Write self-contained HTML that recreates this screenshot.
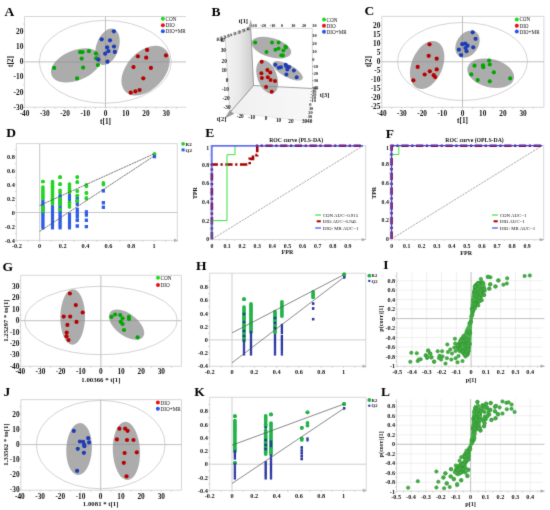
<!DOCTYPE html><html><head><meta charset="utf-8"><style>html,body{margin:0;padding:0;background:#fff;overflow:hidden}svg{display:block}</style></head><body>
<svg width="550" height="510" viewBox="0 0 550 510" shape-rendering="geometricPrecision">
<defs><filter id="soft" filterUnits="userSpaceOnUse" x="0" y="0" width="550" height="510" color-interpolation-filters="sRGB"><feConvolveMatrix order="3" kernelMatrix="0.0183 0.1353 0.0183 0.1353 1 0.1353 0.0183 0.1353 0.0183" divisor="1.6146" edgeMode="duplicate" preserveAlpha="true"/></filter></defs>
<g filter="url(#soft)">
<rect width="550" height="510" fill="#fff"/>
<text x="4.5" y="16.2" font-size="13.5" text-anchor="start" font-weight="bold" font-family="'Liberation Serif', serif" fill="#000" >A</text>
<line x1="24.5" y1="16.5" x2="186" y2="16.5" stroke="#d2d2d2" stroke-width="0.9" />
<line x1="24.5" y1="16.5" x2="24.5" y2="107.2" stroke="#d2d2d2" stroke-width="0.9" />
<line x1="24.5" y1="107.2" x2="186" y2="107.2" stroke="#d2d2d2" stroke-width="0.9" />
<line x1="24.5" y1="107.2" x2="24.5" y2="108.8" stroke="#bdbdbd" stroke-width="0.6" />
<line x1="34.62" y1="107.2" x2="34.62" y2="108.8" stroke="#bdbdbd" stroke-width="0.6" />
<line x1="44.75" y1="107.2" x2="44.75" y2="108.8" stroke="#bdbdbd" stroke-width="0.6" />
<line x1="54.88" y1="107.2" x2="54.88" y2="108.8" stroke="#bdbdbd" stroke-width="0.6" />
<line x1="65" y1="107.2" x2="65" y2="108.8" stroke="#bdbdbd" stroke-width="0.6" />
<line x1="75.12" y1="107.2" x2="75.12" y2="108.8" stroke="#bdbdbd" stroke-width="0.6" />
<line x1="85.25" y1="107.2" x2="85.25" y2="108.8" stroke="#bdbdbd" stroke-width="0.6" />
<line x1="95.38" y1="107.2" x2="95.38" y2="108.8" stroke="#bdbdbd" stroke-width="0.6" />
<line x1="105.5" y1="107.2" x2="105.5" y2="108.8" stroke="#bdbdbd" stroke-width="0.6" />
<line x1="115.62" y1="107.2" x2="115.62" y2="108.8" stroke="#bdbdbd" stroke-width="0.6" />
<line x1="125.75" y1="107.2" x2="125.75" y2="108.8" stroke="#bdbdbd" stroke-width="0.6" />
<line x1="135.88" y1="107.2" x2="135.88" y2="108.8" stroke="#bdbdbd" stroke-width="0.6" />
<line x1="146" y1="107.2" x2="146" y2="108.8" stroke="#bdbdbd" stroke-width="0.6" />
<line x1="156.12" y1="107.2" x2="156.12" y2="108.8" stroke="#bdbdbd" stroke-width="0.6" />
<line x1="166.25" y1="107.2" x2="166.25" y2="108.8" stroke="#bdbdbd" stroke-width="0.6" />
<line x1="176.38" y1="107.2" x2="176.38" y2="108.8" stroke="#bdbdbd" stroke-width="0.6" />
<line x1="22.9" y1="107.35" x2="24.5" y2="107.35" stroke="#bdbdbd" stroke-width="0.6" />
<line x1="22.9" y1="99.78" x2="24.5" y2="99.78" stroke="#bdbdbd" stroke-width="0.6" />
<line x1="22.9" y1="92.2" x2="24.5" y2="92.2" stroke="#bdbdbd" stroke-width="0.6" />
<line x1="22.9" y1="84.62" x2="24.5" y2="84.62" stroke="#bdbdbd" stroke-width="0.6" />
<line x1="22.9" y1="77.05" x2="24.5" y2="77.05" stroke="#bdbdbd" stroke-width="0.6" />
<line x1="22.9" y1="69.47" x2="24.5" y2="69.47" stroke="#bdbdbd" stroke-width="0.6" />
<line x1="22.9" y1="61.9" x2="24.5" y2="61.9" stroke="#bdbdbd" stroke-width="0.6" />
<line x1="22.9" y1="54.33" x2="24.5" y2="54.33" stroke="#bdbdbd" stroke-width="0.6" />
<line x1="22.9" y1="46.75" x2="24.5" y2="46.75" stroke="#bdbdbd" stroke-width="0.6" />
<line x1="22.9" y1="39.17" x2="24.5" y2="39.17" stroke="#bdbdbd" stroke-width="0.6" />
<line x1="22.9" y1="31.6" x2="24.5" y2="31.6" stroke="#bdbdbd" stroke-width="0.6" />
<line x1="22.9" y1="24.02" x2="24.5" y2="24.02" stroke="#bdbdbd" stroke-width="0.6" />
<ellipse cx="105.3" cy="61.8" rx="66" ry="41.4" transform="rotate(0 105.3 61.8)" fill="none" stroke="#c8c8c8" stroke-width="0.8" />
<line x1="24.5" y1="61.9" x2="186" y2="61.9" stroke="#bababa" stroke-width="0.9" />
<line x1="105.5" y1="16.5" x2="105.5" y2="107.2" stroke="#bababa" stroke-width="0.9" />
<ellipse cx="75.95" cy="65.4" rx="26.34" ry="15.04" transform="rotate(-22.09 75.95 65.4)" fill="#8c8c8c" stroke="none" stroke-width="0" fill-opacity="0.72" />
<ellipse cx="107.5" cy="46.8" rx="18.84" ry="11.18" transform="rotate(-71.22 107.5 46.8)" fill="#8c8c8c" stroke="none" stroke-width="0" fill-opacity="0.72" />
<ellipse cx="145.6" cy="70.65" rx="29.14" ry="18.82" transform="rotate(-46.85 145.6 70.65)" fill="#8c8c8c" stroke="none" stroke-width="0" fill-opacity="0.72" />
<circle cx="54.1" cy="67.9" r="2.1" fill="#00a800"/>
<circle cx="77.1" cy="78.4" r="2.1" fill="#00a800"/>
<circle cx="83.1" cy="67.6" r="2.1" fill="#00a800"/>
<circle cx="81.7" cy="58.6" r="2.1" fill="#00a800"/>
<circle cx="80" cy="52.1" r="2.1" fill="#00a800"/>
<circle cx="82.5" cy="52.1" r="2.1" fill="#00a800"/>
<circle cx="88.9" cy="51.2" r="2.1" fill="#00a800"/>
<circle cx="95.9" cy="53.5" r="2.1" fill="#00a800"/>
<circle cx="96.1" cy="58.3" r="2.1" fill="#00a800"/>
<circle cx="97.9" cy="65" r="2.1" fill="#00a800"/>
<circle cx="113.9" cy="31.3" r="2.1" fill="#1c3cb8"/>
<circle cx="101.7" cy="39.3" r="2.1" fill="#1c3cb8"/>
<circle cx="110" cy="40.3" r="2.1" fill="#1c3cb8"/>
<circle cx="107.1" cy="47.3" r="2.1" fill="#1c3cb8"/>
<circle cx="114" cy="46.5" r="2.1" fill="#1c3cb8"/>
<circle cx="108.4" cy="51.2" r="2.1" fill="#1c3cb8"/>
<circle cx="114.8" cy="51.9" r="2.1" fill="#1c3cb8"/>
<circle cx="105.2" cy="53.7" r="2.1" fill="#1c3cb8"/>
<circle cx="98.3" cy="59.6" r="2.1" fill="#1c3cb8"/>
<circle cx="107.5" cy="61.7" r="2.1" fill="#1c3cb8"/>
<circle cx="147.1" cy="49.9" r="2.1" fill="#b80000"/>
<circle cx="137.9" cy="56.3" r="2.1" fill="#b80000"/>
<circle cx="146.2" cy="57.7" r="2.1" fill="#b80000"/>
<circle cx="166" cy="55.4" r="2.1" fill="#b80000"/>
<circle cx="133.5" cy="67.1" r="2.1" fill="#b80000"/>
<circle cx="150.9" cy="67.9" r="2.1" fill="#b80000"/>
<circle cx="143.3" cy="78.3" r="2.1" fill="#b80000"/>
<circle cx="130.7" cy="92.7" r="2.1" fill="#b80000"/>
<circle cx="135.4" cy="91.4" r="2.1" fill="#b80000"/>
<circle cx="139.6" cy="90" r="2.1" fill="#b80000"/>
<text x="23.3" y="34" font-size="7.3" text-anchor="end" font-weight="bold" font-family="'Liberation Serif', serif" fill="#111" >20</text>
<text x="23.3" y="49.15" font-size="7.3" text-anchor="end" font-weight="bold" font-family="'Liberation Serif', serif" fill="#111" >10</text>
<text x="23.3" y="64.3" font-size="7.3" text-anchor="end" font-weight="bold" font-family="'Liberation Serif', serif" fill="#111" >0</text>
<text x="23.3" y="79.45" font-size="7.3" text-anchor="end" font-weight="bold" font-family="'Liberation Serif', serif" fill="#111" >-10</text>
<text x="23.3" y="94.6" font-size="7.3" text-anchor="end" font-weight="bold" font-family="'Liberation Serif', serif" fill="#111" >-20</text>
<text x="23.3" y="109.75" font-size="7.3" text-anchor="end" font-weight="bold" font-family="'Liberation Serif', serif" fill="#111" >-30</text>
<text x="24.5" y="115.8" font-size="7.3" text-anchor="middle" font-weight="bold" font-family="'Liberation Serif', serif" fill="#111" >-40</text>
<text x="44.75" y="115.8" font-size="7.3" text-anchor="middle" font-weight="bold" font-family="'Liberation Serif', serif" fill="#111" >-30</text>
<text x="65" y="115.8" font-size="7.3" text-anchor="middle" font-weight="bold" font-family="'Liberation Serif', serif" fill="#111" >-20</text>
<text x="85.25" y="115.8" font-size="7.3" text-anchor="middle" font-weight="bold" font-family="'Liberation Serif', serif" fill="#111" >-10</text>
<text x="105.5" y="115.8" font-size="7.3" text-anchor="middle" font-weight="bold" font-family="'Liberation Serif', serif" fill="#111" >0</text>
<text x="125.75" y="115.8" font-size="7.3" text-anchor="middle" font-weight="bold" font-family="'Liberation Serif', serif" fill="#111" >10</text>
<text x="146" y="115.8" font-size="7.3" text-anchor="middle" font-weight="bold" font-family="'Liberation Serif', serif" fill="#111" >20</text>
<text x="166.25" y="115.8" font-size="7.3" text-anchor="middle" font-weight="bold" font-family="'Liberation Serif', serif" fill="#111" >30</text>
<text x="105.5" y="123.6" font-size="7.3" text-anchor="middle" font-weight="bold" font-family="'Liberation Serif', serif" fill="#111" >t[1]</text>
<text x="12.8" y="61.5" font-size="7.3" text-anchor="middle" font-weight="bold" font-family="'Liberation Serif', serif" fill="#111" transform="rotate(-90 12.8 61.5)" >t[2]</text>
<circle cx="162.9" cy="18.7" r="2.0" fill="#1edc1e"/>
<circle cx="162.9" cy="25.3" r="2.0" fill="#ec1010"/>
<circle cx="162.9" cy="31.2" r="2.0" fill="#2456ec"/>
<text x="165.5" y="20.6" font-size="5.2" text-anchor="start" font-weight="normal" font-family="'Liberation Serif', serif" fill="#111" >CON</text>
<text x="165.5" y="27.2" font-size="5.2" text-anchor="start" font-weight="normal" font-family="'Liberation Serif', serif" fill="#111" >DIO</text>
<text x="165.5" y="33.1" font-size="5.2" text-anchor="start" font-weight="normal" font-family="'Liberation Serif', serif" fill="#111" >DIO+MR</text>
<text x="211.5" y="16.4" font-size="13.5" text-anchor="start" font-weight="bold" font-family="'Liberation Serif', serif" fill="#000" >B</text>
<defs><linearGradient id="wallg" x1="0" y1="0" x2="1" y2="0"><stop offset="0" stop-color="#f4f4f4"/><stop offset="0.5" stop-color="#e8e8e8"/><stop offset="1" stop-color="#cbcbcb"/></linearGradient><linearGradient id="floorg" x1="0" y1="0" x2="1" y2="0"><stop offset="0" stop-color="#f0f0f0"/><stop offset="1" stop-color="#f8f8f8"/></linearGradient></defs>
<polygon points="225.2,37.6 250.6,26.2 253.6,85.5 229.8,112.5" fill="url(#wallg)" stroke="none"/>
<polygon points="253.6,85.5 313,88.6 310.5,121 229.8,112.5" fill="url(#floorg)" stroke="none"/>
<line x1="225.2" y1="37.6" x2="229.8" y2="112.5" stroke="#c4c4c4" stroke-width="0.7" />
<line x1="250.6" y1="26.2" x2="253.6" y2="85.5" stroke="#8e8e8e" stroke-width="0.8" />
<line x1="253.6" y1="85.5" x2="229.8" y2="112.5" stroke="#7a7a7a" stroke-width="0.8" />
<line x1="253.6" y1="85.5" x2="318" y2="88.8" stroke="#8a8a8a" stroke-width="0.8" />
<line x1="250.6" y1="28" x2="312.3" y2="28.4" stroke="#b8b8b8" stroke-width="0.6" />
<line x1="312.3" y1="28.4" x2="312.6" y2="88.6" stroke="#b8b8b8" stroke-width="0.6" />
<line x1="229.8" y1="112.5" x2="310.5" y2="121.5" stroke="#dadada" stroke-width="0.6" />
<line x1="225.2" y1="37.6" x2="250.6" y2="26.2" stroke="#c8c8c8" stroke-width="0.6" />
<polygon points="224.5,118.5 230,110 234,114" fill="#9a9a9a"/>
<polygon points="250.6,19.5 248.8,27 252.6,27" fill="#a8a8a8"/>
<polygon points="319,88.8 313,86.6 313,91" fill="#9a9a9a"/>
<ellipse cx="271.4" cy="47.55" rx="20.46" ry="9.56" transform="rotate(16.5 271.4 47.55)" fill="#8c8c8c" stroke="none" stroke-width="0" fill-opacity="0.72" />
<ellipse cx="267.15" cy="76.8" rx="17.52" ry="9.76" transform="rotate(70.05 267.15 76.8)" fill="#8c8c8c" stroke="none" stroke-width="0" fill-opacity="0.72" />
<ellipse cx="287.7" cy="70.8" rx="16.87" ry="6.27" transform="rotate(28.73 287.7 70.8)" fill="#8c8c8c" stroke="none" stroke-width="0" fill-opacity="0.72" />
<circle cx="255.2" cy="42.6" r="2.0" fill="#00a800"/>
<circle cx="272" cy="42.4" r="2.0" fill="#00a800"/>
<circle cx="278.6" cy="42.4" r="2.0" fill="#00a800"/>
<circle cx="285.4" cy="46.6" r="2.0" fill="#00a800"/>
<circle cx="286" cy="47.6" r="2.0" fill="#00a800"/>
<circle cx="278.6" cy="48.6" r="2.0" fill="#00a800"/>
<circle cx="275.4" cy="49.7" r="2.0" fill="#00a800"/>
<circle cx="283.4" cy="50.4" r="2.0" fill="#00a800"/>
<circle cx="266.5" cy="52" r="2.0" fill="#00a800"/>
<circle cx="281.3" cy="55.2" r="2.0" fill="#00a800"/>
<circle cx="283" cy="55.5" r="2.0" fill="#00a800"/>
<circle cx="261.7" cy="61.8" r="2.0" fill="#b80000"/>
<circle cx="267.4" cy="70" r="2.0" fill="#b80000"/>
<circle cx="270.3" cy="72.6" r="2.0" fill="#b80000"/>
<circle cx="261.4" cy="73.3" r="2.0" fill="#b80000"/>
<circle cx="261.9" cy="78.1" r="2.0" fill="#b80000"/>
<circle cx="267.8" cy="77.2" r="2.0" fill="#b80000"/>
<circle cx="270.6" cy="79.9" r="2.0" fill="#b80000"/>
<circle cx="275" cy="81" r="2.0" fill="#b80000"/>
<circle cx="266.1" cy="87" r="2.0" fill="#b80000"/>
<circle cx="271.7" cy="91.8" r="2.0" fill="#b80000"/>
<circle cx="275.4" cy="64.8" r="2.0" fill="#1c3cb8"/>
<circle cx="278.8" cy="67.8" r="2.0" fill="#1c3cb8"/>
<circle cx="280.9" cy="67.3" r="2.0" fill="#1c3cb8"/>
<circle cx="285.7" cy="64.8" r="2.0" fill="#1c3cb8"/>
<circle cx="286.4" cy="66.2" r="2.0" fill="#1c3cb8"/>
<circle cx="289.1" cy="66.9" r="2.0" fill="#1c3cb8"/>
<circle cx="287.3" cy="69.6" r="2.0" fill="#1c3cb8"/>
<circle cx="293.9" cy="70.6" r="2.0" fill="#1c3cb8"/>
<circle cx="286.4" cy="74.4" r="2.0" fill="#1c3cb8"/>
<circle cx="296.7" cy="77.2" r="2.0" fill="#1c3cb8"/>
<text x="224.7" y="42.3" font-size="5.3" text-anchor="end" font-weight="bold" font-family="'Liberation Serif', serif" fill="#111" >40</text>
<text x="226" y="52.4" font-size="5.3" text-anchor="end" font-weight="bold" font-family="'Liberation Serif', serif" fill="#111" >30</text>
<text x="226.8" y="62.7" font-size="5.3" text-anchor="end" font-weight="bold" font-family="'Liberation Serif', serif" fill="#111" >20</text>
<text x="226.7" y="72.2" font-size="5.3" text-anchor="end" font-weight="bold" font-family="'Liberation Serif', serif" fill="#111" >10</text>
<text x="228.4" y="81.8" font-size="5.3" text-anchor="end" font-weight="bold" font-family="'Liberation Serif', serif" fill="#111" >0</text>
<text x="228.9" y="91" font-size="5.3" text-anchor="end" font-weight="bold" font-family="'Liberation Serif', serif" fill="#111" >-10</text>
<text x="229.6" y="99.9" font-size="5.3" text-anchor="end" font-weight="bold" font-family="'Liberation Serif', serif" fill="#111" >-20</text>
<text x="230.6" y="108.8" font-size="5.3" text-anchor="end" font-weight="bold" font-family="'Liberation Serif', serif" fill="#111" >-30</text>
<text x="240.2" y="117.7" font-size="5.2" text-anchor="middle" font-weight="bold" font-family="'Liberation Serif', serif" fill="#111" >-20</text>
<text x="251.7" y="119.3" font-size="5.2" text-anchor="middle" font-weight="bold" font-family="'Liberation Serif', serif" fill="#111" >-10</text>
<text x="266" y="120.3" font-size="5.2" text-anchor="middle" font-weight="bold" font-family="'Liberation Serif', serif" fill="#111" >0</text>
<text x="278.5" y="121.6" font-size="5.2" text-anchor="middle" font-weight="bold" font-family="'Liberation Serif', serif" fill="#111" >10</text>
<text x="290.9" y="122.6" font-size="5.2" text-anchor="middle" font-weight="bold" font-family="'Liberation Serif', serif" fill="#111" >20</text>
<text x="307.1" y="123.4" font-size="5.2" text-anchor="middle" font-weight="bold" font-family="'Liberation Serif', serif" fill="#111" >3040</text>
<text x="254" y="27.4" font-size="4.2" text-anchor="middle" font-weight="bold" font-family="'Liberation Serif', serif" fill="#111" >-30</text>
<text x="263.2" y="27.4" font-size="4.2" text-anchor="middle" font-weight="bold" font-family="'Liberation Serif', serif" fill="#111" >-20</text>
<text x="272.6" y="27.4" font-size="4.2" text-anchor="middle" font-weight="bold" font-family="'Liberation Serif', serif" fill="#111" >-10</text>
<text x="282" y="27.4" font-size="4.2" text-anchor="middle" font-weight="bold" font-family="'Liberation Serif', serif" fill="#111" >0</text>
<text x="293.3" y="27.4" font-size="4.2" text-anchor="middle" font-weight="bold" font-family="'Liberation Serif', serif" fill="#111" >10</text>
<text x="304" y="27.4" font-size="4.2" text-anchor="middle" font-weight="bold" font-family="'Liberation Serif', serif" fill="#111" >20</text>
<text x="314.4" y="27.4" font-size="4.2" text-anchor="middle" font-weight="bold" font-family="'Liberation Serif', serif" fill="#111" >30</text>
<text x="312.3" y="36.6" font-size="4.4" text-anchor="start" font-weight="bold" font-family="'Liberation Serif', serif" fill="#111" >30</text>
<text x="312.3" y="44.7" font-size="4.4" text-anchor="start" font-weight="bold" font-family="'Liberation Serif', serif" fill="#111" >20</text>
<text x="312.3" y="52.7" font-size="4.4" text-anchor="start" font-weight="bold" font-family="'Liberation Serif', serif" fill="#111" >10</text>
<text x="312.3" y="60.5" font-size="4.4" text-anchor="start" font-weight="bold" font-family="'Liberation Serif', serif" fill="#111" >0</text>
<text x="312.3" y="67.8" font-size="4.4" text-anchor="start" font-weight="bold" font-family="'Liberation Serif', serif" fill="#111" >-10</text>
<text x="312.3" y="75.2" font-size="4.4" text-anchor="start" font-weight="bold" font-family="'Liberation Serif', serif" fill="#111" >-20</text>
<text x="312.3" y="82.1" font-size="4.4" text-anchor="start" font-weight="bold" font-family="'Liberation Serif', serif" fill="#111" >-30</text>
<text x="312.3" y="88.9" font-size="4.4" text-anchor="start" font-weight="bold" font-family="'Liberation Serif', serif" fill="#111" >-40</text>
<text x="313.6" y="92.5" font-size="4.4" text-anchor="middle" font-weight="bold" font-family="'Liberation Serif', serif" fill="#111" >-30</text>
<text x="313.4" y="95.7" font-size="4.4" text-anchor="middle" font-weight="bold" font-family="'Liberation Serif', serif" fill="#111" >-20</text>
<text x="313.2" y="99.2" font-size="4.4" text-anchor="middle" font-weight="bold" font-family="'Liberation Serif', serif" fill="#111" >-10</text>
<text x="313" y="101.8" font-size="4.4" text-anchor="middle" font-weight="bold" font-family="'Liberation Serif', serif" fill="#111" >-10</text>
<text x="310.3" y="105.8" font-size="4.4" text-anchor="middle" font-weight="bold" font-family="'Liberation Serif', serif" fill="#111" >0</text>
<text x="311.1" y="109.6" font-size="4.4" text-anchor="middle" font-weight="bold" font-family="'Liberation Serif', serif" fill="#111" >10</text>
<text x="310.5" y="114" font-size="4.4" text-anchor="middle" font-weight="bold" font-family="'Liberation Serif', serif" fill="#111" >20</text>
<text x="310" y="118.1" font-size="4.4" text-anchor="middle" font-weight="bold" font-family="'Liberation Serif', serif" fill="#111" >30</text>
<text x="233.5" y="35.6" font-size="4.8" text-anchor="middle" font-weight="bold" font-family="'Liberation Serif', serif" fill="#111" transform="rotate(-19 233.5 35.6)" textLength="35" lengthAdjust="spacingAndGlyphs">40 30 20 10 0 -10 -20 -30 -40</text>
<text x="243.2" y="23" font-size="6.4" text-anchor="middle" font-weight="bold" font-family="'Liberation Serif', serif" fill="#111" >t[1]</text>
<text x="221.5" y="121.3" font-size="6.4" text-anchor="middle" font-weight="bold" font-family="'Liberation Serif', serif" fill="#111" >t[2]</text>
<text x="324.6" y="97" font-size="6.4" text-anchor="middle" font-weight="bold" font-family="'Liberation Serif', serif" fill="#111" >t[3]</text>
<circle cx="324" cy="19.6" r="2.0" fill="#1edc1e"/>
<circle cx="324" cy="25.8" r="2.0" fill="#ec1010"/>
<circle cx="324" cy="31.7" r="2.0" fill="#2456ec"/>
<text x="326.6" y="21.5" font-size="5.2" text-anchor="start" font-weight="normal" font-family="'Liberation Serif', serif" fill="#111" >CON</text>
<text x="326.6" y="27.7" font-size="5.2" text-anchor="start" font-weight="normal" font-family="'Liberation Serif', serif" fill="#111" >DIO</text>
<text x="326.6" y="33.6" font-size="5.2" text-anchor="start" font-weight="normal" font-family="'Liberation Serif', serif" fill="#111" >DIO+MR</text>
<text x="364.6" y="15" font-size="13.5" text-anchor="start" font-weight="bold" font-family="'Liberation Serif', serif" fill="#000" >C</text>
<line x1="381.8" y1="16.4" x2="543.9" y2="16.4" stroke="#d2d2d2" stroke-width="0.9" />
<line x1="381.8" y1="16.4" x2="381.8" y2="107.3" stroke="#d2d2d2" stroke-width="0.9" />
<line x1="381.8" y1="107.3" x2="543.9" y2="107.3" stroke="#d2d2d2" stroke-width="0.9" />
<line x1="543.9" y1="16.4" x2="543.9" y2="107.3" stroke="#d2d2d2" stroke-width="0.9" />
<line x1="381.7" y1="107.3" x2="381.7" y2="108.9" stroke="#bdbdbd" stroke-width="0.6" />
<line x1="391.8" y1="107.3" x2="391.8" y2="108.9" stroke="#bdbdbd" stroke-width="0.6" />
<line x1="401.9" y1="107.3" x2="401.9" y2="108.9" stroke="#bdbdbd" stroke-width="0.6" />
<line x1="412" y1="107.3" x2="412" y2="108.9" stroke="#bdbdbd" stroke-width="0.6" />
<line x1="422.1" y1="107.3" x2="422.1" y2="108.9" stroke="#bdbdbd" stroke-width="0.6" />
<line x1="432.2" y1="107.3" x2="432.2" y2="108.9" stroke="#bdbdbd" stroke-width="0.6" />
<line x1="442.3" y1="107.3" x2="442.3" y2="108.9" stroke="#bdbdbd" stroke-width="0.6" />
<line x1="452.4" y1="107.3" x2="452.4" y2="108.9" stroke="#bdbdbd" stroke-width="0.6" />
<line x1="462.5" y1="107.3" x2="462.5" y2="108.9" stroke="#bdbdbd" stroke-width="0.6" />
<line x1="472.6" y1="107.3" x2="472.6" y2="108.9" stroke="#bdbdbd" stroke-width="0.6" />
<line x1="482.7" y1="107.3" x2="482.7" y2="108.9" stroke="#bdbdbd" stroke-width="0.6" />
<line x1="492.8" y1="107.3" x2="492.8" y2="108.9" stroke="#bdbdbd" stroke-width="0.6" />
<line x1="502.9" y1="107.3" x2="502.9" y2="108.9" stroke="#bdbdbd" stroke-width="0.6" />
<line x1="513" y1="107.3" x2="513" y2="108.9" stroke="#bdbdbd" stroke-width="0.6" />
<line x1="523.1" y1="107.3" x2="523.1" y2="108.9" stroke="#bdbdbd" stroke-width="0.6" />
<line x1="533.2" y1="107.3" x2="533.2" y2="108.9" stroke="#bdbdbd" stroke-width="0.6" />
<line x1="380.2" y1="107.05" x2="381.8" y2="107.05" stroke="#bdbdbd" stroke-width="0.6" />
<line x1="380.2" y1="102.53" x2="381.8" y2="102.53" stroke="#bdbdbd" stroke-width="0.6" />
<line x1="380.2" y1="98" x2="381.8" y2="98" stroke="#bdbdbd" stroke-width="0.6" />
<line x1="380.2" y1="93.47" x2="381.8" y2="93.47" stroke="#bdbdbd" stroke-width="0.6" />
<line x1="380.2" y1="88.95" x2="381.8" y2="88.95" stroke="#bdbdbd" stroke-width="0.6" />
<line x1="380.2" y1="84.42" x2="381.8" y2="84.42" stroke="#bdbdbd" stroke-width="0.6" />
<line x1="380.2" y1="79.9" x2="381.8" y2="79.9" stroke="#bdbdbd" stroke-width="0.6" />
<line x1="380.2" y1="75.38" x2="381.8" y2="75.38" stroke="#bdbdbd" stroke-width="0.6" />
<line x1="380.2" y1="70.85" x2="381.8" y2="70.85" stroke="#bdbdbd" stroke-width="0.6" />
<line x1="380.2" y1="66.33" x2="381.8" y2="66.33" stroke="#bdbdbd" stroke-width="0.6" />
<line x1="380.2" y1="61.8" x2="381.8" y2="61.8" stroke="#bdbdbd" stroke-width="0.6" />
<line x1="380.2" y1="57.27" x2="381.8" y2="57.27" stroke="#bdbdbd" stroke-width="0.6" />
<line x1="380.2" y1="52.75" x2="381.8" y2="52.75" stroke="#bdbdbd" stroke-width="0.6" />
<line x1="380.2" y1="48.22" x2="381.8" y2="48.22" stroke="#bdbdbd" stroke-width="0.6" />
<line x1="380.2" y1="43.7" x2="381.8" y2="43.7" stroke="#bdbdbd" stroke-width="0.6" />
<line x1="380.2" y1="39.17" x2="381.8" y2="39.17" stroke="#bdbdbd" stroke-width="0.6" />
<line x1="380.2" y1="34.65" x2="381.8" y2="34.65" stroke="#bdbdbd" stroke-width="0.6" />
<line x1="380.2" y1="30.12" x2="381.8" y2="30.12" stroke="#bdbdbd" stroke-width="0.6" />
<line x1="380.2" y1="25.6" x2="381.8" y2="25.6" stroke="#bdbdbd" stroke-width="0.6" />
<ellipse cx="462.5" cy="61.5" rx="65" ry="39" transform="rotate(0 462.5 61.5)" fill="none" stroke="#c8c8c8" stroke-width="0.8" />
<line x1="381.8" y1="61.8" x2="543.9" y2="61.8" stroke="#bababa" stroke-width="0.9" />
<line x1="462.5" y1="16.4" x2="462.5" y2="107.3" stroke="#bababa" stroke-width="0.9" />
<ellipse cx="427.15" cy="65" rx="25.16" ry="15.52" transform="rotate(-67.63 427.15 65)" fill="#8c8c8c" stroke="none" stroke-width="0" fill-opacity="0.72" />
<ellipse cx="467.5" cy="44.1" rx="14.8" ry="10.72" transform="rotate(-55.15 467.5 44.1)" fill="#8c8c8c" stroke="none" stroke-width="0" fill-opacity="0.72" />
<ellipse cx="490.7" cy="73.25" rx="23.84" ry="14.13" transform="rotate(13.79 490.7 73.25)" fill="#8c8c8c" stroke="none" stroke-width="0" fill-opacity="0.72" />
<circle cx="429.5" cy="44.3" r="2.1" fill="#b80000"/>
<circle cx="428.7" cy="55.8" r="2.1" fill="#b80000"/>
<circle cx="436.7" cy="58.7" r="2.1" fill="#b80000"/>
<circle cx="417.7" cy="66.9" r="2.1" fill="#b80000"/>
<circle cx="436.7" cy="69.4" r="2.1" fill="#b80000"/>
<circle cx="429.8" cy="71.3" r="2.1" fill="#b80000"/>
<circle cx="424.7" cy="74.5" r="2.1" fill="#b80000"/>
<circle cx="433.7" cy="75.2" r="2.1" fill="#b80000"/>
<circle cx="435.2" cy="77.1" r="2.1" fill="#b80000"/>
<circle cx="413.4" cy="80.3" r="2.1" fill="#b80000"/>
<circle cx="472.7" cy="32.3" r="2.1" fill="#1c3cb8"/>
<circle cx="475.6" cy="38.8" r="2.1" fill="#1c3cb8"/>
<circle cx="462.3" cy="44.2" r="2.1" fill="#1c3cb8"/>
<circle cx="465.2" cy="43.6" r="2.1" fill="#1c3cb8"/>
<circle cx="467.6" cy="45.7" r="2.1" fill="#1c3cb8"/>
<circle cx="465.5" cy="48" r="2.1" fill="#1c3cb8"/>
<circle cx="473.2" cy="47.3" r="2.1" fill="#1c3cb8"/>
<circle cx="458.9" cy="49.7" r="2.1" fill="#1c3cb8"/>
<circle cx="466.5" cy="51.2" r="2.1" fill="#1c3cb8"/>
<circle cx="461.1" cy="55.1" r="2.1" fill="#1c3cb8"/>
<circle cx="489.1" cy="60.6" r="2.1" fill="#00a800"/>
<circle cx="489.8" cy="64.5" r="2.1" fill="#00a800"/>
<circle cx="474.5" cy="65.7" r="2.1" fill="#00a800"/>
<circle cx="483" cy="65.3" r="2.1" fill="#00a800"/>
<circle cx="483.3" cy="67.2" r="2.1" fill="#00a800"/>
<circle cx="493.9" cy="72.3" r="2.1" fill="#00a800"/>
<circle cx="471.3" cy="74.4" r="2.1" fill="#00a800"/>
<circle cx="477.7" cy="80.1" r="2.1" fill="#00a800"/>
<circle cx="489.8" cy="81.3" r="2.1" fill="#00a800"/>
<circle cx="510.2" cy="78.4" r="2.1" fill="#00a800"/>
<text x="380.4" y="28" font-size="7.3" text-anchor="end" font-weight="bold" font-family="'Liberation Serif', serif" fill="#111" >20</text>
<text x="380.4" y="37.05" font-size="7.3" text-anchor="end" font-weight="bold" font-family="'Liberation Serif', serif" fill="#111" >15</text>
<text x="380.4" y="46.1" font-size="7.3" text-anchor="end" font-weight="bold" font-family="'Liberation Serif', serif" fill="#111" >10</text>
<text x="380.4" y="55.15" font-size="7.3" text-anchor="end" font-weight="bold" font-family="'Liberation Serif', serif" fill="#111" >5</text>
<text x="380.4" y="64.2" font-size="7.3" text-anchor="end" font-weight="bold" font-family="'Liberation Serif', serif" fill="#111" >0</text>
<text x="380.4" y="73.25" font-size="7.3" text-anchor="end" font-weight="bold" font-family="'Liberation Serif', serif" fill="#111" >-5</text>
<text x="380.4" y="82.3" font-size="7.3" text-anchor="end" font-weight="bold" font-family="'Liberation Serif', serif" fill="#111" >-10</text>
<text x="380.4" y="91.35" font-size="7.3" text-anchor="end" font-weight="bold" font-family="'Liberation Serif', serif" fill="#111" >-15</text>
<text x="380.4" y="100.4" font-size="7.3" text-anchor="end" font-weight="bold" font-family="'Liberation Serif', serif" fill="#111" >-20</text>
<text x="380.4" y="109.45" font-size="7.3" text-anchor="end" font-weight="bold" font-family="'Liberation Serif', serif" fill="#111" >-25</text>
<text x="381.7" y="115.8" font-size="7.3" text-anchor="middle" font-weight="bold" font-family="'Liberation Serif', serif" fill="#111" >-40</text>
<text x="401.9" y="115.8" font-size="7.3" text-anchor="middle" font-weight="bold" font-family="'Liberation Serif', serif" fill="#111" >-30</text>
<text x="422.1" y="115.8" font-size="7.3" text-anchor="middle" font-weight="bold" font-family="'Liberation Serif', serif" fill="#111" >-20</text>
<text x="442.3" y="115.8" font-size="7.3" text-anchor="middle" font-weight="bold" font-family="'Liberation Serif', serif" fill="#111" >-10</text>
<text x="462.5" y="115.8" font-size="7.3" text-anchor="middle" font-weight="bold" font-family="'Liberation Serif', serif" fill="#111" >0</text>
<text x="482.7" y="115.8" font-size="7.3" text-anchor="middle" font-weight="bold" font-family="'Liberation Serif', serif" fill="#111" >10</text>
<text x="502.9" y="115.8" font-size="7.3" text-anchor="middle" font-weight="bold" font-family="'Liberation Serif', serif" fill="#111" >20</text>
<text x="523.1" y="115.8" font-size="7.3" text-anchor="middle" font-weight="bold" font-family="'Liberation Serif', serif" fill="#111" >30</text>
<text x="462.5" y="123.3" font-size="7.3" text-anchor="middle" font-weight="bold" font-family="'Liberation Serif', serif" fill="#111" >t[1]</text>
<text x="370.6" y="61.6" font-size="7.3" text-anchor="middle" font-weight="bold" font-family="'Liberation Serif', serif" fill="#111" transform="rotate(-90 370.6 61.6)" >t[2]</text>
<circle cx="516.8" cy="19.5" r="2.0" fill="#1edc1e"/>
<circle cx="516.8" cy="25.7" r="2.0" fill="#ec1010"/>
<circle cx="516.8" cy="31.6" r="2.0" fill="#2456ec"/>
<text x="519.4" y="21.4" font-size="5.2" text-anchor="start" font-weight="normal" font-family="'Liberation Serif', serif" fill="#111" >CON</text>
<text x="519.4" y="27.6" font-size="5.2" text-anchor="start" font-weight="normal" font-family="'Liberation Serif', serif" fill="#111" >DIO</text>
<text x="519.4" y="33.5" font-size="5.2" text-anchor="start" font-weight="normal" font-family="'Liberation Serif', serif" fill="#111" >DIO+MR</text>
<text x="6.3" y="136.9" font-size="13.5" text-anchor="start" font-weight="bold" font-family="'Liberation Serif', serif" fill="#000" >D</text>
<line x1="16.4" y1="143.6" x2="177.3" y2="143.6" stroke="#d2d2d2" stroke-width="0.9" />
<line x1="16.4" y1="143.6" x2="16.4" y2="240.4" stroke="#d2d2d2" stroke-width="0.9" />
<line x1="16.4" y1="240.4" x2="177.3" y2="240.4" stroke="#d2d2d2" stroke-width="0.9" />
<line x1="177.3" y1="143.6" x2="177.3" y2="240.4" stroke="#d2d2d2" stroke-width="0.9" />
<line x1="16.8" y1="240.4" x2="16.8" y2="242" stroke="#bdbdbd" stroke-width="0.6" />
<line x1="28.25" y1="240.4" x2="28.25" y2="242" stroke="#bdbdbd" stroke-width="0.6" />
<line x1="39.7" y1="240.4" x2="39.7" y2="242" stroke="#bdbdbd" stroke-width="0.6" />
<line x1="51.15" y1="240.4" x2="51.15" y2="242" stroke="#bdbdbd" stroke-width="0.6" />
<line x1="62.6" y1="240.4" x2="62.6" y2="242" stroke="#bdbdbd" stroke-width="0.6" />
<line x1="74.05" y1="240.4" x2="74.05" y2="242" stroke="#bdbdbd" stroke-width="0.6" />
<line x1="85.5" y1="240.4" x2="85.5" y2="242" stroke="#bdbdbd" stroke-width="0.6" />
<line x1="96.95" y1="240.4" x2="96.95" y2="242" stroke="#bdbdbd" stroke-width="0.6" />
<line x1="108.4" y1="240.4" x2="108.4" y2="242" stroke="#bdbdbd" stroke-width="0.6" />
<line x1="119.85" y1="240.4" x2="119.85" y2="242" stroke="#bdbdbd" stroke-width="0.6" />
<line x1="131.3" y1="240.4" x2="131.3" y2="242" stroke="#bdbdbd" stroke-width="0.6" />
<line x1="142.75" y1="240.4" x2="142.75" y2="242" stroke="#bdbdbd" stroke-width="0.6" />
<line x1="154.2" y1="240.4" x2="154.2" y2="242" stroke="#bdbdbd" stroke-width="0.6" />
<line x1="165.65" y1="240.4" x2="165.65" y2="242" stroke="#bdbdbd" stroke-width="0.6" />
<line x1="177.1" y1="240.4" x2="177.1" y2="242" stroke="#bdbdbd" stroke-width="0.6" />
<line x1="14.8" y1="240.5" x2="16.4" y2="240.5" stroke="#bdbdbd" stroke-width="0.6" />
<line x1="14.8" y1="233.5" x2="16.4" y2="233.5" stroke="#bdbdbd" stroke-width="0.6" />
<line x1="14.8" y1="226.5" x2="16.4" y2="226.5" stroke="#bdbdbd" stroke-width="0.6" />
<line x1="14.8" y1="219.5" x2="16.4" y2="219.5" stroke="#bdbdbd" stroke-width="0.6" />
<line x1="14.8" y1="212.5" x2="16.4" y2="212.5" stroke="#bdbdbd" stroke-width="0.6" />
<line x1="14.8" y1="205.5" x2="16.4" y2="205.5" stroke="#bdbdbd" stroke-width="0.6" />
<line x1="14.8" y1="198.5" x2="16.4" y2="198.5" stroke="#bdbdbd" stroke-width="0.6" />
<line x1="14.8" y1="191.5" x2="16.4" y2="191.5" stroke="#bdbdbd" stroke-width="0.6" />
<line x1="14.8" y1="184.5" x2="16.4" y2="184.5" stroke="#bdbdbd" stroke-width="0.6" />
<line x1="14.8" y1="177.5" x2="16.4" y2="177.5" stroke="#bdbdbd" stroke-width="0.6" />
<line x1="14.8" y1="170.5" x2="16.4" y2="170.5" stroke="#bdbdbd" stroke-width="0.6" />
<line x1="14.8" y1="163.5" x2="16.4" y2="163.5" stroke="#bdbdbd" stroke-width="0.6" />
<line x1="14.8" y1="156.5" x2="16.4" y2="156.5" stroke="#bdbdbd" stroke-width="0.6" />
<line x1="14.8" y1="149.5" x2="16.4" y2="149.5" stroke="#bdbdbd" stroke-width="0.6" />
<line x1="16.4" y1="212.5" x2="177.3" y2="212.5" stroke="#c2c2c2" stroke-width="0.9" />
<line x1="39.7" y1="143.6" x2="39.7" y2="240.4" stroke="#c2c2c2" stroke-width="0.9" />
<rect x="41.35" y="199.25" width="3.1" height="3.1" fill="#2f5ee6"/>
<rect x="41.35" y="201.19" width="3.1" height="3.1" fill="#2f5ee6"/>
<rect x="41.35" y="203.12" width="3.1" height="3.1" fill="#2f5ee6"/>
<rect x="41.35" y="205.06" width="3.1" height="3.1" fill="#2f5ee6"/>
<rect x="41.35" y="206.99" width="3.1" height="3.1" fill="#2f5ee6"/>
<rect x="41.35" y="208.93" width="3.1" height="3.1" fill="#2f5ee6"/>
<rect x="41.35" y="210.86" width="3.1" height="3.1" fill="#2f5ee6"/>
<rect x="41.35" y="212.8" width="3.1" height="3.1" fill="#2f5ee6"/>
<rect x="41.35" y="214.74" width="3.1" height="3.1" fill="#2f5ee6"/>
<rect x="41.35" y="216.67" width="3.1" height="3.1" fill="#2f5ee6"/>
<rect x="41.35" y="218.61" width="3.1" height="3.1" fill="#2f5ee6"/>
<rect x="41.35" y="220.54" width="3.1" height="3.1" fill="#2f5ee6"/>
<rect x="41.35" y="222.48" width="3.1" height="3.1" fill="#2f5ee6"/>
<rect x="41.35" y="224.41" width="3.1" height="3.1" fill="#2f5ee6"/>
<rect x="41.35" y="226.35" width="3.1" height="3.1" fill="#2f5ee6"/>
<circle cx="42.9" cy="181.5" r="1.85" fill="#22d422"/>
<circle cx="42.9" cy="181.5" r="1.85" fill="#22d422"/>
<circle cx="42.9" cy="187.1" r="1.85" fill="#22d422"/>
<circle cx="42.9" cy="189" r="1.85" fill="#22d422"/>
<circle cx="42.9" cy="190.9" r="1.85" fill="#22d422"/>
<circle cx="42.9" cy="192.8" r="1.85" fill="#22d422"/>
<circle cx="42.9" cy="194.7" r="1.85" fill="#22d422"/>
<circle cx="42.9" cy="196.6" r="1.85" fill="#22d422"/>
<circle cx="42.9" cy="198.5" r="1.85" fill="#22d422"/>
<circle cx="42.9" cy="207.2" r="1.85" fill="#22d422"/>
<circle cx="42.9" cy="209.1" r="1.85" fill="#22d422"/>
<circle cx="42.9" cy="211" r="1.85" fill="#22d422"/>
<circle cx="52.5" cy="181.7" r="1.85" fill="#22d422"/>
<circle cx="52.5" cy="183.54" r="1.85" fill="#22d422"/>
<circle cx="52.5" cy="185.38" r="1.85" fill="#22d422"/>
<circle cx="52.5" cy="187.22" r="1.85" fill="#22d422"/>
<circle cx="52.5" cy="189.07" r="1.85" fill="#22d422"/>
<circle cx="52.5" cy="190.91" r="1.85" fill="#22d422"/>
<circle cx="52.5" cy="192.75" r="1.85" fill="#22d422"/>
<circle cx="52.5" cy="194.59" r="1.85" fill="#22d422"/>
<circle cx="52.5" cy="196.43" r="1.85" fill="#22d422"/>
<circle cx="52.5" cy="198.28" r="1.85" fill="#22d422"/>
<circle cx="52.5" cy="200.12" r="1.85" fill="#22d422"/>
<circle cx="52.5" cy="201.96" r="1.85" fill="#22d422"/>
<circle cx="52.5" cy="203.8" r="1.85" fill="#22d422"/>
<rect x="50.95" y="205.25" width="3.1" height="3.1" fill="#2f5ee6"/>
<rect x="50.95" y="207.17" width="3.1" height="3.1" fill="#2f5ee6"/>
<rect x="50.95" y="209.09" width="3.1" height="3.1" fill="#2f5ee6"/>
<rect x="50.95" y="211" width="3.1" height="3.1" fill="#2f5ee6"/>
<rect x="50.95" y="212.92" width="3.1" height="3.1" fill="#2f5ee6"/>
<rect x="50.95" y="214.84" width="3.1" height="3.1" fill="#2f5ee6"/>
<rect x="50.95" y="216.76" width="3.1" height="3.1" fill="#2f5ee6"/>
<rect x="50.95" y="218.68" width="3.1" height="3.1" fill="#2f5ee6"/>
<rect x="50.95" y="220.6" width="3.1" height="3.1" fill="#2f5ee6"/>
<rect x="50.95" y="222.51" width="3.1" height="3.1" fill="#2f5ee6"/>
<rect x="50.95" y="224.43" width="3.1" height="3.1" fill="#2f5ee6"/>
<rect x="50.95" y="226.35" width="3.1" height="3.1" fill="#2f5ee6"/>
<rect x="58.55" y="194.05" width="3.1" height="3.1" fill="#2f5ee6"/>
<rect x="58.55" y="195.95" width="3.1" height="3.1" fill="#2f5ee6"/>
<rect x="58.55" y="197.85" width="3.1" height="3.1" fill="#2f5ee6"/>
<rect x="58.55" y="199.75" width="3.1" height="3.1" fill="#2f5ee6"/>
<rect x="58.55" y="201.65" width="3.1" height="3.1" fill="#2f5ee6"/>
<rect x="58.55" y="203.55" width="3.1" height="3.1" fill="#2f5ee6"/>
<rect x="58.55" y="205.45" width="3.1" height="3.1" fill="#2f5ee6"/>
<rect x="58.55" y="207.35" width="3.1" height="3.1" fill="#2f5ee6"/>
<rect x="58.55" y="209.25" width="3.1" height="3.1" fill="#2f5ee6"/>
<rect x="58.55" y="211.15" width="3.1" height="3.1" fill="#2f5ee6"/>
<rect x="58.55" y="213.05" width="3.1" height="3.1" fill="#2f5ee6"/>
<rect x="58.55" y="214.95" width="3.1" height="3.1" fill="#2f5ee6"/>
<rect x="58.55" y="216.85" width="3.1" height="3.1" fill="#2f5ee6"/>
<rect x="58.55" y="218.75" width="3.1" height="3.1" fill="#2f5ee6"/>
<rect x="58.55" y="220.65" width="3.1" height="3.1" fill="#2f5ee6"/>
<rect x="58.55" y="222.55" width="3.1" height="3.1" fill="#2f5ee6"/>
<rect x="58.55" y="224.45" width="3.1" height="3.1" fill="#2f5ee6"/>
<rect x="58.55" y="226.35" width="3.1" height="3.1" fill="#2f5ee6"/>
<circle cx="60.1" cy="177.2" r="1.85" fill="#22d422"/>
<circle cx="60.1" cy="177.2" r="1.85" fill="#22d422"/>
<circle cx="60.1" cy="184.2" r="1.85" fill="#22d422"/>
<circle cx="60.1" cy="184.2" r="1.85" fill="#22d422"/>
<circle cx="60.1" cy="190.3" r="1.85" fill="#22d422"/>
<circle cx="60.1" cy="192.5" r="1.85" fill="#22d422"/>
<circle cx="60.1" cy="198.5" r="1.85" fill="#22d422"/>
<circle cx="60.1" cy="200.47" r="1.85" fill="#22d422"/>
<circle cx="60.1" cy="202.43" r="1.85" fill="#22d422"/>
<circle cx="60.1" cy="204.4" r="1.85" fill="#22d422"/>
<circle cx="60.1" cy="209.5" r="1.85" fill="#22d422"/>
<circle cx="60.1" cy="209.5" r="1.85" fill="#22d422"/>
<circle cx="69.5" cy="184" r="1.85" fill="#22d422"/>
<circle cx="69.5" cy="186.1" r="1.85" fill="#22d422"/>
<circle cx="69.5" cy="188.2" r="1.85" fill="#22d422"/>
<circle cx="69.5" cy="190.3" r="1.85" fill="#22d422"/>
<circle cx="69.5" cy="192.4" r="1.85" fill="#22d422"/>
<rect x="67.95" y="194.05" width="3.1" height="3.1" fill="#2f5ee6"/>
<rect x="67.95" y="196.2" width="3.1" height="3.1" fill="#2f5ee6"/>
<rect x="67.95" y="198.35" width="3.1" height="3.1" fill="#2f5ee6"/>
<circle cx="69.5" cy="202.3" r="1.85" fill="#22d422"/>
<circle cx="69.5" cy="204.65" r="1.85" fill="#22d422"/>
<circle cx="69.5" cy="207" r="1.85" fill="#22d422"/>
<rect x="67.95" y="212.65" width="3.1" height="3.1" fill="#2f5ee6"/>
<rect x="67.95" y="214.61" width="3.1" height="3.1" fill="#2f5ee6"/>
<rect x="67.95" y="216.56" width="3.1" height="3.1" fill="#2f5ee6"/>
<rect x="67.95" y="218.52" width="3.1" height="3.1" fill="#2f5ee6"/>
<rect x="67.95" y="220.48" width="3.1" height="3.1" fill="#2f5ee6"/>
<rect x="67.95" y="222.44" width="3.1" height="3.1" fill="#2f5ee6"/>
<rect x="67.95" y="224.39" width="3.1" height="3.1" fill="#2f5ee6"/>
<rect x="67.95" y="226.35" width="3.1" height="3.1" fill="#2f5ee6"/>
<circle cx="77.3" cy="177" r="1.85" fill="#22d422"/>
<circle cx="77.3" cy="177" r="1.85" fill="#22d422"/>
<circle cx="77.3" cy="182.1" r="1.85" fill="#22d422"/>
<circle cx="77.3" cy="182.1" r="1.85" fill="#22d422"/>
<circle cx="77.3" cy="191" r="1.85" fill="#22d422"/>
<circle cx="77.3" cy="191" r="1.85" fill="#22d422"/>
<rect x="75.75" y="195.65" width="3.1" height="3.1" fill="#2f5ee6"/>
<rect x="75.75" y="197.45" width="3.1" height="3.1" fill="#2f5ee6"/>
<rect x="75.75" y="199.25" width="3.1" height="3.1" fill="#2f5ee6"/>
<rect x="75.75" y="201.05" width="3.1" height="3.1" fill="#2f5ee6"/>
<rect x="75.75" y="202.85" width="3.1" height="3.1" fill="#2f5ee6"/>
<circle cx="77.3" cy="195.5" r="1.85" fill="#22d422"/>
<circle cx="77.3" cy="195.5" r="1.85" fill="#22d422"/>
<circle cx="77.3" cy="200.8" r="1.85" fill="#22d422"/>
<circle cx="77.3" cy="200.8" r="1.85" fill="#22d422"/>
<rect x="75.75" y="207.65" width="3.1" height="3.1" fill="#2f5ee6"/>
<rect x="75.75" y="209.62" width="3.1" height="3.1" fill="#2f5ee6"/>
<rect x="75.75" y="211.6" width="3.1" height="3.1" fill="#2f5ee6"/>
<rect x="75.75" y="213.57" width="3.1" height="3.1" fill="#2f5ee6"/>
<rect x="75.75" y="215.55" width="3.1" height="3.1" fill="#2f5ee6"/>
<rect x="75.75" y="218.75" width="3.1" height="3.1" fill="#2f5ee6"/>
<rect x="75.75" y="218.75" width="3.1" height="3.1" fill="#2f5ee6"/>
<rect x="75.75" y="224.45" width="3.1" height="3.1" fill="#2f5ee6"/>
<rect x="75.75" y="224.45" width="3.1" height="3.1" fill="#2f5ee6"/>
<circle cx="86.4" cy="184.9" r="1.85" fill="#22d422"/>
<circle cx="86.4" cy="186.3" r="1.85" fill="#22d422"/>
<circle cx="86.4" cy="192.9" r="1.85" fill="#22d422"/>
<circle cx="86.4" cy="192.9" r="1.85" fill="#22d422"/>
<circle cx="86.4" cy="197.9" r="1.85" fill="#22d422"/>
<circle cx="86.4" cy="198.7" r="1.85" fill="#22d422"/>
<rect x="84.85" y="210.15" width="3.1" height="3.1" fill="#2f5ee6"/>
<rect x="84.85" y="211.9" width="3.1" height="3.1" fill="#2f5ee6"/>
<rect x="84.85" y="213.65" width="3.1" height="3.1" fill="#2f5ee6"/>
<rect x="84.85" y="218.75" width="3.1" height="3.1" fill="#2f5ee6"/>
<rect x="84.85" y="218.75" width="3.1" height="3.1" fill="#2f5ee6"/>
<rect x="84.85" y="225.05" width="3.1" height="3.1" fill="#2f5ee6"/>
<rect x="84.85" y="225.05" width="3.1" height="3.1" fill="#2f5ee6"/>
<circle cx="103.4" cy="182.8" r="1.85" fill="#22d422"/>
<circle cx="103.4" cy="184.6" r="1.85" fill="#22d422"/>
<rect x="101.85" y="189.25" width="3.1" height="3.1" fill="#2f5ee6"/>
<rect x="101.85" y="189.25" width="3.1" height="3.1" fill="#2f5ee6"/>
<rect x="101.85" y="201.15" width="3.1" height="3.1" fill="#2f5ee6"/>
<rect x="101.85" y="201.15" width="3.1" height="3.1" fill="#2f5ee6"/>
<rect x="101.85" y="205.75" width="3.1" height="3.1" fill="#2f5ee6"/>
<rect x="101.85" y="205.75" width="3.1" height="3.1" fill="#2f5ee6"/>
<circle cx="154.5" cy="154.1" r="1.85" fill="#22d422"/>
<circle cx="154.5" cy="154.1" r="1.85" fill="#22d422"/>
<rect x="152.95" y="155.05" width="3.1" height="3.1" fill="#2f5ee6"/>
<rect x="152.95" y="155.05" width="3.1" height="3.1" fill="#2f5ee6"/>
<line x1="39.7" y1="205.5" x2="154.4" y2="153.7" stroke="#4a4a4a" stroke-width="0.75" stroke-dasharray="2.2 0.6"/>
<line x1="39.7" y1="231.4" x2="154.4" y2="155.8" stroke="#4a4a4a" stroke-width="0.75" stroke-dasharray="2.2 0.6"/>
<text x="14.8" y="158.6" font-size="6.3" text-anchor="end" font-weight="bold" font-family="'Liberation Serif', serif" fill="#111" >0.8</text>
<text x="14.8" y="172.6" font-size="6.3" text-anchor="end" font-weight="bold" font-family="'Liberation Serif', serif" fill="#111" >0.6</text>
<text x="14.8" y="186.6" font-size="6.3" text-anchor="end" font-weight="bold" font-family="'Liberation Serif', serif" fill="#111" >0.4</text>
<text x="14.8" y="200.6" font-size="6.3" text-anchor="end" font-weight="bold" font-family="'Liberation Serif', serif" fill="#111" >0.2</text>
<text x="14.8" y="214.6" font-size="6.3" text-anchor="end" font-weight="bold" font-family="'Liberation Serif', serif" fill="#111" >0</text>
<text x="14.8" y="228.6" font-size="6.3" text-anchor="end" font-weight="bold" font-family="'Liberation Serif', serif" fill="#111" >-0.2</text>
<text x="14.8" y="242.6" font-size="6.3" text-anchor="end" font-weight="bold" font-family="'Liberation Serif', serif" fill="#111" >-0.4</text>
<text x="16.8" y="248.3" font-size="6.3" text-anchor="middle" font-weight="bold" font-family="'Liberation Serif', serif" fill="#111" >-0.2</text>
<text x="39.7" y="248.3" font-size="6.3" text-anchor="middle" font-weight="bold" font-family="'Liberation Serif', serif" fill="#111" >0</text>
<text x="62.6" y="248.3" font-size="6.3" text-anchor="middle" font-weight="bold" font-family="'Liberation Serif', serif" fill="#111" >0.2</text>
<text x="85.5" y="248.3" font-size="6.3" text-anchor="middle" font-weight="bold" font-family="'Liberation Serif', serif" fill="#111" >0.4</text>
<text x="108.4" y="248.3" font-size="6.3" text-anchor="middle" font-weight="bold" font-family="'Liberation Serif', serif" fill="#111" >0.6</text>
<text x="131.3" y="248.3" font-size="6.3" text-anchor="middle" font-weight="bold" font-family="'Liberation Serif', serif" fill="#111" >0.8</text>
<text x="154.2" y="248.3" font-size="6.3" text-anchor="middle" font-weight="bold" font-family="'Liberation Serif', serif" fill="#111" >1</text>
<polygon points="178,240.4 174,238.6 174,242.2" fill="#b0b0b0"/>
<circle cx="183.1" cy="143.8" r="1.9" fill="#22d422"/>
<rect x="181.6" y="148.4" width="3.0" height="3.0" fill="#2f5ee6"/>
<text x="185.6" y="145.7" font-size="5.0" text-anchor="start" font-weight="bold" font-family="'Liberation Serif', serif" fill="#111" >R2</text>
<text x="185.6" y="151.8" font-size="5.0" text-anchor="start" font-weight="bold" font-family="'Liberation Serif', serif" fill="#111" >Q2</text>
<text x="205.3" y="136.8" font-size="13.5" text-anchor="start" font-weight="bold" font-family="'Liberation Serif', serif" fill="#000" >E</text>
<line x1="210.6" y1="145.4" x2="210.6" y2="239.6" stroke="#d2d2d2" stroke-width="0.9" />
<line x1="210.6" y1="239.6" x2="365.7" y2="239.6" stroke="#d2d2d2" stroke-width="0.9" />
<line x1="365.7" y1="145.4" x2="365.7" y2="239.6" stroke="#d2d2d2" stroke-width="0.9" />
<line x1="210.6" y1="145.8" x2="365.7" y2="145.8" stroke="#d2d2d2" stroke-width="0.9" />
<line x1="211.9" y1="239.6" x2="211.9" y2="240.9" stroke="#bbb" stroke-width="0.5" />
<line x1="219.46" y1="239.6" x2="219.46" y2="240.9" stroke="#bbb" stroke-width="0.5" />
<line x1="227.01" y1="239.6" x2="227.01" y2="240.9" stroke="#bbb" stroke-width="0.5" />
<line x1="234.56" y1="239.6" x2="234.56" y2="240.9" stroke="#bbb" stroke-width="0.5" />
<line x1="242.12" y1="239.6" x2="242.12" y2="240.9" stroke="#bbb" stroke-width="0.5" />
<line x1="249.68" y1="239.6" x2="249.68" y2="240.9" stroke="#bbb" stroke-width="0.5" />
<line x1="257.23" y1="239.6" x2="257.23" y2="240.9" stroke="#bbb" stroke-width="0.5" />
<line x1="264.79" y1="239.6" x2="264.79" y2="240.9" stroke="#bbb" stroke-width="0.5" />
<line x1="272.34" y1="239.6" x2="272.34" y2="240.9" stroke="#bbb" stroke-width="0.5" />
<line x1="279.89" y1="239.6" x2="279.89" y2="240.9" stroke="#bbb" stroke-width="0.5" />
<line x1="287.45" y1="239.6" x2="287.45" y2="240.9" stroke="#bbb" stroke-width="0.5" />
<line x1="295" y1="239.6" x2="295" y2="240.9" stroke="#bbb" stroke-width="0.5" />
<line x1="302.56" y1="239.6" x2="302.56" y2="240.9" stroke="#bbb" stroke-width="0.5" />
<line x1="310.12" y1="239.6" x2="310.12" y2="240.9" stroke="#bbb" stroke-width="0.5" />
<line x1="317.67" y1="239.6" x2="317.67" y2="240.9" stroke="#bbb" stroke-width="0.5" />
<line x1="325.23" y1="239.6" x2="325.23" y2="240.9" stroke="#bbb" stroke-width="0.5" />
<line x1="332.78" y1="239.6" x2="332.78" y2="240.9" stroke="#bbb" stroke-width="0.5" />
<line x1="340.34" y1="239.6" x2="340.34" y2="240.9" stroke="#bbb" stroke-width="0.5" />
<line x1="347.89" y1="239.6" x2="347.89" y2="240.9" stroke="#bbb" stroke-width="0.5" />
<line x1="355.45" y1="239.6" x2="355.45" y2="240.9" stroke="#bbb" stroke-width="0.5" />
<line x1="363" y1="239.6" x2="363" y2="240.9" stroke="#bbb" stroke-width="0.5" />
<line x1="209.3" y1="239.3" x2="210.6" y2="239.3" stroke="#bbb" stroke-width="0.5" />
<line x1="209.3" y1="229.95" x2="210.6" y2="229.95" stroke="#bbb" stroke-width="0.5" />
<line x1="209.3" y1="220.6" x2="210.6" y2="220.6" stroke="#bbb" stroke-width="0.5" />
<line x1="209.3" y1="211.25" x2="210.6" y2="211.25" stroke="#bbb" stroke-width="0.5" />
<line x1="209.3" y1="201.9" x2="210.6" y2="201.9" stroke="#bbb" stroke-width="0.5" />
<line x1="209.3" y1="192.55" x2="210.6" y2="192.55" stroke="#bbb" stroke-width="0.5" />
<line x1="209.3" y1="183.2" x2="210.6" y2="183.2" stroke="#bbb" stroke-width="0.5" />
<line x1="209.3" y1="173.85" x2="210.6" y2="173.85" stroke="#bbb" stroke-width="0.5" />
<line x1="209.3" y1="164.5" x2="210.6" y2="164.5" stroke="#bbb" stroke-width="0.5" />
<line x1="209.3" y1="155.15" x2="210.6" y2="155.15" stroke="#bbb" stroke-width="0.5" />
<line x1="209.3" y1="145.8" x2="210.6" y2="145.8" stroke="#bbb" stroke-width="0.5" />
<polygon points="366.2,239.6 361.7,238 361.7,241.2" fill="#aaa"/>
<line x1="211.9" y1="239.3" x2="363" y2="145.8" stroke="#a2a2a2" stroke-width="0.95" stroke-dasharray="2.2 1"/>
<polyline points="211.9,239.3 211.9,164.5 249.68,164.5 249.68,158.89 253,158.89 253,155.15 257.23,155.15 257.23,145.8 363,145.8" fill="none" stroke="#a80000" stroke-width="2.6" stroke-dasharray="7.3 2.6 2.2 2.6"/>
<polyline points="211.9,239.3 211.9,220.6 227.01,220.6 227.01,154.68 235.02,154.68 235.02,145.8" fill="none" stroke="#3ee03e" stroke-width="1.0" />
<polyline points="211.9,239.3 211.9,145.8 363,145.8" fill="none" stroke="#3246ff" stroke-width="1.25" />
<text x="209.2" y="150.2" font-size="5.8" text-anchor="end" font-weight="bold" font-family="'Liberation Serif', serif" fill="#111" >1</text>
<text x="209.2" y="166.5" font-size="5.8" text-anchor="end" font-weight="bold" font-family="'Liberation Serif', serif" fill="#111" >0.8</text>
<text x="209.2" y="185.2" font-size="5.8" text-anchor="end" font-weight="bold" font-family="'Liberation Serif', serif" fill="#111" >0.6</text>
<text x="209.2" y="203.9" font-size="5.8" text-anchor="end" font-weight="bold" font-family="'Liberation Serif', serif" fill="#111" >0.4</text>
<text x="209.2" y="222.6" font-size="5.8" text-anchor="end" font-weight="bold" font-family="'Liberation Serif', serif" fill="#111" >0.2</text>
<text x="209.2" y="241.3" font-size="5.8" text-anchor="end" font-weight="bold" font-family="'Liberation Serif', serif" fill="#111" >0</text>
<text x="211.9" y="248" font-size="5.8" text-anchor="middle" font-weight="bold" font-family="'Liberation Serif', serif" fill="#111" >0</text>
<text x="227.01" y="248" font-size="5.8" text-anchor="middle" font-weight="bold" font-family="'Liberation Serif', serif" fill="#111" >0.1</text>
<text x="242.12" y="248" font-size="5.8" text-anchor="middle" font-weight="bold" font-family="'Liberation Serif', serif" fill="#111" >0.2</text>
<text x="257.23" y="248" font-size="5.8" text-anchor="middle" font-weight="bold" font-family="'Liberation Serif', serif" fill="#111" >0.3</text>
<text x="272.34" y="248" font-size="5.8" text-anchor="middle" font-weight="bold" font-family="'Liberation Serif', serif" fill="#111" >0.4</text>
<text x="287.45" y="248" font-size="5.8" text-anchor="middle" font-weight="bold" font-family="'Liberation Serif', serif" fill="#111" >0.5</text>
<text x="302.56" y="248" font-size="5.8" text-anchor="middle" font-weight="bold" font-family="'Liberation Serif', serif" fill="#111" >0.6</text>
<text x="317.67" y="248" font-size="5.8" text-anchor="middle" font-weight="bold" font-family="'Liberation Serif', serif" fill="#111" >0.7</text>
<text x="332.78" y="248" font-size="5.8" text-anchor="middle" font-weight="bold" font-family="'Liberation Serif', serif" fill="#111" >0.8</text>
<text x="347.89" y="248" font-size="5.8" text-anchor="middle" font-weight="bold" font-family="'Liberation Serif', serif" fill="#111" >0.9</text>
<text x="287.4" y="254.4" font-size="6" text-anchor="middle" font-weight="bold" font-family="'Liberation Serif', serif" fill="#111" >FPR</text>
<text x="196.8" y="193.05" font-size="6" text-anchor="middle" font-weight="bold" font-family="'Liberation Serif', serif" fill="#111" transform="rotate(-90 196.8 193.05)" >TPR</text>
<text x="296.2" y="141.9" font-size="5.75" text-anchor="middle" font-weight="bold" font-family="'Liberation Serif', serif" fill="#111" >ROC curve (PLS-DA)</text>
<line x1="315.2" y1="215" x2="321" y2="215" stroke="#3ee03e" stroke-width="1.2" />
<line x1="316.7" y1="221.3" x2="320.8" y2="221.3" stroke="#a30000" stroke-width="2.0" />
<line x1="315.2" y1="228" x2="321" y2="228" stroke="#3a4cff" stroke-width="1.2" />
<text x="322.8" y="216.8" font-size="4.9" text-anchor="start" font-weight="normal" font-family="'Liberation Serif', serif" fill="#111" >CON AUC=0.915</text>
<text x="322.8" y="223" font-size="4.9" text-anchor="start" font-weight="normal" font-family="'Liberation Serif', serif" fill="#111" >DIO AUC=0.945</text>
<text x="322.8" y="229.8" font-size="4.9" text-anchor="start" font-weight="normal" font-family="'Liberation Serif', serif" fill="#111" >DIO+MR AUC=1</text>
<text x="385.8" y="137.7" font-size="13.5" text-anchor="start" font-weight="bold" font-family="'Liberation Serif', serif" fill="#000" >F</text>
<line x1="390.2" y1="145.3" x2="390.2" y2="239.7" stroke="#d2d2d2" stroke-width="0.9" />
<line x1="390.2" y1="239.7" x2="543.7" y2="239.7" stroke="#d2d2d2" stroke-width="0.9" />
<line x1="543.7" y1="145.3" x2="543.7" y2="239.7" stroke="#d2d2d2" stroke-width="0.9" />
<line x1="390.2" y1="145.7" x2="543.7" y2="145.7" stroke="#d2d2d2" stroke-width="0.9" />
<line x1="391.6" y1="239.7" x2="391.6" y2="241" stroke="#bbb" stroke-width="0.5" />
<line x1="399.13" y1="239.7" x2="399.13" y2="241" stroke="#bbb" stroke-width="0.5" />
<line x1="406.66" y1="239.7" x2="406.66" y2="241" stroke="#bbb" stroke-width="0.5" />
<line x1="414.19" y1="239.7" x2="414.19" y2="241" stroke="#bbb" stroke-width="0.5" />
<line x1="421.72" y1="239.7" x2="421.72" y2="241" stroke="#bbb" stroke-width="0.5" />
<line x1="429.25" y1="239.7" x2="429.25" y2="241" stroke="#bbb" stroke-width="0.5" />
<line x1="436.78" y1="239.7" x2="436.78" y2="241" stroke="#bbb" stroke-width="0.5" />
<line x1="444.31" y1="239.7" x2="444.31" y2="241" stroke="#bbb" stroke-width="0.5" />
<line x1="451.84" y1="239.7" x2="451.84" y2="241" stroke="#bbb" stroke-width="0.5" />
<line x1="459.37" y1="239.7" x2="459.37" y2="241" stroke="#bbb" stroke-width="0.5" />
<line x1="466.9" y1="239.7" x2="466.9" y2="241" stroke="#bbb" stroke-width="0.5" />
<line x1="474.43" y1="239.7" x2="474.43" y2="241" stroke="#bbb" stroke-width="0.5" />
<line x1="481.96" y1="239.7" x2="481.96" y2="241" stroke="#bbb" stroke-width="0.5" />
<line x1="489.49" y1="239.7" x2="489.49" y2="241" stroke="#bbb" stroke-width="0.5" />
<line x1="497.02" y1="239.7" x2="497.02" y2="241" stroke="#bbb" stroke-width="0.5" />
<line x1="504.55" y1="239.7" x2="504.55" y2="241" stroke="#bbb" stroke-width="0.5" />
<line x1="512.08" y1="239.7" x2="512.08" y2="241" stroke="#bbb" stroke-width="0.5" />
<line x1="519.61" y1="239.7" x2="519.61" y2="241" stroke="#bbb" stroke-width="0.5" />
<line x1="527.14" y1="239.7" x2="527.14" y2="241" stroke="#bbb" stroke-width="0.5" />
<line x1="534.67" y1="239.7" x2="534.67" y2="241" stroke="#bbb" stroke-width="0.5" />
<line x1="542.2" y1="239.7" x2="542.2" y2="241" stroke="#bbb" stroke-width="0.5" />
<line x1="388.9" y1="238.9" x2="390.2" y2="238.9" stroke="#bbb" stroke-width="0.5" />
<line x1="388.9" y1="229.58" x2="390.2" y2="229.58" stroke="#bbb" stroke-width="0.5" />
<line x1="388.9" y1="220.26" x2="390.2" y2="220.26" stroke="#bbb" stroke-width="0.5" />
<line x1="388.9" y1="210.94" x2="390.2" y2="210.94" stroke="#bbb" stroke-width="0.5" />
<line x1="388.9" y1="201.62" x2="390.2" y2="201.62" stroke="#bbb" stroke-width="0.5" />
<line x1="388.9" y1="192.3" x2="390.2" y2="192.3" stroke="#bbb" stroke-width="0.5" />
<line x1="388.9" y1="182.98" x2="390.2" y2="182.98" stroke="#bbb" stroke-width="0.5" />
<line x1="388.9" y1="173.66" x2="390.2" y2="173.66" stroke="#bbb" stroke-width="0.5" />
<line x1="388.9" y1="164.34" x2="390.2" y2="164.34" stroke="#bbb" stroke-width="0.5" />
<line x1="388.9" y1="155.02" x2="390.2" y2="155.02" stroke="#bbb" stroke-width="0.5" />
<line x1="388.9" y1="145.7" x2="390.2" y2="145.7" stroke="#bbb" stroke-width="0.5" />
<polygon points="544.2,239.7 539.7,238.1 539.7,241.3" fill="#aaa"/>
<line x1="391.6" y1="238.9" x2="542.2" y2="145.7" stroke="#a2a2a2" stroke-width="0.95" stroke-dasharray="2.2 1"/>
<polyline points="391.6,238.9 391.6,145.7 542.2,145.7" fill="none" stroke="#a80000" stroke-width="2.6" stroke-dasharray="7.3 2.6 2.2 2.6"/>
<polyline points="391.6,238.9 391.6,154.55 398.83,154.55 398.83,145.7" fill="none" stroke="#3ee03e" stroke-width="1.0" />
<polyline points="391.6,238.9 391.6,145.7 542.2,145.7" fill="none" stroke="#3246ff" stroke-width="1.25" />
<text x="388.8" y="150.1" font-size="5.8" text-anchor="end" font-weight="bold" font-family="'Liberation Serif', serif" fill="#111" >1</text>
<text x="388.8" y="166.34" font-size="5.8" text-anchor="end" font-weight="bold" font-family="'Liberation Serif', serif" fill="#111" >0.8</text>
<text x="388.8" y="184.98" font-size="5.8" text-anchor="end" font-weight="bold" font-family="'Liberation Serif', serif" fill="#111" >0.6</text>
<text x="388.8" y="203.62" font-size="5.8" text-anchor="end" font-weight="bold" font-family="'Liberation Serif', serif" fill="#111" >0.4</text>
<text x="388.8" y="222.26" font-size="5.8" text-anchor="end" font-weight="bold" font-family="'Liberation Serif', serif" fill="#111" >0.2</text>
<text x="388.8" y="240.9" font-size="5.8" text-anchor="end" font-weight="bold" font-family="'Liberation Serif', serif" fill="#111" >0</text>
<text x="391.6" y="248.1" font-size="5.8" text-anchor="middle" font-weight="bold" font-family="'Liberation Serif', serif" fill="#111" >0</text>
<text x="406.66" y="248.1" font-size="5.8" text-anchor="middle" font-weight="bold" font-family="'Liberation Serif', serif" fill="#111" >0.1</text>
<text x="421.72" y="248.1" font-size="5.8" text-anchor="middle" font-weight="bold" font-family="'Liberation Serif', serif" fill="#111" >0.2</text>
<text x="436.78" y="248.1" font-size="5.8" text-anchor="middle" font-weight="bold" font-family="'Liberation Serif', serif" fill="#111" >0.3</text>
<text x="451.84" y="248.1" font-size="5.8" text-anchor="middle" font-weight="bold" font-family="'Liberation Serif', serif" fill="#111" >0.4</text>
<text x="466.9" y="248.1" font-size="5.8" text-anchor="middle" font-weight="bold" font-family="'Liberation Serif', serif" fill="#111" >0.5</text>
<text x="481.96" y="248.1" font-size="5.8" text-anchor="middle" font-weight="bold" font-family="'Liberation Serif', serif" fill="#111" >0.6</text>
<text x="497.02" y="248.1" font-size="5.8" text-anchor="middle" font-weight="bold" font-family="'Liberation Serif', serif" fill="#111" >0.7</text>
<text x="512.08" y="248.1" font-size="5.8" text-anchor="middle" font-weight="bold" font-family="'Liberation Serif', serif" fill="#111" >0.8</text>
<text x="527.14" y="248.1" font-size="5.8" text-anchor="middle" font-weight="bold" font-family="'Liberation Serif', serif" fill="#111" >0.9</text>
<text x="466.2" y="254.5" font-size="6" text-anchor="middle" font-weight="bold" font-family="'Liberation Serif', serif" fill="#111" >FPR</text>
<text x="376.3" y="192.8" font-size="6" text-anchor="middle" font-weight="bold" font-family="'Liberation Serif', serif" fill="#111" transform="rotate(-90 376.3 192.8)" >TPR</text>
<text x="474.5" y="141.9" font-size="5.75" text-anchor="middle" font-weight="bold" font-family="'Liberation Serif', serif" fill="#111" >ROC curve (OPLS-DA)</text>
<line x1="492.1" y1="215" x2="497.9" y2="215" stroke="#3ee03e" stroke-width="1.2" />
<line x1="493.6" y1="221.3" x2="497.7" y2="221.3" stroke="#a30000" stroke-width="2.0" />
<line x1="492.1" y1="228" x2="497.9" y2="228" stroke="#3a4cff" stroke-width="1.2" />
<text x="499.7" y="216.8" font-size="4.9" text-anchor="start" font-weight="normal" font-family="'Liberation Serif', serif" fill="#111" >CON AUC=1</text>
<text x="499.7" y="223" font-size="4.9" text-anchor="start" font-weight="normal" font-family="'Liberation Serif', serif" fill="#111" >DIO AUC=1</text>
<text x="499.7" y="229.8" font-size="4.9" text-anchor="start" font-weight="normal" font-family="'Liberation Serif', serif" fill="#111" >DIO+MR AUC=1</text>
<text x="2.4" y="271.3" font-size="13.5" text-anchor="start" font-weight="bold" font-family="'Liberation Serif', serif" fill="#000" >G</text>
<line x1="20.7" y1="275.3" x2="181.4" y2="275.3" stroke="#d2d2d2" stroke-width="0.9" />
<line x1="20.7" y1="275.3" x2="20.7" y2="366.3" stroke="#d2d2d2" stroke-width="0.9" />
<line x1="20.7" y1="366.3" x2="181.4" y2="366.3" stroke="#d2d2d2" stroke-width="0.9" />
<line x1="181.4" y1="275.3" x2="181.4" y2="366.3" stroke="#d2d2d2" stroke-width="0.9" />
<line x1="20.3" y1="366.3" x2="20.3" y2="367.9" stroke="#bdbdbd" stroke-width="0.6" />
<line x1="30.38" y1="366.3" x2="30.38" y2="367.9" stroke="#bdbdbd" stroke-width="0.6" />
<line x1="40.45" y1="366.3" x2="40.45" y2="367.9" stroke="#bdbdbd" stroke-width="0.6" />
<line x1="50.53" y1="366.3" x2="50.53" y2="367.9" stroke="#bdbdbd" stroke-width="0.6" />
<line x1="60.6" y1="366.3" x2="60.6" y2="367.9" stroke="#bdbdbd" stroke-width="0.6" />
<line x1="70.68" y1="366.3" x2="70.68" y2="367.9" stroke="#bdbdbd" stroke-width="0.6" />
<line x1="80.75" y1="366.3" x2="80.75" y2="367.9" stroke="#bdbdbd" stroke-width="0.6" />
<line x1="90.83" y1="366.3" x2="90.83" y2="367.9" stroke="#bdbdbd" stroke-width="0.6" />
<line x1="100.9" y1="366.3" x2="100.9" y2="367.9" stroke="#bdbdbd" stroke-width="0.6" />
<line x1="110.98" y1="366.3" x2="110.98" y2="367.9" stroke="#bdbdbd" stroke-width="0.6" />
<line x1="121.05" y1="366.3" x2="121.05" y2="367.9" stroke="#bdbdbd" stroke-width="0.6" />
<line x1="131.12" y1="366.3" x2="131.12" y2="367.9" stroke="#bdbdbd" stroke-width="0.6" />
<line x1="141.2" y1="366.3" x2="141.2" y2="367.9" stroke="#bdbdbd" stroke-width="0.6" />
<line x1="151.28" y1="366.3" x2="151.28" y2="367.9" stroke="#bdbdbd" stroke-width="0.6" />
<line x1="161.35" y1="366.3" x2="161.35" y2="367.9" stroke="#bdbdbd" stroke-width="0.6" />
<line x1="171.43" y1="366.3" x2="171.43" y2="367.9" stroke="#bdbdbd" stroke-width="0.6" />
<line x1="19.1" y1="366.3" x2="20.7" y2="366.3" stroke="#bdbdbd" stroke-width="0.6" />
<line x1="19.1" y1="360.6" x2="20.7" y2="360.6" stroke="#bdbdbd" stroke-width="0.6" />
<line x1="19.1" y1="354.9" x2="20.7" y2="354.9" stroke="#bdbdbd" stroke-width="0.6" />
<line x1="19.1" y1="349.2" x2="20.7" y2="349.2" stroke="#bdbdbd" stroke-width="0.6" />
<line x1="19.1" y1="343.5" x2="20.7" y2="343.5" stroke="#bdbdbd" stroke-width="0.6" />
<line x1="19.1" y1="337.8" x2="20.7" y2="337.8" stroke="#bdbdbd" stroke-width="0.6" />
<line x1="19.1" y1="332.1" x2="20.7" y2="332.1" stroke="#bdbdbd" stroke-width="0.6" />
<line x1="19.1" y1="326.4" x2="20.7" y2="326.4" stroke="#bdbdbd" stroke-width="0.6" />
<line x1="19.1" y1="320.7" x2="20.7" y2="320.7" stroke="#bdbdbd" stroke-width="0.6" />
<line x1="19.1" y1="315" x2="20.7" y2="315" stroke="#bdbdbd" stroke-width="0.6" />
<line x1="19.1" y1="309.3" x2="20.7" y2="309.3" stroke="#bdbdbd" stroke-width="0.6" />
<line x1="19.1" y1="303.6" x2="20.7" y2="303.6" stroke="#bdbdbd" stroke-width="0.6" />
<line x1="19.1" y1="297.9" x2="20.7" y2="297.9" stroke="#bdbdbd" stroke-width="0.6" />
<line x1="19.1" y1="292.2" x2="20.7" y2="292.2" stroke="#bdbdbd" stroke-width="0.6" />
<line x1="19.1" y1="286.5" x2="20.7" y2="286.5" stroke="#bdbdbd" stroke-width="0.6" />
<line x1="19.1" y1="280.8" x2="20.7" y2="280.8" stroke="#bdbdbd" stroke-width="0.6" />
<ellipse cx="101" cy="320.5" rx="76.3" ry="34.2" transform="rotate(0 101 320.5)" fill="none" stroke="#c8c8c8" stroke-width="0.8" />
<line x1="20.7" y1="320.7" x2="181.4" y2="320.7" stroke="#bababa" stroke-width="0.9" />
<line x1="100.9" y1="275.3" x2="100.9" y2="366.3" stroke="#bababa" stroke-width="0.9" />
<ellipse cx="72.65" cy="317.05" rx="27.75" ry="12.35" transform="rotate(-89.2 72.65 317.05)" fill="#8c8c8c" stroke="none" stroke-width="0" fill-opacity="0.72" />
<ellipse cx="126.55" cy="324.7" rx="20.48" ry="10.95" transform="rotate(36.91 126.55 324.7)" fill="#8c8c8c" stroke="none" stroke-width="0" fill-opacity="0.72" />
<circle cx="69.9" cy="293.5" r="2.1" fill="#b80000"/>
<circle cx="75.8" cy="305.1" r="2.1" fill="#b80000"/>
<circle cx="82.7" cy="312.5" r="2.1" fill="#b80000"/>
<circle cx="63.7" cy="316.6" r="2.1" fill="#b80000"/>
<circle cx="70.2" cy="316.6" r="2.1" fill="#b80000"/>
<circle cx="76.5" cy="321.9" r="2.1" fill="#b80000"/>
<circle cx="67.4" cy="324.9" r="2.1" fill="#b80000"/>
<circle cx="66.7" cy="332.6" r="2.1" fill="#b80000"/>
<circle cx="66.5" cy="336.3" r="2.1" fill="#b80000"/>
<circle cx="68.5" cy="340" r="2.1" fill="#b80000"/>
<circle cx="111.5" cy="316.9" r="2.1" fill="#00a800"/>
<circle cx="115.1" cy="314.5" r="2.1" fill="#00a800"/>
<circle cx="120.2" cy="315.1" r="2.1" fill="#00a800"/>
<circle cx="122.6" cy="318.3" r="2.1" fill="#00a800"/>
<circle cx="128.9" cy="316.9" r="2.1" fill="#00a800"/>
<circle cx="128.9" cy="319.1" r="2.1" fill="#00a800"/>
<circle cx="120.7" cy="321.8" r="2.1" fill="#00a800"/>
<circle cx="122.6" cy="324" r="2.1" fill="#00a800"/>
<circle cx="124" cy="330" r="2.1" fill="#00a800"/>
<circle cx="137.6" cy="337.3" r="2.1" fill="#00a800"/>
<text x="19.4" y="288.9" font-size="7.3" text-anchor="end" font-weight="bold" font-family="'Liberation Serif', serif" fill="#111" >30</text>
<text x="19.4" y="300.3" font-size="7.3" text-anchor="end" font-weight="bold" font-family="'Liberation Serif', serif" fill="#111" >20</text>
<text x="19.4" y="311.7" font-size="7.3" text-anchor="end" font-weight="bold" font-family="'Liberation Serif', serif" fill="#111" >10</text>
<text x="19.4" y="323.1" font-size="7.3" text-anchor="end" font-weight="bold" font-family="'Liberation Serif', serif" fill="#111" >0</text>
<text x="19.4" y="334.5" font-size="7.3" text-anchor="end" font-weight="bold" font-family="'Liberation Serif', serif" fill="#111" >-10</text>
<text x="19.4" y="345.9" font-size="7.3" text-anchor="end" font-weight="bold" font-family="'Liberation Serif', serif" fill="#111" >-20</text>
<text x="19.4" y="357.3" font-size="7.3" text-anchor="end" font-weight="bold" font-family="'Liberation Serif', serif" fill="#111" >-30</text>
<text x="19.4" y="368.7" font-size="7.3" text-anchor="end" font-weight="bold" font-family="'Liberation Serif', serif" fill="#111" >-40</text>
<text x="20.3" y="374.4" font-size="7.3" text-anchor="middle" font-weight="bold" font-family="'Liberation Serif', serif" fill="#111" >-40</text>
<text x="40.45" y="374.4" font-size="7.3" text-anchor="middle" font-weight="bold" font-family="'Liberation Serif', serif" fill="#111" >-30</text>
<text x="60.6" y="374.4" font-size="7.3" text-anchor="middle" font-weight="bold" font-family="'Liberation Serif', serif" fill="#111" >-20</text>
<text x="80.75" y="374.4" font-size="7.3" text-anchor="middle" font-weight="bold" font-family="'Liberation Serif', serif" fill="#111" >-10</text>
<text x="100.9" y="374.4" font-size="7.3" text-anchor="middle" font-weight="bold" font-family="'Liberation Serif', serif" fill="#111" >0</text>
<text x="121.05" y="374.4" font-size="7.3" text-anchor="middle" font-weight="bold" font-family="'Liberation Serif', serif" fill="#111" >10</text>
<text x="141.2" y="374.4" font-size="7.3" text-anchor="middle" font-weight="bold" font-family="'Liberation Serif', serif" fill="#111" >20</text>
<text x="161.35" y="374.4" font-size="7.3" text-anchor="middle" font-weight="bold" font-family="'Liberation Serif', serif" fill="#111" >30</text>
<text x="100.9" y="382.3" font-size="6.8" text-anchor="middle" font-weight="bold" font-family="'Liberation Serif', serif" fill="#111" >1.00366 * t[1]</text>
<text x="7.8" y="320.6" font-size="6.8" text-anchor="middle" font-weight="bold" font-family="'Liberation Serif', serif" fill="#111" transform="rotate(-90 7.8 320.6)" >1.25297 * to[1]</text>
<circle cx="158" cy="277.8" r="2.0" fill="#1edc1e"/>
<circle cx="158" cy="285" r="2.0" fill="#ec1010"/>
<text x="160.6" y="279.7" font-size="5.2" text-anchor="start" font-weight="normal" font-family="'Liberation Serif', serif" fill="#111" >CON</text>
<text x="160.6" y="286.9" font-size="5.2" text-anchor="start" font-weight="normal" font-family="'Liberation Serif', serif" fill="#111" >DIO</text>
<text x="196" y="269.6" font-size="13.5" text-anchor="start" font-weight="bold" font-family="'Liberation Serif', serif" fill="#000" >H</text>
<line x1="209.7" y1="273.2" x2="365.8" y2="273.2" stroke="#d2d2d2" stroke-width="0.9" />
<line x1="209.7" y1="273.2" x2="209.7" y2="366.3" stroke="#d2d2d2" stroke-width="0.9" />
<line x1="209.7" y1="366.3" x2="365.8" y2="366.3" stroke="#d2d2d2" stroke-width="0.9" />
<line x1="365.8" y1="273.2" x2="365.8" y2="366.3" stroke="#d2d2d2" stroke-width="0.9" />
<line x1="209.7" y1="366.3" x2="209.7" y2="367.9" stroke="#bdbdbd" stroke-width="0.6" />
<line x1="220.85" y1="366.3" x2="220.85" y2="367.9" stroke="#bdbdbd" stroke-width="0.6" />
<line x1="232" y1="366.3" x2="232" y2="367.9" stroke="#bdbdbd" stroke-width="0.6" />
<line x1="243.15" y1="366.3" x2="243.15" y2="367.9" stroke="#bdbdbd" stroke-width="0.6" />
<line x1="254.3" y1="366.3" x2="254.3" y2="367.9" stroke="#bdbdbd" stroke-width="0.6" />
<line x1="265.45" y1="366.3" x2="265.45" y2="367.9" stroke="#bdbdbd" stroke-width="0.6" />
<line x1="276.6" y1="366.3" x2="276.6" y2="367.9" stroke="#bdbdbd" stroke-width="0.6" />
<line x1="287.75" y1="366.3" x2="287.75" y2="367.9" stroke="#bdbdbd" stroke-width="0.6" />
<line x1="298.9" y1="366.3" x2="298.9" y2="367.9" stroke="#bdbdbd" stroke-width="0.6" />
<line x1="310.05" y1="366.3" x2="310.05" y2="367.9" stroke="#bdbdbd" stroke-width="0.6" />
<line x1="321.2" y1="366.3" x2="321.2" y2="367.9" stroke="#bdbdbd" stroke-width="0.6" />
<line x1="332.35" y1="366.3" x2="332.35" y2="367.9" stroke="#bdbdbd" stroke-width="0.6" />
<line x1="343.5" y1="366.3" x2="343.5" y2="367.9" stroke="#bdbdbd" stroke-width="0.6" />
<line x1="354.65" y1="366.3" x2="354.65" y2="367.9" stroke="#bdbdbd" stroke-width="0.6" />
<line x1="365.8" y1="366.3" x2="365.8" y2="367.9" stroke="#bdbdbd" stroke-width="0.6" />
<line x1="208.1" y1="366.3" x2="209.7" y2="366.3" stroke="#bdbdbd" stroke-width="0.6" />
<line x1="208.1" y1="359.7" x2="209.7" y2="359.7" stroke="#bdbdbd" stroke-width="0.6" />
<line x1="208.1" y1="353.1" x2="209.7" y2="353.1" stroke="#bdbdbd" stroke-width="0.6" />
<line x1="208.1" y1="346.5" x2="209.7" y2="346.5" stroke="#bdbdbd" stroke-width="0.6" />
<line x1="208.1" y1="339.9" x2="209.7" y2="339.9" stroke="#bdbdbd" stroke-width="0.6" />
<line x1="208.1" y1="333.3" x2="209.7" y2="333.3" stroke="#bdbdbd" stroke-width="0.6" />
<line x1="208.1" y1="326.7" x2="209.7" y2="326.7" stroke="#bdbdbd" stroke-width="0.6" />
<line x1="208.1" y1="320.1" x2="209.7" y2="320.1" stroke="#bdbdbd" stroke-width="0.6" />
<line x1="208.1" y1="313.5" x2="209.7" y2="313.5" stroke="#bdbdbd" stroke-width="0.6" />
<line x1="208.1" y1="306.9" x2="209.7" y2="306.9" stroke="#bdbdbd" stroke-width="0.6" />
<line x1="208.1" y1="300.3" x2="209.7" y2="300.3" stroke="#bdbdbd" stroke-width="0.6" />
<line x1="208.1" y1="293.7" x2="209.7" y2="293.7" stroke="#bdbdbd" stroke-width="0.6" />
<line x1="208.1" y1="287.1" x2="209.7" y2="287.1" stroke="#bdbdbd" stroke-width="0.6" />
<line x1="208.1" y1="280.5" x2="209.7" y2="280.5" stroke="#bdbdbd" stroke-width="0.6" />
<line x1="209.7" y1="339.9" x2="365.8" y2="339.9" stroke="#cacaca" stroke-width="0.9" />
<line x1="232" y1="273.2" x2="232" y2="366.3" stroke="#cacaca" stroke-width="0.9" />
<circle cx="244" cy="299.2" r="1.9" fill="#22b34a"/>
<circle cx="244" cy="299.2" r="1.9" fill="#22b34a"/>
<circle cx="244" cy="307.1" r="1.9" fill="#22b34a"/>
<circle cx="244" cy="308.96" r="1.9" fill="#22b34a"/>
<circle cx="244" cy="310.81" r="1.9" fill="#22b34a"/>
<circle cx="244" cy="312.67" r="1.9" fill="#22b34a"/>
<circle cx="244" cy="314.52" r="1.9" fill="#22b34a"/>
<circle cx="244" cy="316.38" r="1.9" fill="#22b34a"/>
<circle cx="244" cy="318.23" r="1.9" fill="#22b34a"/>
<circle cx="244" cy="320.09" r="1.9" fill="#22b34a"/>
<circle cx="244" cy="321.94" r="1.9" fill="#22b34a"/>
<circle cx="244" cy="323.8" r="1.9" fill="#22b34a"/>
<circle cx="244" cy="325.66" r="1.9" fill="#22b34a"/>
<circle cx="244" cy="327.51" r="1.9" fill="#22b34a"/>
<circle cx="244" cy="329.37" r="1.9" fill="#22b34a"/>
<circle cx="244" cy="331.22" r="1.9" fill="#22b34a"/>
<circle cx="244" cy="333.08" r="1.9" fill="#22b34a"/>
<circle cx="244" cy="334.93" r="1.9" fill="#22b34a"/>
<circle cx="244" cy="336.79" r="1.9" fill="#22b34a"/>
<circle cx="244" cy="338.64" r="1.9" fill="#22b34a"/>
<circle cx="244" cy="340.5" r="1.9" fill="#22b34a"/>
<rect x="242.85" y="339.35" width="2.3" height="2.3" fill="#2a38a0"/>
<rect x="242.85" y="341.34" width="2.3" height="2.3" fill="#2a38a0"/>
<rect x="242.85" y="343.32" width="2.3" height="2.3" fill="#2a38a0"/>
<rect x="242.85" y="345.31" width="2.3" height="2.3" fill="#2a38a0"/>
<rect x="242.85" y="347.29" width="2.3" height="2.3" fill="#2a38a0"/>
<rect x="242.85" y="349.28" width="2.3" height="2.3" fill="#2a38a0"/>
<rect x="242.85" y="351.26" width="2.3" height="2.3" fill="#2a38a0"/>
<rect x="242.85" y="353.25" width="2.3" height="2.3" fill="#2a38a0"/>
<rect x="242.85" y="312.85" width="2.3" height="2.3" fill="#2a38a0"/>
<rect x="242.85" y="312.85" width="2.3" height="2.3" fill="#2a38a0"/>
<rect x="242.85" y="320.85" width="2.3" height="2.3" fill="#2a38a0"/>
<rect x="242.85" y="320.85" width="2.3" height="2.3" fill="#2a38a0"/>
<rect x="242.85" y="329.85" width="2.3" height="2.3" fill="#2a38a0"/>
<rect x="242.85" y="329.85" width="2.3" height="2.3" fill="#2a38a0"/>
<rect x="242.85" y="334.85" width="2.3" height="2.3" fill="#2a38a0"/>
<rect x="242.85" y="334.85" width="2.3" height="2.3" fill="#2a38a0"/>
<circle cx="251" cy="303.9" r="1.9" fill="#22b34a"/>
<circle cx="251" cy="305.77" r="1.9" fill="#22b34a"/>
<circle cx="251" cy="307.63" r="1.9" fill="#22b34a"/>
<circle cx="251" cy="309.5" r="1.9" fill="#22b34a"/>
<circle cx="251" cy="311.37" r="1.9" fill="#22b34a"/>
<circle cx="251" cy="313.23" r="1.9" fill="#22b34a"/>
<circle cx="251" cy="315.1" r="1.9" fill="#22b34a"/>
<circle cx="251" cy="316.97" r="1.9" fill="#22b34a"/>
<circle cx="251" cy="318.83" r="1.9" fill="#22b34a"/>
<circle cx="251" cy="320.7" r="1.9" fill="#22b34a"/>
<circle cx="251" cy="322.57" r="1.9" fill="#22b34a"/>
<circle cx="251" cy="324.43" r="1.9" fill="#22b34a"/>
<circle cx="251" cy="326.3" r="1.9" fill="#22b34a"/>
<circle cx="251" cy="328.17" r="1.9" fill="#22b34a"/>
<circle cx="251" cy="330.03" r="1.9" fill="#22b34a"/>
<circle cx="251" cy="331.9" r="1.9" fill="#22b34a"/>
<rect x="249.85" y="330.75" width="2.3" height="2.3" fill="#2a38a0"/>
<rect x="249.85" y="332.62" width="2.3" height="2.3" fill="#2a38a0"/>
<rect x="249.85" y="334.5" width="2.3" height="2.3" fill="#2a38a0"/>
<rect x="249.85" y="336.38" width="2.3" height="2.3" fill="#2a38a0"/>
<rect x="249.85" y="338.25" width="2.3" height="2.3" fill="#2a38a0"/>
<rect x="249.85" y="340.12" width="2.3" height="2.3" fill="#2a38a0"/>
<rect x="249.85" y="342" width="2.3" height="2.3" fill="#2a38a0"/>
<rect x="249.85" y="343.88" width="2.3" height="2.3" fill="#2a38a0"/>
<rect x="249.85" y="345.75" width="2.3" height="2.3" fill="#2a38a0"/>
<rect x="249.85" y="347.62" width="2.3" height="2.3" fill="#2a38a0"/>
<rect x="249.85" y="349.5" width="2.3" height="2.3" fill="#2a38a0"/>
<rect x="249.85" y="351.38" width="2.3" height="2.3" fill="#2a38a0"/>
<rect x="249.85" y="353.25" width="2.3" height="2.3" fill="#2a38a0"/>
<circle cx="275" cy="311.6" r="1.9" fill="#22b34a"/>
<circle cx="275" cy="313.51" r="1.9" fill="#22b34a"/>
<circle cx="275" cy="315.42" r="1.9" fill="#22b34a"/>
<circle cx="275" cy="317.33" r="1.9" fill="#22b34a"/>
<circle cx="275" cy="319.24" r="1.9" fill="#22b34a"/>
<circle cx="275" cy="321.15" r="1.9" fill="#22b34a"/>
<circle cx="275" cy="323.05" r="1.9" fill="#22b34a"/>
<circle cx="275" cy="324.96" r="1.9" fill="#22b34a"/>
<circle cx="275" cy="326.87" r="1.9" fill="#22b34a"/>
<circle cx="275" cy="328.78" r="1.9" fill="#22b34a"/>
<circle cx="275" cy="330.69" r="1.9" fill="#22b34a"/>
<circle cx="275" cy="332.6" r="1.9" fill="#22b34a"/>
<rect x="273.85" y="316.85" width="2.3" height="2.3" fill="#2a38a0"/>
<rect x="273.85" y="316.85" width="2.3" height="2.3" fill="#2a38a0"/>
<rect x="273.85" y="321.85" width="2.3" height="2.3" fill="#2a38a0"/>
<rect x="273.85" y="321.85" width="2.3" height="2.3" fill="#2a38a0"/>
<rect x="273.85" y="326.85" width="2.3" height="2.3" fill="#2a38a0"/>
<rect x="273.85" y="326.85" width="2.3" height="2.3" fill="#2a38a0"/>
<rect x="273.85" y="333.95" width="2.3" height="2.3" fill="#2a38a0"/>
<rect x="273.85" y="335.88" width="2.3" height="2.3" fill="#2a38a0"/>
<rect x="273.85" y="337.81" width="2.3" height="2.3" fill="#2a38a0"/>
<rect x="273.85" y="339.74" width="2.3" height="2.3" fill="#2a38a0"/>
<rect x="273.85" y="341.67" width="2.3" height="2.3" fill="#2a38a0"/>
<rect x="273.85" y="343.6" width="2.3" height="2.3" fill="#2a38a0"/>
<rect x="273.85" y="345.53" width="2.3" height="2.3" fill="#2a38a0"/>
<rect x="273.85" y="347.46" width="2.3" height="2.3" fill="#2a38a0"/>
<rect x="273.85" y="349.39" width="2.3" height="2.3" fill="#2a38a0"/>
<rect x="273.85" y="351.32" width="2.3" height="2.3" fill="#2a38a0"/>
<rect x="273.85" y="353.25" width="2.3" height="2.3" fill="#2a38a0"/>
<circle cx="281.9" cy="302" r="1.9" fill="#22b34a"/>
<circle cx="281.9" cy="304" r="1.9" fill="#22b34a"/>
<circle cx="281.9" cy="306" r="1.9" fill="#22b34a"/>
<circle cx="281.9" cy="308" r="1.9" fill="#22b34a"/>
<circle cx="281.9" cy="310" r="1.9" fill="#22b34a"/>
<circle cx="281.9" cy="312" r="1.9" fill="#22b34a"/>
<circle cx="281.9" cy="314" r="1.9" fill="#22b34a"/>
<circle cx="281.9" cy="316" r="1.9" fill="#22b34a"/>
<rect x="280.75" y="323.75" width="2.3" height="2.3" fill="#2a38a0"/>
<rect x="280.75" y="325.77" width="2.3" height="2.3" fill="#2a38a0"/>
<rect x="280.75" y="327.8" width="2.3" height="2.3" fill="#2a38a0"/>
<rect x="280.75" y="329.83" width="2.3" height="2.3" fill="#2a38a0"/>
<rect x="280.75" y="331.85" width="2.3" height="2.3" fill="#2a38a0"/>
<rect x="280.75" y="334.85" width="2.3" height="2.3" fill="#2a38a0"/>
<rect x="280.75" y="336.85" width="2.3" height="2.3" fill="#2a38a0"/>
<rect x="280.75" y="338.85" width="2.3" height="2.3" fill="#2a38a0"/>
<rect x="280.75" y="340.85" width="2.3" height="2.3" fill="#2a38a0"/>
<rect x="280.75" y="342.85" width="2.3" height="2.3" fill="#2a38a0"/>
<rect x="280.75" y="344.85" width="2.3" height="2.3" fill="#2a38a0"/>
<rect x="280.75" y="346.85" width="2.3" height="2.3" fill="#2a38a0"/>
<rect x="280.75" y="348.98" width="2.3" height="2.3" fill="#2a38a0"/>
<rect x="280.75" y="351.12" width="2.3" height="2.3" fill="#2a38a0"/>
<rect x="280.75" y="353.25" width="2.3" height="2.3" fill="#2a38a0"/>
<circle cx="313.1" cy="291.8" r="1.9" fill="#22b34a"/>
<circle cx="313.1" cy="293.63" r="1.9" fill="#22b34a"/>
<circle cx="313.1" cy="295.47" r="1.9" fill="#22b34a"/>
<circle cx="313.1" cy="297.3" r="1.9" fill="#22b34a"/>
<rect x="311.95" y="302.45" width="2.3" height="2.3" fill="#2a38a0"/>
<rect x="311.95" y="302.45" width="2.3" height="2.3" fill="#2a38a0"/>
<rect x="311.95" y="307.35" width="2.3" height="2.3" fill="#2a38a0"/>
<rect x="311.95" y="307.35" width="2.3" height="2.3" fill="#2a38a0"/>
<rect x="311.95" y="317.95" width="2.3" height="2.3" fill="#2a38a0"/>
<rect x="311.95" y="317.95" width="2.3" height="2.3" fill="#2a38a0"/>
<circle cx="344.2" cy="274.5" r="1.9" fill="#22b34a"/>
<circle cx="344.2" cy="274.5" r="1.9" fill="#22b34a"/>
<rect x="343.05" y="276.15" width="2.3" height="2.3" fill="#2a38a0"/>
<rect x="343.05" y="276.15" width="2.3" height="2.3" fill="#2a38a0"/>
<line x1="232" y1="332.9" x2="344.2" y2="274.5" stroke="#555" stroke-width="0.7" />
<line x1="232" y1="362.8" x2="344.2" y2="277" stroke="#555" stroke-width="0.7" />
<text x="207.9" y="289.2" font-size="6.3" text-anchor="end" font-weight="bold" font-family="'Liberation Serif', serif" fill="#111" >0.8</text>
<text x="207.9" y="302.4" font-size="6.3" text-anchor="end" font-weight="bold" font-family="'Liberation Serif', serif" fill="#111" >0.6</text>
<text x="207.9" y="315.6" font-size="6.3" text-anchor="end" font-weight="bold" font-family="'Liberation Serif', serif" fill="#111" >0.4</text>
<text x="207.9" y="328.8" font-size="6.3" text-anchor="end" font-weight="bold" font-family="'Liberation Serif', serif" fill="#111" >0.2</text>
<text x="207.9" y="342" font-size="6.3" text-anchor="end" font-weight="bold" font-family="'Liberation Serif', serif" fill="#111" >0</text>
<text x="207.9" y="355.2" font-size="6.3" text-anchor="end" font-weight="bold" font-family="'Liberation Serif', serif" fill="#111" >-0.2</text>
<text x="207.9" y="368.4" font-size="6.3" text-anchor="end" font-weight="bold" font-family="'Liberation Serif', serif" fill="#111" >-0.4</text>
<text x="209.7" y="374" font-size="6.3" text-anchor="middle" font-weight="bold" font-family="'Liberation Serif', serif" fill="#111" >-0.2</text>
<text x="232" y="374" font-size="6.3" text-anchor="middle" font-weight="bold" font-family="'Liberation Serif', serif" fill="#111" >0</text>
<text x="254.3" y="374" font-size="6.3" text-anchor="middle" font-weight="bold" font-family="'Liberation Serif', serif" fill="#111" >0.2</text>
<text x="276.6" y="374" font-size="6.3" text-anchor="middle" font-weight="bold" font-family="'Liberation Serif', serif" fill="#111" >0.4</text>
<text x="298.9" y="374" font-size="6.3" text-anchor="middle" font-weight="bold" font-family="'Liberation Serif', serif" fill="#111" >0.6</text>
<text x="321.2" y="374" font-size="6.3" text-anchor="middle" font-weight="bold" font-family="'Liberation Serif', serif" fill="#111" >0.8</text>
<text x="343.5" y="374" font-size="6.3" text-anchor="middle" font-weight="bold" font-family="'Liberation Serif', serif" fill="#111" >1</text>
<polygon points="366.5,366.3 362.5,364.5 362.5,368.1" fill="#b0b0b0"/>
<circle cx="369.3" cy="275.7" r="1.9" fill="#22b34a"/>
<rect x="368.25" y="279.85" width="2.1" height="2.1" fill="#2a38a0"/>
<text x="371.6" y="277.4" font-size="4.6" text-anchor="start" font-weight="bold" font-family="'Liberation Serif', serif" fill="#111" >R2</text>
<text x="371.6" y="282.6" font-size="4.6" text-anchor="start" font-weight="bold" font-family="'Liberation Serif', serif" fill="#111" >Q2</text>
<text x="383.2" y="269.2" font-size="13.5" text-anchor="start" font-weight="bold" font-family="'Liberation Serif', serif" fill="#000" >I</text>
<line x1="411.98" y1="272" x2="411.98" y2="366.2" stroke="#e6e6e6" stroke-width="0.6" />
<line x1="426.76" y1="272" x2="426.76" y2="366.2" stroke="#e6e6e6" stroke-width="0.6" />
<line x1="441.54" y1="272" x2="441.54" y2="366.2" stroke="#e6e6e6" stroke-width="0.6" />
<line x1="456.32" y1="272" x2="456.32" y2="366.2" stroke="#e6e6e6" stroke-width="0.6" />
<line x1="485.88" y1="272" x2="485.88" y2="366.2" stroke="#e6e6e6" stroke-width="0.6" />
<line x1="500.66" y1="272" x2="500.66" y2="366.2" stroke="#e6e6e6" stroke-width="0.6" />
<line x1="515.44" y1="272" x2="515.44" y2="366.2" stroke="#e6e6e6" stroke-width="0.6" />
<line x1="530.22" y1="272" x2="530.22" y2="366.2" stroke="#e6e6e6" stroke-width="0.6" />
<line x1="396.8" y1="356.52" x2="542.5" y2="356.52" stroke="#e6e6e6" stroke-width="0.6" />
<line x1="396.8" y1="347.04" x2="542.5" y2="347.04" stroke="#e6e6e6" stroke-width="0.6" />
<line x1="396.8" y1="337.56" x2="542.5" y2="337.56" stroke="#e6e6e6" stroke-width="0.6" />
<line x1="396.8" y1="328.08" x2="542.5" y2="328.08" stroke="#e6e6e6" stroke-width="0.6" />
<line x1="396.8" y1="309.12" x2="542.5" y2="309.12" stroke="#e6e6e6" stroke-width="0.6" />
<line x1="396.8" y1="299.64" x2="542.5" y2="299.64" stroke="#e6e6e6" stroke-width="0.6" />
<line x1="396.8" y1="290.16" x2="542.5" y2="290.16" stroke="#e6e6e6" stroke-width="0.6" />
<line x1="396.8" y1="280.68" x2="542.5" y2="280.68" stroke="#e6e6e6" stroke-width="0.6" />
<line x1="396.8" y1="272" x2="396.8" y2="366.2" stroke="#d2d2d2" stroke-width="0.9" />
<line x1="396.8" y1="366.2" x2="544.5" y2="366.2" stroke="#d2d2d2" stroke-width="0.9" />
<line x1="397.2" y1="366.2" x2="397.2" y2="367.8" stroke="#bdbdbd" stroke-width="0.6" />
<line x1="404.59" y1="366.2" x2="404.59" y2="367.8" stroke="#bdbdbd" stroke-width="0.6" />
<line x1="411.98" y1="366.2" x2="411.98" y2="367.8" stroke="#bdbdbd" stroke-width="0.6" />
<line x1="419.37" y1="366.2" x2="419.37" y2="367.8" stroke="#bdbdbd" stroke-width="0.6" />
<line x1="426.76" y1="366.2" x2="426.76" y2="367.8" stroke="#bdbdbd" stroke-width="0.6" />
<line x1="434.15" y1="366.2" x2="434.15" y2="367.8" stroke="#bdbdbd" stroke-width="0.6" />
<line x1="441.54" y1="366.2" x2="441.54" y2="367.8" stroke="#bdbdbd" stroke-width="0.6" />
<line x1="448.93" y1="366.2" x2="448.93" y2="367.8" stroke="#bdbdbd" stroke-width="0.6" />
<line x1="456.32" y1="366.2" x2="456.32" y2="367.8" stroke="#bdbdbd" stroke-width="0.6" />
<line x1="463.71" y1="366.2" x2="463.71" y2="367.8" stroke="#bdbdbd" stroke-width="0.6" />
<line x1="471.1" y1="366.2" x2="471.1" y2="367.8" stroke="#bdbdbd" stroke-width="0.6" />
<line x1="478.49" y1="366.2" x2="478.49" y2="367.8" stroke="#bdbdbd" stroke-width="0.6" />
<line x1="485.88" y1="366.2" x2="485.88" y2="367.8" stroke="#bdbdbd" stroke-width="0.6" />
<line x1="493.27" y1="366.2" x2="493.27" y2="367.8" stroke="#bdbdbd" stroke-width="0.6" />
<line x1="500.66" y1="366.2" x2="500.66" y2="367.8" stroke="#bdbdbd" stroke-width="0.6" />
<line x1="508.05" y1="366.2" x2="508.05" y2="367.8" stroke="#bdbdbd" stroke-width="0.6" />
<line x1="515.44" y1="366.2" x2="515.44" y2="367.8" stroke="#bdbdbd" stroke-width="0.6" />
<line x1="522.83" y1="366.2" x2="522.83" y2="367.8" stroke="#bdbdbd" stroke-width="0.6" />
<line x1="530.22" y1="366.2" x2="530.22" y2="367.8" stroke="#bdbdbd" stroke-width="0.6" />
<line x1="537.61" y1="366.2" x2="537.61" y2="367.8" stroke="#bdbdbd" stroke-width="0.6" />
<line x1="395.2" y1="366" x2="396.8" y2="366" stroke="#bdbdbd" stroke-width="0.6" />
<line x1="395.2" y1="361.26" x2="396.8" y2="361.26" stroke="#bdbdbd" stroke-width="0.6" />
<line x1="395.2" y1="356.52" x2="396.8" y2="356.52" stroke="#bdbdbd" stroke-width="0.6" />
<line x1="395.2" y1="351.78" x2="396.8" y2="351.78" stroke="#bdbdbd" stroke-width="0.6" />
<line x1="395.2" y1="347.04" x2="396.8" y2="347.04" stroke="#bdbdbd" stroke-width="0.6" />
<line x1="395.2" y1="342.3" x2="396.8" y2="342.3" stroke="#bdbdbd" stroke-width="0.6" />
<line x1="395.2" y1="337.56" x2="396.8" y2="337.56" stroke="#bdbdbd" stroke-width="0.6" />
<line x1="395.2" y1="332.82" x2="396.8" y2="332.82" stroke="#bdbdbd" stroke-width="0.6" />
<line x1="395.2" y1="328.08" x2="396.8" y2="328.08" stroke="#bdbdbd" stroke-width="0.6" />
<line x1="395.2" y1="323.34" x2="396.8" y2="323.34" stroke="#bdbdbd" stroke-width="0.6" />
<line x1="395.2" y1="318.6" x2="396.8" y2="318.6" stroke="#bdbdbd" stroke-width="0.6" />
<line x1="395.2" y1="313.86" x2="396.8" y2="313.86" stroke="#bdbdbd" stroke-width="0.6" />
<line x1="395.2" y1="309.12" x2="396.8" y2="309.12" stroke="#bdbdbd" stroke-width="0.6" />
<line x1="395.2" y1="304.38" x2="396.8" y2="304.38" stroke="#bdbdbd" stroke-width="0.6" />
<line x1="395.2" y1="299.64" x2="396.8" y2="299.64" stroke="#bdbdbd" stroke-width="0.6" />
<line x1="395.2" y1="294.9" x2="396.8" y2="294.9" stroke="#bdbdbd" stroke-width="0.6" />
<line x1="395.2" y1="290.16" x2="396.8" y2="290.16" stroke="#bdbdbd" stroke-width="0.6" />
<line x1="395.2" y1="285.42" x2="396.8" y2="285.42" stroke="#bdbdbd" stroke-width="0.6" />
<line x1="395.2" y1="280.68" x2="396.8" y2="280.68" stroke="#bdbdbd" stroke-width="0.6" />
<line x1="395.2" y1="275.94" x2="396.8" y2="275.94" stroke="#bdbdbd" stroke-width="0.6" />
<line x1="396.8" y1="318.6" x2="544.5" y2="318.6" stroke="#bababa" stroke-width="0.9" />
<line x1="471.1" y1="272" x2="471.1" y2="366.2" stroke="#bababa" stroke-width="0.9" />
<polygon points="545,366.2 540.5,364.6 540.5,367.8" fill="#aaa"/>
<polygon points="476.5,281.5 473,287.6 471.8,293.5 470.9,300.6 470.6,307.6 470,317.1 468.8,321.8 467.6,325 465,330.1 464.3,333 461.5,335.9 459.8,338.8 457,343.1 455.6,346.7 456.8,350.4 459.6,352.5 462.8,355.4 465.4,358 469,356.2 470.5,350.4 471.2,343.1 471.6,335.9 471.9,330.1 472.4,322 473.5,316 474.5,312 475.3,310 478.2,305.3 481.8,300.6 482.9,293.5 485.9,291.2 485.3,282.9 484.1,281.2 480,280.5" fill="#4db34d" stroke="none"/>
<circle cx="475.32" cy="286.11" r="1.75" fill="#45ae45" stroke="#309030" stroke-width="0.45"/>
<circle cx="471.84" cy="308.84" r="1.75" fill="#45ae45" stroke="#309030" stroke-width="0.45"/>
<circle cx="468.46" cy="344.58" r="1.75" fill="#45ae45" stroke="#309030" stroke-width="0.45"/>
<circle cx="473.09" cy="311.24" r="1.75" fill="#45ae45" stroke="#309030" stroke-width="0.45"/>
<circle cx="464.95" cy="343.75" r="1.75" fill="#45ae45" stroke="#309030" stroke-width="0.45"/>
<circle cx="477.7" cy="302.82" r="1.75" fill="#45ae45" stroke="#309030" stroke-width="0.45"/>
<circle cx="468.27" cy="339.18" r="1.75" fill="#45ae45" stroke="#309030" stroke-width="0.45"/>
<circle cx="469.97" cy="331.97" r="1.75" fill="#45ae45" stroke="#309030" stroke-width="0.45"/>
<circle cx="467.29" cy="332.32" r="1.75" fill="#45ae45" stroke="#309030" stroke-width="0.45"/>
<circle cx="467.45" cy="348.04" r="1.75" fill="#45ae45" stroke="#309030" stroke-width="0.45"/>
<circle cx="466.47" cy="349.02" r="1.75" fill="#45ae45" stroke="#309030" stroke-width="0.45"/>
<circle cx="473.45" cy="300.86" r="1.75" fill="#45ae45" stroke="#309030" stroke-width="0.45"/>
<circle cx="476.09" cy="284.68" r="1.75" fill="#45ae45" stroke="#309030" stroke-width="0.45"/>
<circle cx="474.21" cy="292.01" r="1.75" fill="#45ae45" stroke="#309030" stroke-width="0.45"/>
<circle cx="480.71" cy="293.01" r="1.75" fill="#45ae45" stroke="#309030" stroke-width="0.45"/>
<circle cx="460.66" cy="340.33" r="1.75" fill="#45ae45" stroke="#309030" stroke-width="0.45"/>
<circle cx="461.01" cy="341.66" r="1.75" fill="#45ae45" stroke="#309030" stroke-width="0.45"/>
<circle cx="465.68" cy="342.56" r="1.75" fill="#45ae45" stroke="#309030" stroke-width="0.45"/>
<circle cx="467.76" cy="353.88" r="1.75" fill="#45ae45" stroke="#309030" stroke-width="0.45"/>
<circle cx="477.56" cy="293.68" r="1.75" fill="#45ae45" stroke="#309030" stroke-width="0.45"/>
<circle cx="460.03" cy="344.55" r="1.75" fill="#45ae45" stroke="#309030" stroke-width="0.45"/>
<circle cx="468.74" cy="348.06" r="1.75" fill="#45ae45" stroke="#309030" stroke-width="0.45"/>
<circle cx="480.63" cy="296.86" r="1.75" fill="#45ae45" stroke="#309030" stroke-width="0.45"/>
<circle cx="459.57" cy="351.03" r="1.75" fill="#45ae45" stroke="#309030" stroke-width="0.45"/>
<circle cx="468.35" cy="351.62" r="1.75" fill="#45ae45" stroke="#309030" stroke-width="0.45"/>
<circle cx="470.8" cy="321.72" r="1.75" fill="#45ae45" stroke="#309030" stroke-width="0.45"/>
<circle cx="481.05" cy="291.13" r="1.75" fill="#45ae45" stroke="#309030" stroke-width="0.45"/>
<circle cx="475.61" cy="291.58" r="1.75" fill="#45ae45" stroke="#309030" stroke-width="0.45"/>
<circle cx="472.39" cy="314.64" r="1.75" fill="#45ae45" stroke="#309030" stroke-width="0.45"/>
<circle cx="468.39" cy="351.13" r="1.75" fill="#45ae45" stroke="#309030" stroke-width="0.45"/>
<circle cx="480.42" cy="300.54" r="1.75" fill="#45ae45" stroke="#309030" stroke-width="0.45"/>
<circle cx="458.14" cy="346.86" r="1.75" fill="#45ae45" stroke="#309030" stroke-width="0.45"/>
<circle cx="457.62" cy="347.37" r="1.75" fill="#45ae45" stroke="#309030" stroke-width="0.45"/>
<circle cx="483.92" cy="288.74" r="1.75" fill="#45ae45" stroke="#309030" stroke-width="0.45"/>
<circle cx="465.98" cy="345" r="1.75" fill="#45ae45" stroke="#309030" stroke-width="0.45"/>
<circle cx="458.16" cy="345.7" r="1.75" fill="#45ae45" stroke="#309030" stroke-width="0.45"/>
<circle cx="458.78" cy="345.28" r="1.75" fill="#45ae45" stroke="#309030" stroke-width="0.45"/>
<circle cx="470.84" cy="321.98" r="1.75" fill="#45ae45" stroke="#309030" stroke-width="0.45"/>
<circle cx="475.58" cy="285.62" r="1.75" fill="#45ae45" stroke="#309030" stroke-width="0.45"/>
<circle cx="477.92" cy="300.04" r="1.75" fill="#45ae45" stroke="#309030" stroke-width="0.45"/>
<circle cx="477.7" cy="296.4" r="1.75" fill="#45ae45" stroke="#309030" stroke-width="0.45"/>
<circle cx="470.11" cy="333.49" r="1.75" fill="#45ae45" stroke="#309030" stroke-width="0.45"/>
<circle cx="475.08" cy="286.5" r="1.75" fill="#45ae45" stroke="#309030" stroke-width="0.45"/>
<circle cx="476.07" cy="303.04" r="1.75" fill="#45ae45" stroke="#309030" stroke-width="0.45"/>
<circle cx="471.25" cy="316.51" r="1.75" fill="#45ae45" stroke="#309030" stroke-width="0.45"/>
<circle cx="484.47" cy="290.78" r="1.75" fill="#45ae45" stroke="#309030" stroke-width="0.45"/>
<circle cx="462.61" cy="350.07" r="1.75" fill="#45ae45" stroke="#309030" stroke-width="0.45"/>
<circle cx="465.18" cy="345.62" r="1.75" fill="#45ae45" stroke="#309030" stroke-width="0.45"/>
<circle cx="481.03" cy="289.8" r="1.75" fill="#45ae45" stroke="#309030" stroke-width="0.45"/>
<circle cx="458.68" cy="345.19" r="1.75" fill="#45ae45" stroke="#309030" stroke-width="0.45"/>
<circle cx="464.25" cy="353.01" r="1.75" fill="#45ae45" stroke="#309030" stroke-width="0.45"/>
<circle cx="466.91" cy="354.6" r="1.75" fill="#45ae45" stroke="#309030" stroke-width="0.45"/>
<circle cx="477.4" cy="284.33" r="1.75" fill="#45ae45" stroke="#309030" stroke-width="0.45"/>
<circle cx="483.68" cy="290.37" r="1.75" fill="#45ae45" stroke="#309030" stroke-width="0.45"/>
<circle cx="464.62" cy="337.78" r="1.75" fill="#45ae45" stroke="#309030" stroke-width="0.45"/>
<circle cx="475.48" cy="303.81" r="1.75" fill="#45ae45" stroke="#309030" stroke-width="0.45"/>
<circle cx="472.49" cy="311.06" r="1.75" fill="#45ae45" stroke="#309030" stroke-width="0.45"/>
<circle cx="461.9" cy="350.71" r="1.75" fill="#45ae45" stroke="#309030" stroke-width="0.45"/>
<circle cx="482.05" cy="282.19" r="1.75" fill="#45ae45" stroke="#309030" stroke-width="0.45"/>
<circle cx="467.46" cy="352.33" r="1.75" fill="#45ae45" stroke="#309030" stroke-width="0.45"/>
<circle cx="469.46" cy="323.24" r="1.75" fill="#45ae45" stroke="#309030" stroke-width="0.45"/>
<circle cx="462.65" cy="351.79" r="1.75" fill="#45ae45" stroke="#309030" stroke-width="0.45"/>
<circle cx="475.16" cy="304.04" r="1.75" fill="#45ae45" stroke="#309030" stroke-width="0.45"/>
<circle cx="476.28" cy="295.85" r="1.75" fill="#45ae45" stroke="#309030" stroke-width="0.45"/>
<circle cx="480.45" cy="298.39" r="1.75" fill="#45ae45" stroke="#309030" stroke-width="0.45"/>
<circle cx="462.31" cy="339.44" r="1.75" fill="#45ae45" stroke="#309030" stroke-width="0.45"/>
<circle cx="464.54" cy="354.27" r="1.75" fill="#45ae45" stroke="#309030" stroke-width="0.45"/>
<circle cx="478.21" cy="282.97" r="1.75" fill="#45ae45" stroke="#309030" stroke-width="0.45"/>
<circle cx="484.55" cy="290.09" r="1.75" fill="#45ae45" stroke="#309030" stroke-width="0.45"/>
<circle cx="466.41" cy="344.17" r="1.75" fill="#45ae45" stroke="#309030" stroke-width="0.45"/>
<circle cx="466.89" cy="351.76" r="1.75" fill="#45ae45" stroke="#309030" stroke-width="0.45"/>
<circle cx="482.78" cy="282.85" r="1.75" fill="#45ae45" stroke="#309030" stroke-width="0.45"/>
<circle cx="468.05" cy="343.42" r="1.75" fill="#45ae45" stroke="#309030" stroke-width="0.45"/>
<circle cx="478.83" cy="283.65" r="1.75" fill="#45ae45" stroke="#309030" stroke-width="0.45"/>
<circle cx="463.54" cy="336.04" r="1.75" fill="#45ae45" stroke="#309030" stroke-width="0.45"/>
<circle cx="474" cy="305.9" r="1.75" fill="#45ae45" stroke="#309030" stroke-width="0.45"/>
<circle cx="479.3" cy="286.62" r="1.75" fill="#45ae45" stroke="#309030" stroke-width="0.45"/>
<circle cx="461.58" cy="338.85" r="1.75" fill="#45ae45" stroke="#309030" stroke-width="0.45"/>
<circle cx="465.47" cy="356.47" r="1.75" fill="#45ae45" stroke="#309030" stroke-width="0.45"/>
<circle cx="475.73" cy="289.89" r="1.75" fill="#45ae45" stroke="#309030" stroke-width="0.45"/>
<circle cx="472.78" cy="309.41" r="1.75" fill="#45ae45" stroke="#309030" stroke-width="0.45"/>
<circle cx="477.96" cy="295.94" r="1.75" fill="#45ae45" stroke="#309030" stroke-width="0.45"/>
<circle cx="460.25" cy="349.02" r="1.75" fill="#45ae45" stroke="#309030" stroke-width="0.45"/>
<circle cx="473.12" cy="305.79" r="1.75" fill="#45ae45" stroke="#309030" stroke-width="0.45"/>
<circle cx="469.99" cy="343.98" r="1.75" fill="#45ae45" stroke="#309030" stroke-width="0.45"/>
<circle cx="463.48" cy="340.78" r="1.75" fill="#45ae45" stroke="#309030" stroke-width="0.45"/>
<circle cx="484.25" cy="288.7" r="1.75" fill="#45ae45" stroke="#309030" stroke-width="0.45"/>
<circle cx="475.34" cy="296.27" r="1.75" fill="#45ae45" stroke="#309030" stroke-width="0.45"/>
<circle cx="476.15" cy="294.85" r="1.75" fill="#45ae45" stroke="#309030" stroke-width="0.45"/>
<circle cx="474.97" cy="287.56" r="1.75" fill="#45ae45" stroke="#309030" stroke-width="0.45"/>
<circle cx="464.92" cy="354.37" r="1.75" fill="#45ae45" stroke="#309030" stroke-width="0.45"/>
<circle cx="477.66" cy="296.28" r="1.75" fill="#45ae45" stroke="#309030" stroke-width="0.45"/>
<circle cx="468.44" cy="344.08" r="1.75" fill="#45ae45" stroke="#309030" stroke-width="0.45"/>
<circle cx="467.91" cy="348.92" r="1.75" fill="#45ae45" stroke="#309030" stroke-width="0.45"/>
<circle cx="480.58" cy="292.92" r="1.75" fill="#45ae45" stroke="#309030" stroke-width="0.45"/>
<circle cx="479.41" cy="297.71" r="1.75" fill="#45ae45" stroke="#309030" stroke-width="0.45"/>
<circle cx="467.86" cy="346.09" r="1.75" fill="#45ae45" stroke="#309030" stroke-width="0.45"/>
<circle cx="480.72" cy="294.68" r="1.75" fill="#45ae45" stroke="#309030" stroke-width="0.45"/>
<circle cx="478.55" cy="283.45" r="1.75" fill="#45ae45" stroke="#309030" stroke-width="0.45"/>
<circle cx="481" cy="289.62" r="1.75" fill="#45ae45" stroke="#309030" stroke-width="0.45"/>
<circle cx="474.6" cy="304.23" r="1.75" fill="#45ae45" stroke="#309030" stroke-width="0.45"/>
<circle cx="468.5" cy="331.56" r="1.75" fill="#45ae45" stroke="#309030" stroke-width="0.45"/>
<circle cx="474.88" cy="286.87" r="1.75" fill="#45ae45" stroke="#309030" stroke-width="0.45"/>
<circle cx="478.51" cy="292.8" r="1.75" fill="#45ae45" stroke="#309030" stroke-width="0.45"/>
<circle cx="480.31" cy="291.63" r="1.75" fill="#45ae45" stroke="#309030" stroke-width="0.45"/>
<circle cx="460.71" cy="341.33" r="1.75" fill="#45ae45" stroke="#309030" stroke-width="0.45"/>
<circle cx="474.88" cy="308.38" r="1.75" fill="#45ae45" stroke="#309030" stroke-width="0.45"/>
<circle cx="479.77" cy="301.02" r="1.75" fill="#45ae45" stroke="#309030" stroke-width="0.45"/>
<circle cx="466.52" cy="339.76" r="1.75" fill="#45ae45" stroke="#309030" stroke-width="0.45"/>
<circle cx="478.13" cy="284.24" r="1.75" fill="#45ae45" stroke="#309030" stroke-width="0.45"/>
<circle cx="524.6" cy="276" r="1.75" fill="#45ae45" stroke="#309030" stroke-width="0.45"/>
<circle cx="529.8" cy="275.5" r="1.75" fill="#45ae45" stroke="#309030" stroke-width="0.45"/>
<circle cx="487.8" cy="276.9" r="1.75" fill="#45ae45" stroke="#309030" stroke-width="0.45"/>
<circle cx="490.4" cy="277.3" r="1.75" fill="#45ae45" stroke="#309030" stroke-width="0.45"/>
<circle cx="480.9" cy="279" r="1.75" fill="#45ae45" stroke="#309030" stroke-width="0.45"/>
<circle cx="507.2" cy="278.3" r="1.75" fill="#45ae45" stroke="#309030" stroke-width="0.45"/>
<circle cx="498.5" cy="280.4" r="1.75" fill="#45ae45" stroke="#309030" stroke-width="0.45"/>
<circle cx="490.4" cy="284.2" r="1.75" fill="#45ae45" stroke="#309030" stroke-width="0.45"/>
<circle cx="495.6" cy="286.4" r="1.75" fill="#45ae45" stroke="#309030" stroke-width="0.45"/>
<circle cx="503.4" cy="284.7" r="1.75" fill="#45ae45" stroke="#309030" stroke-width="0.45"/>
<circle cx="506.8" cy="283.5" r="1.75" fill="#45ae45" stroke="#309030" stroke-width="0.45"/>
<circle cx="489.2" cy="288.7" r="1.75" fill="#45ae45" stroke="#309030" stroke-width="0.45"/>
<circle cx="484" cy="295" r="1.75" fill="#45ae45" stroke="#309030" stroke-width="0.45"/>
<circle cx="481.8" cy="300.2" r="1.75" fill="#45ae45" stroke="#309030" stroke-width="0.45"/>
<circle cx="478.3" cy="305.4" r="1.75" fill="#45ae45" stroke="#309030" stroke-width="0.45"/>
<circle cx="488.2" cy="276.8" r="1.75" fill="#45ae45" stroke="#309030" stroke-width="0.45"/>
<circle cx="498.2" cy="280.4" r="1.75" fill="#45ae45" stroke="#309030" stroke-width="0.45"/>
<circle cx="490" cy="284.4" r="1.75" fill="#45ae45" stroke="#309030" stroke-width="0.45"/>
<circle cx="495.3" cy="286.5" r="1.75" fill="#45ae45" stroke="#309030" stroke-width="0.45"/>
<circle cx="489.4" cy="288.6" r="1.75" fill="#45ae45" stroke="#309030" stroke-width="0.45"/>
<circle cx="484.1" cy="294.9" r="1.75" fill="#45ae45" stroke="#309030" stroke-width="0.45"/>
<circle cx="454.9" cy="338.8" r="1.75" fill="#45ae45" stroke="#309030" stroke-width="0.45"/>
<circle cx="447.3" cy="344.4" r="1.75" fill="#45ae45" stroke="#309030" stroke-width="0.45"/>
<circle cx="455.2" cy="343.5" r="1.75" fill="#45ae45" stroke="#309030" stroke-width="0.45"/>
<circle cx="454.3" cy="347.5" r="1.75" fill="#45ae45" stroke="#309030" stroke-width="0.45"/>
<circle cx="455.5" cy="351" r="1.75" fill="#45ae45" stroke="#309030" stroke-width="0.45"/>
<circle cx="457.5" cy="345.5" r="1.75" fill="#45ae45" stroke="#309030" stroke-width="0.45"/>
<circle cx="450.3" cy="349.5" r="1.75" fill="#45ae45" stroke="#309030" stroke-width="0.45"/>
<circle cx="428.3" cy="350.6" r="1.75" fill="#45ae45" stroke="#309030" stroke-width="0.45"/>
<circle cx="437.7" cy="351.2" r="1.75" fill="#45ae45" stroke="#309030" stroke-width="0.45"/>
<circle cx="442.1" cy="351.2" r="1.75" fill="#45ae45" stroke="#309030" stroke-width="0.45"/>
<circle cx="430.2" cy="353.5" r="1.75" fill="#45ae45" stroke="#309030" stroke-width="0.45"/>
<circle cx="425.8" cy="355.3" r="1.75" fill="#45ae45" stroke="#309030" stroke-width="0.45"/>
<circle cx="439.6" cy="355.7" r="1.75" fill="#45ae45" stroke="#309030" stroke-width="0.45"/>
<circle cx="442.5" cy="356.4" r="1.75" fill="#45ae45" stroke="#309030" stroke-width="0.45"/>
<circle cx="447.9" cy="352.1" r="1.75" fill="#45ae45" stroke="#309030" stroke-width="0.45"/>
<circle cx="452" cy="353.5" r="1.75" fill="#45ae45" stroke="#309030" stroke-width="0.45"/>
<circle cx="427" cy="357.9" r="1.75" fill="#45ae45" stroke="#309030" stroke-width="0.45"/>
<circle cx="431.3" cy="357.5" r="1.75" fill="#45ae45" stroke="#309030" stroke-width="0.45"/>
<circle cx="438.9" cy="357.9" r="1.75" fill="#45ae45" stroke="#309030" stroke-width="0.45"/>
<circle cx="441.1" cy="359.6" r="1.75" fill="#45ae45" stroke="#309030" stroke-width="0.45"/>
<circle cx="446.9" cy="358.2" r="1.75" fill="#45ae45" stroke="#309030" stroke-width="0.45"/>
<circle cx="451.3" cy="359.6" r="1.75" fill="#45ae45" stroke="#309030" stroke-width="0.45"/>
<circle cx="455.6" cy="358.2" r="1.75" fill="#45ae45" stroke="#309030" stroke-width="0.45"/>
<circle cx="458.5" cy="356" r="1.75" fill="#45ae45" stroke="#309030" stroke-width="0.45"/>
<circle cx="434.1" cy="361.8" r="1.75" fill="#45ae45" stroke="#309030" stroke-width="0.45"/>
<circle cx="445.5" cy="363.6" r="1.75" fill="#45ae45" stroke="#309030" stroke-width="0.45"/>
<circle cx="457.5" cy="362.3" r="1.75" fill="#45ae45" stroke="#309030" stroke-width="0.45"/>
<circle cx="462.5" cy="361.1" r="1.75" fill="#45ae45" stroke="#309030" stroke-width="0.45"/>
<circle cx="420.7" cy="359.3" r="1.75" fill="#45ae45" stroke="#309030" stroke-width="0.45"/>
<circle cx="411.3" cy="352.8" r="1.75" fill="#45ae45" stroke="#309030" stroke-width="0.45"/>
<circle cx="416.8" cy="353.2" r="1.75" fill="#45ae45" stroke="#309030" stroke-width="0.45"/>
<circle cx="410.3" cy="361.8" r="1.75" fill="#45ae45" stroke="#309030" stroke-width="0.45"/>
<circle cx="417.7" cy="361.1" r="1.75" fill="#45ae45" stroke="#309030" stroke-width="0.45"/>
<circle cx="418.9" cy="359.4" r="1.75" fill="#45ae45" stroke="#309030" stroke-width="0.45"/>
<circle cx="428" cy="350.7" r="1.75" fill="#45ae45" stroke="#309030" stroke-width="0.45"/>
<circle cx="425.8" cy="355.4" r="1.75" fill="#45ae45" stroke="#309030" stroke-width="0.45"/>
<circle cx="427.5" cy="357.1" r="1.75" fill="#45ae45" stroke="#309030" stroke-width="0.45"/>
<circle cx="430.3" cy="353.7" r="1.75" fill="#45ae45" stroke="#309030" stroke-width="0.45"/>
<circle cx="431.5" cy="357.1" r="1.75" fill="#45ae45" stroke="#309030" stroke-width="0.45"/>
<circle cx="434.1" cy="361.5" r="1.75" fill="#45ae45" stroke="#309030" stroke-width="0.45"/>
<text x="395.2" y="282.78" font-size="6.2" text-anchor="end" font-weight="bold" font-family="'Liberation Serif', serif" fill="#111" >0.8</text>
<text x="395.2" y="292.26" font-size="6.2" text-anchor="end" font-weight="bold" font-family="'Liberation Serif', serif" fill="#111" >0.6</text>
<text x="395.2" y="301.74" font-size="6.2" text-anchor="end" font-weight="bold" font-family="'Liberation Serif', serif" fill="#111" >0.4</text>
<text x="395.2" y="311.22" font-size="6.2" text-anchor="end" font-weight="bold" font-family="'Liberation Serif', serif" fill="#111" >0.2</text>
<text x="395.2" y="320.7" font-size="6.2" text-anchor="end" font-weight="bold" font-family="'Liberation Serif', serif" fill="#111" >0</text>
<text x="395.2" y="330.18" font-size="6.2" text-anchor="end" font-weight="bold" font-family="'Liberation Serif', serif" fill="#111" >-0.2</text>
<text x="395.2" y="339.66" font-size="6.2" text-anchor="end" font-weight="bold" font-family="'Liberation Serif', serif" fill="#111" >-0.4</text>
<text x="395.2" y="349.14" font-size="6.2" text-anchor="end" font-weight="bold" font-family="'Liberation Serif', serif" fill="#111" >-0.6</text>
<text x="395.2" y="358.62" font-size="6.2" text-anchor="end" font-weight="bold" font-family="'Liberation Serif', serif" fill="#111" >-0.8</text>
<text x="395.2" y="368.1" font-size="6.2" text-anchor="end" font-weight="bold" font-family="'Liberation Serif', serif" fill="#111" >-1</text>
<text x="397.2" y="374.2" font-size="6.2" text-anchor="middle" font-weight="bold" font-family="'Liberation Serif', serif" fill="#111" >-0.5</text>
<text x="411.98" y="374.2" font-size="6.2" text-anchor="middle" font-weight="bold" font-family="'Liberation Serif', serif" fill="#111" >-0.4</text>
<text x="426.76" y="374.2" font-size="6.2" text-anchor="middle" font-weight="bold" font-family="'Liberation Serif', serif" fill="#111" >-0.3</text>
<text x="441.54" y="374.2" font-size="6.2" text-anchor="middle" font-weight="bold" font-family="'Liberation Serif', serif" fill="#111" >-0.2</text>
<text x="456.32" y="374.2" font-size="6.2" text-anchor="middle" font-weight="bold" font-family="'Liberation Serif', serif" fill="#111" >-0.1</text>
<text x="471.1" y="374.2" font-size="6.2" text-anchor="middle" font-weight="bold" font-family="'Liberation Serif', serif" fill="#111" >0</text>
<text x="485.88" y="374.2" font-size="6.2" text-anchor="middle" font-weight="bold" font-family="'Liberation Serif', serif" fill="#111" >0.1</text>
<text x="500.66" y="374.2" font-size="6.2" text-anchor="middle" font-weight="bold" font-family="'Liberation Serif', serif" fill="#111" >0.2</text>
<text x="515.44" y="374.2" font-size="6.2" text-anchor="middle" font-weight="bold" font-family="'Liberation Serif', serif" fill="#111" >0.3</text>
<text x="530.22" y="374.2" font-size="6.2" text-anchor="middle" font-weight="bold" font-family="'Liberation Serif', serif" fill="#111" >0.4</text>
<text x="471.1" y="381.8" font-size="6.2" text-anchor="middle" font-weight="bold" font-family="'Liberation Serif', serif" fill="#111" >p[1]</text>
<text x="382.9" y="318.6" font-size="6.2" text-anchor="middle" font-weight="bold" font-family="'Liberation Serif', serif" fill="#111" transform="rotate(-90 382.9 318.6)" >p(corr)[1]</text>
<text x="3.6" y="395.7" font-size="13.5" text-anchor="start" font-weight="bold" font-family="'Liberation Serif', serif" fill="#000" >J</text>
<line x1="20.9" y1="399.7" x2="181.5" y2="399.7" stroke="#d2d2d2" stroke-width="0.9" />
<line x1="20.9" y1="399.7" x2="20.9" y2="490.2" stroke="#d2d2d2" stroke-width="0.9" />
<line x1="20.9" y1="490.2" x2="181.5" y2="490.2" stroke="#d2d2d2" stroke-width="0.9" />
<line x1="181.5" y1="399.7" x2="181.5" y2="490.2" stroke="#d2d2d2" stroke-width="0.9" />
<line x1="19.9" y1="490.2" x2="19.9" y2="491.8" stroke="#bdbdbd" stroke-width="0.6" />
<line x1="30" y1="490.2" x2="30" y2="491.8" stroke="#bdbdbd" stroke-width="0.6" />
<line x1="40.1" y1="490.2" x2="40.1" y2="491.8" stroke="#bdbdbd" stroke-width="0.6" />
<line x1="50.2" y1="490.2" x2="50.2" y2="491.8" stroke="#bdbdbd" stroke-width="0.6" />
<line x1="60.3" y1="490.2" x2="60.3" y2="491.8" stroke="#bdbdbd" stroke-width="0.6" />
<line x1="70.4" y1="490.2" x2="70.4" y2="491.8" stroke="#bdbdbd" stroke-width="0.6" />
<line x1="80.5" y1="490.2" x2="80.5" y2="491.8" stroke="#bdbdbd" stroke-width="0.6" />
<line x1="90.6" y1="490.2" x2="90.6" y2="491.8" stroke="#bdbdbd" stroke-width="0.6" />
<line x1="100.7" y1="490.2" x2="100.7" y2="491.8" stroke="#bdbdbd" stroke-width="0.6" />
<line x1="110.8" y1="490.2" x2="110.8" y2="491.8" stroke="#bdbdbd" stroke-width="0.6" />
<line x1="120.9" y1="490.2" x2="120.9" y2="491.8" stroke="#bdbdbd" stroke-width="0.6" />
<line x1="131" y1="490.2" x2="131" y2="491.8" stroke="#bdbdbd" stroke-width="0.6" />
<line x1="141.1" y1="490.2" x2="141.1" y2="491.8" stroke="#bdbdbd" stroke-width="0.6" />
<line x1="151.2" y1="490.2" x2="151.2" y2="491.8" stroke="#bdbdbd" stroke-width="0.6" />
<line x1="161.3" y1="490.2" x2="161.3" y2="491.8" stroke="#bdbdbd" stroke-width="0.6" />
<line x1="171.4" y1="490.2" x2="171.4" y2="491.8" stroke="#bdbdbd" stroke-width="0.6" />
<line x1="19.3" y1="490.05" x2="20.9" y2="490.05" stroke="#bdbdbd" stroke-width="0.6" />
<line x1="19.3" y1="482.48" x2="20.9" y2="482.48" stroke="#bdbdbd" stroke-width="0.6" />
<line x1="19.3" y1="474.9" x2="20.9" y2="474.9" stroke="#bdbdbd" stroke-width="0.6" />
<line x1="19.3" y1="467.33" x2="20.9" y2="467.33" stroke="#bdbdbd" stroke-width="0.6" />
<line x1="19.3" y1="459.75" x2="20.9" y2="459.75" stroke="#bdbdbd" stroke-width="0.6" />
<line x1="19.3" y1="452.18" x2="20.9" y2="452.18" stroke="#bdbdbd" stroke-width="0.6" />
<line x1="19.3" y1="444.6" x2="20.9" y2="444.6" stroke="#bdbdbd" stroke-width="0.6" />
<line x1="19.3" y1="437.03" x2="20.9" y2="437.03" stroke="#bdbdbd" stroke-width="0.6" />
<line x1="19.3" y1="429.45" x2="20.9" y2="429.45" stroke="#bdbdbd" stroke-width="0.6" />
<line x1="19.3" y1="421.88" x2="20.9" y2="421.88" stroke="#bdbdbd" stroke-width="0.6" />
<line x1="19.3" y1="414.3" x2="20.9" y2="414.3" stroke="#bdbdbd" stroke-width="0.6" />
<line x1="19.3" y1="406.73" x2="20.9" y2="406.73" stroke="#bdbdbd" stroke-width="0.6" />
<ellipse cx="100.7" cy="444.6" rx="64.4" ry="44.2" transform="rotate(0 100.7 444.6)" fill="none" stroke="#c8c8c8" stroke-width="0.8" />
<line x1="20.9" y1="444.6" x2="181.5" y2="444.6" stroke="#bababa" stroke-width="0.9" />
<line x1="100.7" y1="399.7" x2="100.7" y2="490.2" stroke="#bababa" stroke-width="0.9" />
<ellipse cx="79.1" cy="449" rx="26" ry="12.8" transform="rotate(92.6 79.1 449)" fill="#8c8c8c" stroke="none" stroke-width="0" fill-opacity="0.72" />
<ellipse cx="126.4" cy="450.9" rx="29.1" ry="13.6" transform="rotate(87.4 126.4 450.9)" fill="#8c8c8c" stroke="none" stroke-width="0" fill-opacity="0.72" />
<circle cx="73.8" cy="430.9" r="2.1" fill="#1c3cb8"/>
<circle cx="88.2" cy="438.2" r="2.1" fill="#1c3cb8"/>
<circle cx="79.9" cy="441.5" r="2.1" fill="#1c3cb8"/>
<circle cx="83.1" cy="441.8" r="2.1" fill="#1c3cb8"/>
<circle cx="89.1" cy="442.4" r="2.1" fill="#1c3cb8"/>
<circle cx="84.1" cy="444.6" r="2.1" fill="#1c3cb8"/>
<circle cx="84.4" cy="446.2" r="2.1" fill="#1c3cb8"/>
<circle cx="77.8" cy="448.8" r="2.1" fill="#1c3cb8"/>
<circle cx="83.9" cy="452.8" r="2.1" fill="#1c3cb8"/>
<circle cx="77.1" cy="470.8" r="2.1" fill="#1c3cb8"/>
<circle cx="119.4" cy="428.7" r="2.1" fill="#b80000"/>
<circle cx="125.2" cy="428.7" r="2.1" fill="#b80000"/>
<circle cx="127.6" cy="430.8" r="2.1" fill="#b80000"/>
<circle cx="116.9" cy="439.4" r="2.1" fill="#b80000"/>
<circle cx="127" cy="440" r="2.1" fill="#b80000"/>
<circle cx="133.5" cy="440" r="2.1" fill="#b80000"/>
<circle cx="124.6" cy="453" r="2.1" fill="#b80000"/>
<circle cx="136.8" cy="452.3" r="2.1" fill="#b80000"/>
<circle cx="123.8" cy="462.8" r="2.1" fill="#b80000"/>
<circle cx="126.5" cy="476.3" r="2.1" fill="#b80000"/>
<text x="19.6" y="416.7" font-size="7.3" text-anchor="end" font-weight="bold" font-family="'Liberation Serif', serif" fill="#111" >20</text>
<text x="19.6" y="431.85" font-size="7.3" text-anchor="end" font-weight="bold" font-family="'Liberation Serif', serif" fill="#111" >10</text>
<text x="19.6" y="447" font-size="7.3" text-anchor="end" font-weight="bold" font-family="'Liberation Serif', serif" fill="#111" >0</text>
<text x="19.6" y="462.15" font-size="7.3" text-anchor="end" font-weight="bold" font-family="'Liberation Serif', serif" fill="#111" >-10</text>
<text x="19.6" y="477.3" font-size="7.3" text-anchor="end" font-weight="bold" font-family="'Liberation Serif', serif" fill="#111" >-20</text>
<text x="19.6" y="492.45" font-size="7.3" text-anchor="end" font-weight="bold" font-family="'Liberation Serif', serif" fill="#111" >-30</text>
<text x="19.9" y="498.5" font-size="7.3" text-anchor="middle" font-weight="bold" font-family="'Liberation Serif', serif" fill="#111" >-40</text>
<text x="40.1" y="498.5" font-size="7.3" text-anchor="middle" font-weight="bold" font-family="'Liberation Serif', serif" fill="#111" >-30</text>
<text x="60.3" y="498.5" font-size="7.3" text-anchor="middle" font-weight="bold" font-family="'Liberation Serif', serif" fill="#111" >-20</text>
<text x="80.5" y="498.5" font-size="7.3" text-anchor="middle" font-weight="bold" font-family="'Liberation Serif', serif" fill="#111" >-10</text>
<text x="100.7" y="498.5" font-size="7.3" text-anchor="middle" font-weight="bold" font-family="'Liberation Serif', serif" fill="#111" >0</text>
<text x="120.9" y="498.5" font-size="7.3" text-anchor="middle" font-weight="bold" font-family="'Liberation Serif', serif" fill="#111" >10</text>
<text x="141.1" y="498.5" font-size="7.3" text-anchor="middle" font-weight="bold" font-family="'Liberation Serif', serif" fill="#111" >20</text>
<text x="161.3" y="498.5" font-size="7.3" text-anchor="middle" font-weight="bold" font-family="'Liberation Serif', serif" fill="#111" >30</text>
<text x="100.7" y="506.2" font-size="6.8" text-anchor="middle" font-weight="bold" font-family="'Liberation Serif', serif" fill="#111" >1.0081 * t[1]</text>
<text x="7.6" y="444.6" font-size="6.8" text-anchor="middle" font-weight="bold" font-family="'Liberation Serif', serif" fill="#111" transform="rotate(-90 7.6 444.6)" >1.33562 * to[1]</text>
<circle cx="157.9" cy="402.6" r="2.0" fill="#ec1010"/>
<circle cx="157.9" cy="408.7" r="2.0" fill="#2456ec"/>
<text x="160.5" y="404.5" font-size="5.2" text-anchor="start" font-weight="normal" font-family="'Liberation Serif', serif" fill="#111" >DIO</text>
<text x="160.5" y="410.6" font-size="5.2" text-anchor="start" font-weight="normal" font-family="'Liberation Serif', serif" fill="#111" >DIO+MR</text>
<text x="194.3" y="396.3" font-size="13.5" text-anchor="start" font-weight="bold" font-family="'Liberation Serif', serif" fill="#000" >K</text>
<line x1="209.7" y1="397.3" x2="366.2" y2="397.3" stroke="#d2d2d2" stroke-width="0.9" />
<line x1="209.7" y1="397.3" x2="209.7" y2="490.4" stroke="#d2d2d2" stroke-width="0.9" />
<line x1="209.7" y1="490.4" x2="366.2" y2="490.4" stroke="#d2d2d2" stroke-width="0.9" />
<line x1="366.2" y1="397.3" x2="366.2" y2="490.4" stroke="#d2d2d2" stroke-width="0.9" />
<line x1="209.7" y1="490.4" x2="209.7" y2="492" stroke="#bdbdbd" stroke-width="0.6" />
<line x1="220.85" y1="490.4" x2="220.85" y2="492" stroke="#bdbdbd" stroke-width="0.6" />
<line x1="232" y1="490.4" x2="232" y2="492" stroke="#bdbdbd" stroke-width="0.6" />
<line x1="243.15" y1="490.4" x2="243.15" y2="492" stroke="#bdbdbd" stroke-width="0.6" />
<line x1="254.3" y1="490.4" x2="254.3" y2="492" stroke="#bdbdbd" stroke-width="0.6" />
<line x1="265.45" y1="490.4" x2="265.45" y2="492" stroke="#bdbdbd" stroke-width="0.6" />
<line x1="276.6" y1="490.4" x2="276.6" y2="492" stroke="#bdbdbd" stroke-width="0.6" />
<line x1="287.75" y1="490.4" x2="287.75" y2="492" stroke="#bdbdbd" stroke-width="0.6" />
<line x1="298.9" y1="490.4" x2="298.9" y2="492" stroke="#bdbdbd" stroke-width="0.6" />
<line x1="310.05" y1="490.4" x2="310.05" y2="492" stroke="#bdbdbd" stroke-width="0.6" />
<line x1="321.2" y1="490.4" x2="321.2" y2="492" stroke="#bdbdbd" stroke-width="0.6" />
<line x1="332.35" y1="490.4" x2="332.35" y2="492" stroke="#bdbdbd" stroke-width="0.6" />
<line x1="343.5" y1="490.4" x2="343.5" y2="492" stroke="#bdbdbd" stroke-width="0.6" />
<line x1="354.65" y1="490.4" x2="354.65" y2="492" stroke="#bdbdbd" stroke-width="0.6" />
<line x1="365.8" y1="490.4" x2="365.8" y2="492" stroke="#bdbdbd" stroke-width="0.6" />
<line x1="208.1" y1="490.72" x2="209.7" y2="490.72" stroke="#bdbdbd" stroke-width="0.6" />
<line x1="208.1" y1="484.09" x2="209.7" y2="484.09" stroke="#bdbdbd" stroke-width="0.6" />
<line x1="208.1" y1="477.46" x2="209.7" y2="477.46" stroke="#bdbdbd" stroke-width="0.6" />
<line x1="208.1" y1="470.83" x2="209.7" y2="470.83" stroke="#bdbdbd" stroke-width="0.6" />
<line x1="208.1" y1="464.2" x2="209.7" y2="464.2" stroke="#bdbdbd" stroke-width="0.6" />
<line x1="208.1" y1="457.57" x2="209.7" y2="457.57" stroke="#bdbdbd" stroke-width="0.6" />
<line x1="208.1" y1="450.94" x2="209.7" y2="450.94" stroke="#bdbdbd" stroke-width="0.6" />
<line x1="208.1" y1="444.31" x2="209.7" y2="444.31" stroke="#bdbdbd" stroke-width="0.6" />
<line x1="208.1" y1="437.68" x2="209.7" y2="437.68" stroke="#bdbdbd" stroke-width="0.6" />
<line x1="208.1" y1="431.05" x2="209.7" y2="431.05" stroke="#bdbdbd" stroke-width="0.6" />
<line x1="208.1" y1="424.42" x2="209.7" y2="424.42" stroke="#bdbdbd" stroke-width="0.6" />
<line x1="208.1" y1="417.79" x2="209.7" y2="417.79" stroke="#bdbdbd" stroke-width="0.6" />
<line x1="208.1" y1="411.16" x2="209.7" y2="411.16" stroke="#bdbdbd" stroke-width="0.6" />
<line x1="208.1" y1="404.53" x2="209.7" y2="404.53" stroke="#bdbdbd" stroke-width="0.6" />
<line x1="209.7" y1="464.2" x2="366.2" y2="464.2" stroke="#cacaca" stroke-width="0.9" />
<line x1="232" y1="397.3" x2="232" y2="490.4" stroke="#cacaca" stroke-width="0.9" />
<circle cx="234.9" cy="416.2" r="1.9" fill="#22b34a"/>
<circle cx="234.9" cy="416.2" r="1.9" fill="#22b34a"/>
<circle cx="234.9" cy="420.6" r="1.9" fill="#22b34a"/>
<circle cx="234.9" cy="422.51" r="1.9" fill="#22b34a"/>
<circle cx="234.9" cy="424.43" r="1.9" fill="#22b34a"/>
<circle cx="234.9" cy="426.34" r="1.9" fill="#22b34a"/>
<circle cx="234.9" cy="428.25" r="1.9" fill="#22b34a"/>
<circle cx="234.9" cy="430.16" r="1.9" fill="#22b34a"/>
<circle cx="234.9" cy="432.07" r="1.9" fill="#22b34a"/>
<circle cx="234.9" cy="433.99" r="1.9" fill="#22b34a"/>
<circle cx="234.9" cy="435.9" r="1.9" fill="#22b34a"/>
<circle cx="234.9" cy="437.81" r="1.9" fill="#22b34a"/>
<circle cx="234.9" cy="439.73" r="1.9" fill="#22b34a"/>
<circle cx="234.9" cy="441.64" r="1.9" fill="#22b34a"/>
<circle cx="234.9" cy="443.55" r="1.9" fill="#22b34a"/>
<circle cx="234.9" cy="445.46" r="1.9" fill="#22b34a"/>
<circle cx="234.9" cy="447.38" r="1.9" fill="#22b34a"/>
<circle cx="234.9" cy="449.29" r="1.9" fill="#22b34a"/>
<circle cx="234.9" cy="451.2" r="1.9" fill="#22b34a"/>
<rect x="233.75" y="450.05" width="2.3" height="2.3" fill="#2a38a0"/>
<rect x="233.75" y="451.88" width="2.3" height="2.3" fill="#2a38a0"/>
<rect x="233.75" y="453.7" width="2.3" height="2.3" fill="#2a38a0"/>
<rect x="233.75" y="455.53" width="2.3" height="2.3" fill="#2a38a0"/>
<rect x="233.75" y="457.35" width="2.3" height="2.3" fill="#2a38a0"/>
<circle cx="234.9" cy="462.9" r="1.9" fill="#22b34a"/>
<circle cx="234.9" cy="462.9" r="1.9" fill="#22b34a"/>
<rect x="233.75" y="463.25" width="2.3" height="2.3" fill="#2a38a0"/>
<rect x="233.75" y="465.25" width="2.3" height="2.3" fill="#2a38a0"/>
<rect x="233.75" y="467.25" width="2.3" height="2.3" fill="#2a38a0"/>
<rect x="233.75" y="469.25" width="2.3" height="2.3" fill="#2a38a0"/>
<rect x="233.75" y="471.25" width="2.3" height="2.3" fill="#2a38a0"/>
<rect x="233.75" y="473.25" width="2.3" height="2.3" fill="#2a38a0"/>
<rect x="233.75" y="475.25" width="2.3" height="2.3" fill="#2a38a0"/>
<rect x="233.75" y="477.25" width="2.3" height="2.3" fill="#2a38a0"/>
<circle cx="265.7" cy="415.9" r="1.9" fill="#22b34a"/>
<circle cx="265.7" cy="417.96" r="1.9" fill="#22b34a"/>
<circle cx="265.7" cy="420.02" r="1.9" fill="#22b34a"/>
<circle cx="265.7" cy="422.08" r="1.9" fill="#22b34a"/>
<circle cx="265.7" cy="424.14" r="1.9" fill="#22b34a"/>
<circle cx="265.7" cy="426.2" r="1.9" fill="#22b34a"/>
<rect x="264.55" y="426.45" width="2.3" height="2.3" fill="#2a38a0"/>
<rect x="264.55" y="428.75" width="2.3" height="2.3" fill="#2a38a0"/>
<circle cx="265.7" cy="430.6" r="1.9" fill="#22b34a"/>
<circle cx="265.7" cy="432.56" r="1.9" fill="#22b34a"/>
<circle cx="265.7" cy="434.52" r="1.9" fill="#22b34a"/>
<circle cx="265.7" cy="436.48" r="1.9" fill="#22b34a"/>
<circle cx="265.7" cy="438.43" r="1.9" fill="#22b34a"/>
<circle cx="265.7" cy="440.39" r="1.9" fill="#22b34a"/>
<circle cx="265.7" cy="442.35" r="1.9" fill="#22b34a"/>
<circle cx="265.7" cy="444.31" r="1.9" fill="#22b34a"/>
<circle cx="265.7" cy="446.27" r="1.9" fill="#22b34a"/>
<circle cx="265.7" cy="448.23" r="1.9" fill="#22b34a"/>
<circle cx="265.7" cy="450.18" r="1.9" fill="#22b34a"/>
<circle cx="265.7" cy="452.14" r="1.9" fill="#22b34a"/>
<circle cx="265.7" cy="454.1" r="1.9" fill="#22b34a"/>
<rect x="264.55" y="438.85" width="2.3" height="2.3" fill="#2a38a0"/>
<rect x="264.55" y="438.85" width="2.3" height="2.3" fill="#2a38a0"/>
<rect x="264.55" y="443.85" width="2.3" height="2.3" fill="#2a38a0"/>
<rect x="264.55" y="443.85" width="2.3" height="2.3" fill="#2a38a0"/>
<rect x="264.55" y="447.85" width="2.3" height="2.3" fill="#2a38a0"/>
<rect x="264.55" y="447.85" width="2.3" height="2.3" fill="#2a38a0"/>
<rect x="264.55" y="461.05" width="2.3" height="2.3" fill="#2a38a0"/>
<rect x="264.55" y="462.85" width="2.3" height="2.3" fill="#2a38a0"/>
<rect x="264.55" y="464.65" width="2.3" height="2.3" fill="#2a38a0"/>
<rect x="264.55" y="466.45" width="2.3" height="2.3" fill="#2a38a0"/>
<rect x="264.55" y="468.25" width="2.3" height="2.3" fill="#2a38a0"/>
<rect x="264.55" y="470.05" width="2.3" height="2.3" fill="#2a38a0"/>
<rect x="264.55" y="471.85" width="2.3" height="2.3" fill="#2a38a0"/>
<rect x="264.55" y="473.65" width="2.3" height="2.3" fill="#2a38a0"/>
<rect x="264.55" y="475.45" width="2.3" height="2.3" fill="#2a38a0"/>
<rect x="264.55" y="477.25" width="2.3" height="2.3" fill="#2a38a0"/>
<circle cx="271" cy="414.4" r="1.9" fill="#22b34a"/>
<circle cx="271" cy="414.4" r="1.9" fill="#22b34a"/>
<circle cx="271" cy="423.2" r="1.9" fill="#22b34a"/>
<circle cx="271" cy="425.13" r="1.9" fill="#22b34a"/>
<circle cx="271" cy="427.06" r="1.9" fill="#22b34a"/>
<circle cx="271" cy="428.99" r="1.9" fill="#22b34a"/>
<circle cx="271" cy="430.93" r="1.9" fill="#22b34a"/>
<circle cx="271" cy="432.86" r="1.9" fill="#22b34a"/>
<circle cx="271" cy="434.79" r="1.9" fill="#22b34a"/>
<circle cx="271" cy="436.72" r="1.9" fill="#22b34a"/>
<circle cx="271" cy="438.65" r="1.9" fill="#22b34a"/>
<circle cx="271" cy="440.58" r="1.9" fill="#22b34a"/>
<circle cx="271" cy="442.51" r="1.9" fill="#22b34a"/>
<circle cx="271" cy="444.44" r="1.9" fill="#22b34a"/>
<circle cx="271" cy="446.38" r="1.9" fill="#22b34a"/>
<circle cx="271" cy="448.31" r="1.9" fill="#22b34a"/>
<circle cx="271" cy="450.24" r="1.9" fill="#22b34a"/>
<circle cx="271" cy="452.17" r="1.9" fill="#22b34a"/>
<circle cx="271" cy="454.1" r="1.9" fill="#22b34a"/>
<rect x="269.85" y="440.45" width="2.3" height="2.3" fill="#2a38a0"/>
<rect x="269.85" y="442.65" width="2.3" height="2.3" fill="#2a38a0"/>
<rect x="269.85" y="444.85" width="2.3" height="2.3" fill="#2a38a0"/>
<rect x="269.85" y="454.45" width="2.3" height="2.3" fill="#2a38a0"/>
<rect x="269.85" y="456.35" width="2.3" height="2.3" fill="#2a38a0"/>
<rect x="269.85" y="458.25" width="2.3" height="2.3" fill="#2a38a0"/>
<rect x="269.85" y="460.15" width="2.3" height="2.3" fill="#2a38a0"/>
<rect x="269.85" y="462.05" width="2.3" height="2.3" fill="#2a38a0"/>
<rect x="269.85" y="463.95" width="2.3" height="2.3" fill="#2a38a0"/>
<rect x="269.85" y="465.85" width="2.3" height="2.3" fill="#2a38a0"/>
<rect x="269.85" y="467.75" width="2.3" height="2.3" fill="#2a38a0"/>
<rect x="269.85" y="469.65" width="2.3" height="2.3" fill="#2a38a0"/>
<rect x="269.85" y="471.55" width="2.3" height="2.3" fill="#2a38a0"/>
<rect x="269.85" y="473.45" width="2.3" height="2.3" fill="#2a38a0"/>
<rect x="269.85" y="475.35" width="2.3" height="2.3" fill="#2a38a0"/>
<rect x="269.85" y="477.25" width="2.3" height="2.3" fill="#2a38a0"/>
<circle cx="301.8" cy="427.8" r="1.9" fill="#22b34a"/>
<circle cx="301.8" cy="427.8" r="1.9" fill="#22b34a"/>
<circle cx="301.8" cy="438.5" r="1.9" fill="#22b34a"/>
<circle cx="301.8" cy="439.9" r="1.9" fill="#22b34a"/>
<rect x="300.65" y="446.35" width="2.3" height="2.3" fill="#2a38a0"/>
<rect x="300.65" y="446.35" width="2.3" height="2.3" fill="#2a38a0"/>
<rect x="300.65" y="449.35" width="2.3" height="2.3" fill="#2a38a0"/>
<rect x="300.65" y="449.35" width="2.3" height="2.3" fill="#2a38a0"/>
<rect x="300.65" y="452.15" width="2.3" height="2.3" fill="#2a38a0"/>
<rect x="300.65" y="452.15" width="2.3" height="2.3" fill="#2a38a0"/>
<rect x="300.65" y="455.05" width="2.3" height="2.3" fill="#2a38a0"/>
<rect x="300.65" y="455.05" width="2.3" height="2.3" fill="#2a38a0"/>
<rect x="300.65" y="457.85" width="2.3" height="2.3" fill="#2a38a0"/>
<rect x="300.65" y="457.85" width="2.3" height="2.3" fill="#2a38a0"/>
<circle cx="307.5" cy="412.3" r="1.9" fill="#22b34a"/>
<circle cx="307.5" cy="412.3" r="1.9" fill="#22b34a"/>
<circle cx="307.5" cy="423" r="1.9" fill="#22b34a"/>
<circle cx="307.5" cy="425.6" r="1.9" fill="#22b34a"/>
<rect x="306.35" y="437.35" width="2.3" height="2.3" fill="#2a38a0"/>
<rect x="306.35" y="439.15" width="2.3" height="2.3" fill="#2a38a0"/>
<circle cx="344.1" cy="404" r="1.9" fill="#22b34a"/>
<circle cx="344.1" cy="404" r="1.9" fill="#22b34a"/>
<rect x="342.95" y="407.15" width="2.3" height="2.3" fill="#2a38a0"/>
<rect x="342.95" y="407.15" width="2.3" height="2.3" fill="#2a38a0"/>
<line x1="232" y1="445.2" x2="344.1" y2="404" stroke="#555" stroke-width="0.7" />
<line x1="232" y1="483.5" x2="344.1" y2="408.3" stroke="#555" stroke-width="0.7" />
<text x="207.9" y="413.26" font-size="6.3" text-anchor="end" font-weight="bold" font-family="'Liberation Serif', serif" fill="#111" >0.8</text>
<text x="207.9" y="426.52" font-size="6.3" text-anchor="end" font-weight="bold" font-family="'Liberation Serif', serif" fill="#111" >0.6</text>
<text x="207.9" y="439.78" font-size="6.3" text-anchor="end" font-weight="bold" font-family="'Liberation Serif', serif" fill="#111" >0.4</text>
<text x="207.9" y="453.04" font-size="6.3" text-anchor="end" font-weight="bold" font-family="'Liberation Serif', serif" fill="#111" >0.2</text>
<text x="207.9" y="466.3" font-size="6.3" text-anchor="end" font-weight="bold" font-family="'Liberation Serif', serif" fill="#111" >0</text>
<text x="207.9" y="479.56" font-size="6.3" text-anchor="end" font-weight="bold" font-family="'Liberation Serif', serif" fill="#111" >-0.2</text>
<text x="207.9" y="492.82" font-size="6.3" text-anchor="end" font-weight="bold" font-family="'Liberation Serif', serif" fill="#111" >-0.4</text>
<text x="209.7" y="498.2" font-size="6.3" text-anchor="middle" font-weight="bold" font-family="'Liberation Serif', serif" fill="#111" >-0.2</text>
<text x="232" y="498.2" font-size="6.3" text-anchor="middle" font-weight="bold" font-family="'Liberation Serif', serif" fill="#111" >0</text>
<text x="254.3" y="498.2" font-size="6.3" text-anchor="middle" font-weight="bold" font-family="'Liberation Serif', serif" fill="#111" >0.2</text>
<text x="276.6" y="498.2" font-size="6.3" text-anchor="middle" font-weight="bold" font-family="'Liberation Serif', serif" fill="#111" >0.4</text>
<text x="298.9" y="498.2" font-size="6.3" text-anchor="middle" font-weight="bold" font-family="'Liberation Serif', serif" fill="#111" >0.6</text>
<text x="321.2" y="498.2" font-size="6.3" text-anchor="middle" font-weight="bold" font-family="'Liberation Serif', serif" fill="#111" >0.8</text>
<text x="343.5" y="498.2" font-size="6.3" text-anchor="middle" font-weight="bold" font-family="'Liberation Serif', serif" fill="#111" >1</text>
<polygon points="366.8,490.4 362.8,488.6 362.8,492.2" fill="#b0b0b0"/>
<text x="381" y="396" font-size="13.5" text-anchor="start" font-weight="bold" font-family="'Liberation Serif', serif" fill="#000" >L</text>
<line x1="411" y1="399" x2="411" y2="491.1" stroke="#e6e6e6" stroke-width="0.6" />
<line x1="425.9" y1="399" x2="425.9" y2="491.1" stroke="#e6e6e6" stroke-width="0.6" />
<line x1="440.8" y1="399" x2="440.8" y2="491.1" stroke="#e6e6e6" stroke-width="0.6" />
<line x1="455.7" y1="399" x2="455.7" y2="491.1" stroke="#e6e6e6" stroke-width="0.6" />
<line x1="485.5" y1="399" x2="485.5" y2="491.1" stroke="#e6e6e6" stroke-width="0.6" />
<line x1="500.4" y1="399" x2="500.4" y2="491.1" stroke="#e6e6e6" stroke-width="0.6" />
<line x1="515.3" y1="399" x2="515.3" y2="491.1" stroke="#e6e6e6" stroke-width="0.6" />
<line x1="530.2" y1="399" x2="530.2" y2="491.1" stroke="#e6e6e6" stroke-width="0.6" />
<line x1="396.6" y1="482.38" x2="542.5" y2="482.38" stroke="#e6e6e6" stroke-width="0.6" />
<line x1="396.6" y1="472.86" x2="542.5" y2="472.86" stroke="#e6e6e6" stroke-width="0.6" />
<line x1="396.6" y1="463.34" x2="542.5" y2="463.34" stroke="#e6e6e6" stroke-width="0.6" />
<line x1="396.6" y1="453.82" x2="542.5" y2="453.82" stroke="#e6e6e6" stroke-width="0.6" />
<line x1="396.6" y1="434.78" x2="542.5" y2="434.78" stroke="#e6e6e6" stroke-width="0.6" />
<line x1="396.6" y1="425.26" x2="542.5" y2="425.26" stroke="#e6e6e6" stroke-width="0.6" />
<line x1="396.6" y1="415.74" x2="542.5" y2="415.74" stroke="#e6e6e6" stroke-width="0.6" />
<line x1="396.6" y1="406.22" x2="542.5" y2="406.22" stroke="#e6e6e6" stroke-width="0.6" />
<line x1="396.6" y1="399" x2="396.6" y2="491.1" stroke="#d2d2d2" stroke-width="0.9" />
<line x1="396.6" y1="491.1" x2="544.5" y2="491.1" stroke="#d2d2d2" stroke-width="0.9" />
<line x1="396.1" y1="491.1" x2="396.1" y2="492.7" stroke="#bdbdbd" stroke-width="0.6" />
<line x1="403.55" y1="491.1" x2="403.55" y2="492.7" stroke="#bdbdbd" stroke-width="0.6" />
<line x1="411" y1="491.1" x2="411" y2="492.7" stroke="#bdbdbd" stroke-width="0.6" />
<line x1="418.45" y1="491.1" x2="418.45" y2="492.7" stroke="#bdbdbd" stroke-width="0.6" />
<line x1="425.9" y1="491.1" x2="425.9" y2="492.7" stroke="#bdbdbd" stroke-width="0.6" />
<line x1="433.35" y1="491.1" x2="433.35" y2="492.7" stroke="#bdbdbd" stroke-width="0.6" />
<line x1="440.8" y1="491.1" x2="440.8" y2="492.7" stroke="#bdbdbd" stroke-width="0.6" />
<line x1="448.25" y1="491.1" x2="448.25" y2="492.7" stroke="#bdbdbd" stroke-width="0.6" />
<line x1="455.7" y1="491.1" x2="455.7" y2="492.7" stroke="#bdbdbd" stroke-width="0.6" />
<line x1="463.15" y1="491.1" x2="463.15" y2="492.7" stroke="#bdbdbd" stroke-width="0.6" />
<line x1="470.6" y1="491.1" x2="470.6" y2="492.7" stroke="#bdbdbd" stroke-width="0.6" />
<line x1="478.05" y1="491.1" x2="478.05" y2="492.7" stroke="#bdbdbd" stroke-width="0.6" />
<line x1="485.5" y1="491.1" x2="485.5" y2="492.7" stroke="#bdbdbd" stroke-width="0.6" />
<line x1="492.95" y1="491.1" x2="492.95" y2="492.7" stroke="#bdbdbd" stroke-width="0.6" />
<line x1="500.4" y1="491.1" x2="500.4" y2="492.7" stroke="#bdbdbd" stroke-width="0.6" />
<line x1="507.85" y1="491.1" x2="507.85" y2="492.7" stroke="#bdbdbd" stroke-width="0.6" />
<line x1="515.3" y1="491.1" x2="515.3" y2="492.7" stroke="#bdbdbd" stroke-width="0.6" />
<line x1="522.75" y1="491.1" x2="522.75" y2="492.7" stroke="#bdbdbd" stroke-width="0.6" />
<line x1="530.2" y1="491.1" x2="530.2" y2="492.7" stroke="#bdbdbd" stroke-width="0.6" />
<line x1="537.65" y1="491.1" x2="537.65" y2="492.7" stroke="#bdbdbd" stroke-width="0.6" />
<line x1="395" y1="491.9" x2="396.6" y2="491.9" stroke="#bdbdbd" stroke-width="0.6" />
<line x1="395" y1="487.14" x2="396.6" y2="487.14" stroke="#bdbdbd" stroke-width="0.6" />
<line x1="395" y1="482.38" x2="396.6" y2="482.38" stroke="#bdbdbd" stroke-width="0.6" />
<line x1="395" y1="477.62" x2="396.6" y2="477.62" stroke="#bdbdbd" stroke-width="0.6" />
<line x1="395" y1="472.86" x2="396.6" y2="472.86" stroke="#bdbdbd" stroke-width="0.6" />
<line x1="395" y1="468.1" x2="396.6" y2="468.1" stroke="#bdbdbd" stroke-width="0.6" />
<line x1="395" y1="463.34" x2="396.6" y2="463.34" stroke="#bdbdbd" stroke-width="0.6" />
<line x1="395" y1="458.58" x2="396.6" y2="458.58" stroke="#bdbdbd" stroke-width="0.6" />
<line x1="395" y1="453.82" x2="396.6" y2="453.82" stroke="#bdbdbd" stroke-width="0.6" />
<line x1="395" y1="449.06" x2="396.6" y2="449.06" stroke="#bdbdbd" stroke-width="0.6" />
<line x1="395" y1="444.3" x2="396.6" y2="444.3" stroke="#bdbdbd" stroke-width="0.6" />
<line x1="395" y1="439.54" x2="396.6" y2="439.54" stroke="#bdbdbd" stroke-width="0.6" />
<line x1="395" y1="434.78" x2="396.6" y2="434.78" stroke="#bdbdbd" stroke-width="0.6" />
<line x1="395" y1="430.02" x2="396.6" y2="430.02" stroke="#bdbdbd" stroke-width="0.6" />
<line x1="395" y1="425.26" x2="396.6" y2="425.26" stroke="#bdbdbd" stroke-width="0.6" />
<line x1="395" y1="420.5" x2="396.6" y2="420.5" stroke="#bdbdbd" stroke-width="0.6" />
<line x1="395" y1="415.74" x2="396.6" y2="415.74" stroke="#bdbdbd" stroke-width="0.6" />
<line x1="395" y1="410.98" x2="396.6" y2="410.98" stroke="#bdbdbd" stroke-width="0.6" />
<line x1="395" y1="406.22" x2="396.6" y2="406.22" stroke="#bdbdbd" stroke-width="0.6" />
<line x1="395" y1="401.46" x2="396.6" y2="401.46" stroke="#bdbdbd" stroke-width="0.6" />
<line x1="396.6" y1="444.3" x2="544.5" y2="444.3" stroke="#bababa" stroke-width="0.9" />
<line x1="470.6" y1="399" x2="470.6" y2="491.1" stroke="#bababa" stroke-width="0.9" />
<polygon points="545,491.1 540.5,489.5 540.5,492.7" fill="#aaa"/>
<polygon points="474.5,404.5 472.3,413.3 471.7,422 471.2,430.6 470.6,437.1 469.6,443.5 468.2,447.1 465.6,450.6 461.2,456.3 463.8,460.3 455.9,465.6 454.1,470 455.4,475.3 458,476.5 463.8,473.5 465.6,468.2 467.4,463 470,460.3 470.4,456.3 470.9,450.6 471.8,447.1 474.4,442.5 476.2,438.2 476,432.2 479.5,429.5 480.5,424.1 482,419.8 482,413.3 479.9,410.1 476.6,405.8" fill="#4db34d" stroke="none"/>
<circle cx="468.58" cy="450.6" r="1.75" fill="#45ae45" stroke="#309030" stroke-width="0.45"/>
<circle cx="468.04" cy="452.2" r="1.75" fill="#45ae45" stroke="#309030" stroke-width="0.45"/>
<circle cx="475.82" cy="423.92" r="1.75" fill="#45ae45" stroke="#309030" stroke-width="0.45"/>
<circle cx="476.34" cy="417.29" r="1.75" fill="#45ae45" stroke="#309030" stroke-width="0.45"/>
<circle cx="462.59" cy="468.21" r="1.75" fill="#45ae45" stroke="#309030" stroke-width="0.45"/>
<circle cx="475.66" cy="428.18" r="1.75" fill="#45ae45" stroke="#309030" stroke-width="0.45"/>
<circle cx="459.58" cy="472.91" r="1.75" fill="#45ae45" stroke="#309030" stroke-width="0.45"/>
<circle cx="461.27" cy="463.81" r="1.75" fill="#45ae45" stroke="#309030" stroke-width="0.45"/>
<circle cx="479.69" cy="419.19" r="1.75" fill="#45ae45" stroke="#309030" stroke-width="0.45"/>
<circle cx="464.2" cy="468.65" r="1.75" fill="#45ae45" stroke="#309030" stroke-width="0.45"/>
<circle cx="467.55" cy="457.1" r="1.75" fill="#45ae45" stroke="#309030" stroke-width="0.45"/>
<circle cx="465.74" cy="461.42" r="1.75" fill="#45ae45" stroke="#309030" stroke-width="0.45"/>
<circle cx="474.42" cy="432.47" r="1.75" fill="#45ae45" stroke="#309030" stroke-width="0.45"/>
<circle cx="473.58" cy="440.3" r="1.75" fill="#45ae45" stroke="#309030" stroke-width="0.45"/>
<circle cx="471.56" cy="440.06" r="1.75" fill="#45ae45" stroke="#309030" stroke-width="0.45"/>
<circle cx="462.9" cy="464.92" r="1.75" fill="#45ae45" stroke="#309030" stroke-width="0.45"/>
<circle cx="477.25" cy="421.59" r="1.75" fill="#45ae45" stroke="#309030" stroke-width="0.45"/>
<circle cx="473.2" cy="418.85" r="1.75" fill="#45ae45" stroke="#309030" stroke-width="0.45"/>
<circle cx="474.03" cy="417.4" r="1.75" fill="#45ae45" stroke="#309030" stroke-width="0.45"/>
<circle cx="465.08" cy="461.52" r="1.75" fill="#45ae45" stroke="#309030" stroke-width="0.45"/>
<circle cx="460.05" cy="469.3" r="1.75" fill="#45ae45" stroke="#309030" stroke-width="0.45"/>
<circle cx="463.04" cy="470.02" r="1.75" fill="#45ae45" stroke="#309030" stroke-width="0.45"/>
<circle cx="476.68" cy="409.11" r="1.75" fill="#45ae45" stroke="#309030" stroke-width="0.45"/>
<circle cx="476.42" cy="416.95" r="1.75" fill="#45ae45" stroke="#309030" stroke-width="0.45"/>
<circle cx="468.51" cy="456.6" r="1.75" fill="#45ae45" stroke="#309030" stroke-width="0.45"/>
<circle cx="471.92" cy="442.14" r="1.75" fill="#45ae45" stroke="#309030" stroke-width="0.45"/>
<circle cx="459.91" cy="465.76" r="1.75" fill="#45ae45" stroke="#309030" stroke-width="0.45"/>
<circle cx="465.28" cy="462.18" r="1.75" fill="#45ae45" stroke="#309030" stroke-width="0.45"/>
<circle cx="479.92" cy="413.82" r="1.75" fill="#45ae45" stroke="#309030" stroke-width="0.45"/>
<circle cx="473.27" cy="427.69" r="1.75" fill="#45ae45" stroke="#309030" stroke-width="0.45"/>
<circle cx="471.91" cy="442.63" r="1.75" fill="#45ae45" stroke="#309030" stroke-width="0.45"/>
<circle cx="478" cy="421.25" r="1.75" fill="#45ae45" stroke="#309030" stroke-width="0.45"/>
<circle cx="462.89" cy="470.94" r="1.75" fill="#45ae45" stroke="#309030" stroke-width="0.45"/>
<circle cx="478.86" cy="414.14" r="1.75" fill="#45ae45" stroke="#309030" stroke-width="0.45"/>
<circle cx="476.14" cy="413.57" r="1.75" fill="#45ae45" stroke="#309030" stroke-width="0.45"/>
<circle cx="465.34" cy="453.84" r="1.75" fill="#45ae45" stroke="#309030" stroke-width="0.45"/>
<circle cx="468.21" cy="459.09" r="1.75" fill="#45ae45" stroke="#309030" stroke-width="0.45"/>
<circle cx="468.13" cy="453.87" r="1.75" fill="#45ae45" stroke="#309030" stroke-width="0.45"/>
<circle cx="466.99" cy="459.56" r="1.75" fill="#45ae45" stroke="#309030" stroke-width="0.45"/>
<circle cx="474.73" cy="433.68" r="1.75" fill="#45ae45" stroke="#309030" stroke-width="0.45"/>
<circle cx="461.31" cy="470.11" r="1.75" fill="#45ae45" stroke="#309030" stroke-width="0.45"/>
<circle cx="460.58" cy="472.52" r="1.75" fill="#45ae45" stroke="#309030" stroke-width="0.45"/>
<circle cx="472.68" cy="428.82" r="1.75" fill="#45ae45" stroke="#309030" stroke-width="0.45"/>
<circle cx="461.1" cy="469.71" r="1.75" fill="#45ae45" stroke="#309030" stroke-width="0.45"/>
<circle cx="476.69" cy="409.99" r="1.75" fill="#45ae45" stroke="#309030" stroke-width="0.45"/>
<circle cx="474.98" cy="408.11" r="1.75" fill="#45ae45" stroke="#309030" stroke-width="0.45"/>
<circle cx="456.15" cy="469.7" r="1.75" fill="#45ae45" stroke="#309030" stroke-width="0.45"/>
<circle cx="474.26" cy="438.22" r="1.75" fill="#45ae45" stroke="#309030" stroke-width="0.45"/>
<circle cx="466.46" cy="452.59" r="1.75" fill="#45ae45" stroke="#309030" stroke-width="0.45"/>
<circle cx="474.59" cy="421.67" r="1.75" fill="#45ae45" stroke="#309030" stroke-width="0.45"/>
<circle cx="457.28" cy="468.77" r="1.75" fill="#45ae45" stroke="#309030" stroke-width="0.45"/>
<circle cx="475.12" cy="418.17" r="1.75" fill="#45ae45" stroke="#309030" stroke-width="0.45"/>
<circle cx="469.46" cy="449.94" r="1.75" fill="#45ae45" stroke="#309030" stroke-width="0.45"/>
<circle cx="475.55" cy="419.85" r="1.75" fill="#45ae45" stroke="#309030" stroke-width="0.45"/>
<circle cx="456.81" cy="467.51" r="1.75" fill="#45ae45" stroke="#309030" stroke-width="0.45"/>
<circle cx="473.22" cy="426.02" r="1.75" fill="#45ae45" stroke="#309030" stroke-width="0.45"/>
<circle cx="475.74" cy="409.98" r="1.75" fill="#45ae45" stroke="#309030" stroke-width="0.45"/>
<circle cx="464.08" cy="456.77" r="1.75" fill="#45ae45" stroke="#309030" stroke-width="0.45"/>
<circle cx="476.51" cy="426.44" r="1.75" fill="#45ae45" stroke="#309030" stroke-width="0.45"/>
<circle cx="478.68" cy="424.76" r="1.75" fill="#45ae45" stroke="#309030" stroke-width="0.45"/>
<circle cx="476.54" cy="409.11" r="1.75" fill="#45ae45" stroke="#309030" stroke-width="0.45"/>
<circle cx="468.65" cy="459.56" r="1.75" fill="#45ae45" stroke="#309030" stroke-width="0.45"/>
<circle cx="468.72" cy="455.63" r="1.75" fill="#45ae45" stroke="#309030" stroke-width="0.45"/>
<circle cx="475.75" cy="417.42" r="1.75" fill="#45ae45" stroke="#309030" stroke-width="0.45"/>
<circle cx="461.37" cy="468.39" r="1.75" fill="#45ae45" stroke="#309030" stroke-width="0.45"/>
<circle cx="464.47" cy="461.87" r="1.75" fill="#45ae45" stroke="#309030" stroke-width="0.45"/>
<circle cx="474.09" cy="411.5" r="1.75" fill="#45ae45" stroke="#309030" stroke-width="0.45"/>
<circle cx="478.02" cy="426.36" r="1.75" fill="#45ae45" stroke="#309030" stroke-width="0.45"/>
<circle cx="477.15" cy="419.51" r="1.75" fill="#45ae45" stroke="#309030" stroke-width="0.45"/>
<circle cx="467.14" cy="455.99" r="1.75" fill="#45ae45" stroke="#309030" stroke-width="0.45"/>
<circle cx="473.91" cy="421.6" r="1.75" fill="#45ae45" stroke="#309030" stroke-width="0.45"/>
<circle cx="476.4" cy="419.38" r="1.75" fill="#45ae45" stroke="#309030" stroke-width="0.45"/>
<circle cx="474.51" cy="428.22" r="1.75" fill="#45ae45" stroke="#309030" stroke-width="0.45"/>
<circle cx="474.29" cy="428.38" r="1.75" fill="#45ae45" stroke="#309030" stroke-width="0.45"/>
<circle cx="477.17" cy="411.14" r="1.75" fill="#45ae45" stroke="#309030" stroke-width="0.45"/>
<circle cx="477.5" cy="401.9" r="1.75" fill="#45ae45" stroke="#309030" stroke-width="0.45"/>
<circle cx="490.8" cy="403.1" r="1.75" fill="#45ae45" stroke="#309030" stroke-width="0.45"/>
<circle cx="502.5" cy="401.4" r="1.75" fill="#45ae45" stroke="#309030" stroke-width="0.45"/>
<circle cx="506.3" cy="402.8" r="1.75" fill="#45ae45" stroke="#309030" stroke-width="0.45"/>
<circle cx="508.5" cy="402.3" r="1.75" fill="#45ae45" stroke="#309030" stroke-width="0.45"/>
<circle cx="511.6" cy="404.5" r="1.75" fill="#45ae45" stroke="#309030" stroke-width="0.45"/>
<circle cx="486.1" cy="403.6" r="1.75" fill="#45ae45" stroke="#309030" stroke-width="0.45"/>
<circle cx="482.6" cy="405.4" r="1.75" fill="#45ae45" stroke="#309030" stroke-width="0.45"/>
<circle cx="495.6" cy="406.2" r="1.75" fill="#45ae45" stroke="#309030" stroke-width="0.45"/>
<circle cx="499.6" cy="407.4" r="1.75" fill="#45ae45" stroke="#309030" stroke-width="0.45"/>
<circle cx="506.8" cy="409.2" r="1.75" fill="#45ae45" stroke="#309030" stroke-width="0.45"/>
<circle cx="511.5" cy="408.8" r="1.75" fill="#45ae45" stroke="#309030" stroke-width="0.45"/>
<circle cx="514.6" cy="411.9" r="1.75" fill="#45ae45" stroke="#309030" stroke-width="0.45"/>
<circle cx="490.4" cy="409.7" r="1.75" fill="#45ae45" stroke="#309030" stroke-width="0.45"/>
<circle cx="495.1" cy="411.4" r="1.75" fill="#45ae45" stroke="#309030" stroke-width="0.45"/>
<circle cx="497.8" cy="414" r="1.75" fill="#45ae45" stroke="#309030" stroke-width="0.45"/>
<circle cx="502.5" cy="413.5" r="1.75" fill="#45ae45" stroke="#309030" stroke-width="0.45"/>
<circle cx="488.2" cy="414.5" r="1.75" fill="#45ae45" stroke="#309030" stroke-width="0.45"/>
<circle cx="491.3" cy="420" r="1.75" fill="#45ae45" stroke="#309030" stroke-width="0.45"/>
<circle cx="495.6" cy="418.3" r="1.75" fill="#45ae45" stroke="#309030" stroke-width="0.45"/>
<circle cx="485.2" cy="419.2" r="1.75" fill="#45ae45" stroke="#309030" stroke-width="0.45"/>
<circle cx="484" cy="426.1" r="1.75" fill="#45ae45" stroke="#309030" stroke-width="0.45"/>
<circle cx="480.6" cy="430.4" r="1.75" fill="#45ae45" stroke="#309030" stroke-width="0.45"/>
<circle cx="417.8" cy="481.2" r="1.75" fill="#45ae45" stroke="#309030" stroke-width="0.45"/>
<circle cx="436.4" cy="471.6" r="1.75" fill="#45ae45" stroke="#309030" stroke-width="0.45"/>
<circle cx="445.3" cy="473.3" r="1.75" fill="#45ae45" stroke="#309030" stroke-width="0.45"/>
<circle cx="443.3" cy="477.5" r="1.75" fill="#45ae45" stroke="#309030" stroke-width="0.45"/>
<circle cx="438.3" cy="481.8" r="1.75" fill="#45ae45" stroke="#309030" stroke-width="0.45"/>
<circle cx="446.6" cy="483.5" r="1.75" fill="#45ae45" stroke="#309030" stroke-width="0.45"/>
<circle cx="436.4" cy="487.5" r="1.75" fill="#45ae45" stroke="#309030" stroke-width="0.45"/>
<circle cx="444.1" cy="488.3" r="1.75" fill="#45ae45" stroke="#309030" stroke-width="0.45"/>
<circle cx="449.7" cy="487" r="1.75" fill="#45ae45" stroke="#309030" stroke-width="0.45"/>
<circle cx="451.1" cy="469.2" r="1.75" fill="#45ae45" stroke="#309030" stroke-width="0.45"/>
<circle cx="450.7" cy="476.4" r="1.75" fill="#45ae45" stroke="#309030" stroke-width="0.45"/>
<circle cx="453.9" cy="479.2" r="1.75" fill="#45ae45" stroke="#309030" stroke-width="0.45"/>
<circle cx="457.1" cy="485.1" r="1.75" fill="#45ae45" stroke="#309030" stroke-width="0.45"/>
<circle cx="461.2" cy="480.3" r="1.75" fill="#45ae45" stroke="#309030" stroke-width="0.45"/>
<circle cx="467.3" cy="476.1" r="1.75" fill="#45ae45" stroke="#309030" stroke-width="0.45"/>
<circle cx="468.3" cy="469.7" r="1.75" fill="#45ae45" stroke="#309030" stroke-width="0.45"/>
<circle cx="465.4" cy="472.6" r="1.75" fill="#45ae45" stroke="#309030" stroke-width="0.45"/>
<circle cx="455.8" cy="465.6" r="1.75" fill="#45ae45" stroke="#309030" stroke-width="0.45"/>
<circle cx="408.1" cy="487.7" r="1.75" fill="#45ae45" stroke="#309030" stroke-width="0.45"/>
<circle cx="477.3" cy="402" r="1.75" fill="#45ae45" stroke="#309030" stroke-width="0.45"/>
<circle cx="482.5" cy="405.2" r="1.75" fill="#45ae45" stroke="#309030" stroke-width="0.45"/>
<circle cx="486.3" cy="404.2" r="1.75" fill="#45ae45" stroke="#309030" stroke-width="0.45"/>
<circle cx="490.6" cy="403.1" r="1.75" fill="#45ae45" stroke="#309030" stroke-width="0.45"/>
<circle cx="494.9" cy="406.9" r="1.75" fill="#45ae45" stroke="#309030" stroke-width="0.45"/>
<circle cx="496" cy="405.8" r="1.75" fill="#45ae45" stroke="#309030" stroke-width="0.45"/>
<circle cx="490.1" cy="410.1" r="1.75" fill="#45ae45" stroke="#309030" stroke-width="0.45"/>
<circle cx="494.9" cy="411.2" r="1.75" fill="#45ae45" stroke="#309030" stroke-width="0.45"/>
<circle cx="498.2" cy="414.4" r="1.75" fill="#45ae45" stroke="#309030" stroke-width="0.45"/>
<circle cx="489.3" cy="414.4" r="1.75" fill="#45ae45" stroke="#309030" stroke-width="0.45"/>
<circle cx="491.7" cy="419.8" r="1.75" fill="#45ae45" stroke="#309030" stroke-width="0.45"/>
<circle cx="495.5" cy="418.2" r="1.75" fill="#45ae45" stroke="#309030" stroke-width="0.45"/>
<circle cx="484.1" cy="426.3" r="1.75" fill="#45ae45" stroke="#309030" stroke-width="0.45"/>
<circle cx="480.4" cy="430.6" r="1.75" fill="#45ae45" stroke="#309030" stroke-width="0.45"/>
<circle cx="485.7" cy="419.3" r="1.75" fill="#45ae45" stroke="#309030" stroke-width="0.45"/>
<circle cx="483.6" cy="406.3" r="1.75" fill="#45ae45" stroke="#309030" stroke-width="0.45"/>
<circle cx="484.5" cy="412" r="1.75" fill="#45ae45" stroke="#309030" stroke-width="0.45"/>
<circle cx="484.8" cy="416.5" r="1.75" fill="#45ae45" stroke="#309030" stroke-width="0.45"/>
<circle cx="451" cy="469.1" r="1.75" fill="#45ae45" stroke="#309030" stroke-width="0.45"/>
<circle cx="445.5" cy="473.4" r="1.75" fill="#45ae45" stroke="#309030" stroke-width="0.45"/>
<circle cx="443.5" cy="477.5" r="1.75" fill="#45ae45" stroke="#309030" stroke-width="0.45"/>
<circle cx="450.6" cy="476.4" r="1.75" fill="#45ae45" stroke="#309030" stroke-width="0.45"/>
<circle cx="453.7" cy="478.8" r="1.75" fill="#45ae45" stroke="#309030" stroke-width="0.45"/>
<circle cx="461.2" cy="480.2" r="1.75" fill="#45ae45" stroke="#309030" stroke-width="0.45"/>
<circle cx="467.5" cy="475.7" r="1.75" fill="#45ae45" stroke="#309030" stroke-width="0.45"/>
<circle cx="468.2" cy="470" r="1.75" fill="#45ae45" stroke="#309030" stroke-width="0.45"/>
<circle cx="446.9" cy="483.2" r="1.75" fill="#45ae45" stroke="#309030" stroke-width="0.45"/>
<circle cx="457.2" cy="484.1" r="1.75" fill="#45ae45" stroke="#309030" stroke-width="0.45"/>
<circle cx="484.72" cy="423.29" r="1.75" fill="#45ae45" stroke="#309030" stroke-width="0.45"/>
<circle cx="482.57" cy="410.41" r="1.75" fill="#45ae45" stroke="#309030" stroke-width="0.45"/>
<circle cx="483.61" cy="418.92" r="1.75" fill="#45ae45" stroke="#309030" stroke-width="0.45"/>
<circle cx="479.91" cy="427.82" r="1.75" fill="#45ae45" stroke="#309030" stroke-width="0.45"/>
<circle cx="486.72" cy="408.15" r="1.75" fill="#45ae45" stroke="#309030" stroke-width="0.45"/>
<circle cx="487.16" cy="407.61" r="1.75" fill="#45ae45" stroke="#309030" stroke-width="0.45"/>
<circle cx="484.64" cy="407.29" r="1.75" fill="#45ae45" stroke="#309030" stroke-width="0.45"/>
<circle cx="478.93" cy="409.6" r="1.75" fill="#45ae45" stroke="#309030" stroke-width="0.45"/>
<circle cx="483.55" cy="421.62" r="1.75" fill="#45ae45" stroke="#309030" stroke-width="0.45"/>
<circle cx="478.87" cy="428.47" r="1.75" fill="#45ae45" stroke="#309030" stroke-width="0.45"/>
<circle cx="488.51" cy="411.77" r="1.75" fill="#45ae45" stroke="#309030" stroke-width="0.45"/>
<circle cx="481.06" cy="408.31" r="1.75" fill="#45ae45" stroke="#309030" stroke-width="0.45"/>
<circle cx="478.04" cy="405.69" r="1.75" fill="#45ae45" stroke="#309030" stroke-width="0.45"/>
<circle cx="480.22" cy="419.68" r="1.75" fill="#45ae45" stroke="#309030" stroke-width="0.45"/>
<circle cx="480.73" cy="412.06" r="1.75" fill="#45ae45" stroke="#309030" stroke-width="0.45"/>
<circle cx="487.46" cy="416.5" r="1.75" fill="#45ae45" stroke="#309030" stroke-width="0.45"/>
<circle cx="461.26" cy="457.2" r="1.75" fill="#45ae45" stroke="#309030" stroke-width="0.45"/>
<circle cx="454.77" cy="472" r="1.75" fill="#45ae45" stroke="#309030" stroke-width="0.45"/>
<circle cx="469.97" cy="448.42" r="1.75" fill="#45ae45" stroke="#309030" stroke-width="0.45"/>
<circle cx="463.09" cy="464.5" r="1.75" fill="#45ae45" stroke="#309030" stroke-width="0.45"/>
<circle cx="466.07" cy="459.56" r="1.75" fill="#45ae45" stroke="#309030" stroke-width="0.45"/>
<circle cx="466.5" cy="450.71" r="1.75" fill="#45ae45" stroke="#309030" stroke-width="0.45"/>
<circle cx="463.81" cy="469.23" r="1.75" fill="#45ae45" stroke="#309030" stroke-width="0.45"/>
<circle cx="459.67" cy="468.38" r="1.75" fill="#45ae45" stroke="#309030" stroke-width="0.45"/>
<circle cx="465.48" cy="467.77" r="1.75" fill="#45ae45" stroke="#309030" stroke-width="0.45"/>
<circle cx="457.62" cy="470.29" r="1.75" fill="#45ae45" stroke="#309030" stroke-width="0.45"/>
<circle cx="455.99" cy="472.59" r="1.75" fill="#45ae45" stroke="#309030" stroke-width="0.45"/>
<circle cx="469.59" cy="447.64" r="1.75" fill="#45ae45" stroke="#309030" stroke-width="0.45"/>
<circle cx="459.58" cy="460.75" r="1.75" fill="#45ae45" stroke="#309030" stroke-width="0.45"/>
<circle cx="470.13" cy="449.36" r="1.75" fill="#45ae45" stroke="#309030" stroke-width="0.45"/>
<text x="395" y="408.32" font-size="6.2" text-anchor="end" font-weight="bold" font-family="'Liberation Serif', serif" fill="#111" >0.8</text>
<text x="395" y="417.84" font-size="6.2" text-anchor="end" font-weight="bold" font-family="'Liberation Serif', serif" fill="#111" >0.6</text>
<text x="395" y="427.36" font-size="6.2" text-anchor="end" font-weight="bold" font-family="'Liberation Serif', serif" fill="#111" >0.4</text>
<text x="395" y="436.88" font-size="6.2" text-anchor="end" font-weight="bold" font-family="'Liberation Serif', serif" fill="#111" >0.2</text>
<text x="395" y="446.4" font-size="6.2" text-anchor="end" font-weight="bold" font-family="'Liberation Serif', serif" fill="#111" >0</text>
<text x="395" y="455.92" font-size="6.2" text-anchor="end" font-weight="bold" font-family="'Liberation Serif', serif" fill="#111" >-0.2</text>
<text x="395" y="465.44" font-size="6.2" text-anchor="end" font-weight="bold" font-family="'Liberation Serif', serif" fill="#111" >-0.4</text>
<text x="395" y="474.96" font-size="6.2" text-anchor="end" font-weight="bold" font-family="'Liberation Serif', serif" fill="#111" >-0.6</text>
<text x="395" y="484.48" font-size="6.2" text-anchor="end" font-weight="bold" font-family="'Liberation Serif', serif" fill="#111" >-0.8</text>
<text x="395" y="494" font-size="6.2" text-anchor="end" font-weight="bold" font-family="'Liberation Serif', serif" fill="#111" >-1</text>
<text x="396.1" y="499.1" font-size="6.2" text-anchor="middle" font-weight="bold" font-family="'Liberation Serif', serif" fill="#111" >-0.5</text>
<text x="411" y="499.1" font-size="6.2" text-anchor="middle" font-weight="bold" font-family="'Liberation Serif', serif" fill="#111" >-0.4</text>
<text x="425.9" y="499.1" font-size="6.2" text-anchor="middle" font-weight="bold" font-family="'Liberation Serif', serif" fill="#111" >-0.3</text>
<text x="440.8" y="499.1" font-size="6.2" text-anchor="middle" font-weight="bold" font-family="'Liberation Serif', serif" fill="#111" >-0.2</text>
<text x="455.7" y="499.1" font-size="6.2" text-anchor="middle" font-weight="bold" font-family="'Liberation Serif', serif" fill="#111" >-0.1</text>
<text x="470.6" y="499.1" font-size="6.2" text-anchor="middle" font-weight="bold" font-family="'Liberation Serif', serif" fill="#111" >0</text>
<text x="485.5" y="499.1" font-size="6.2" text-anchor="middle" font-weight="bold" font-family="'Liberation Serif', serif" fill="#111" >0.1</text>
<text x="500.4" y="499.1" font-size="6.2" text-anchor="middle" font-weight="bold" font-family="'Liberation Serif', serif" fill="#111" >0.2</text>
<text x="515.3" y="499.1" font-size="6.2" text-anchor="middle" font-weight="bold" font-family="'Liberation Serif', serif" fill="#111" >0.3</text>
<text x="530.2" y="499.1" font-size="6.2" text-anchor="middle" font-weight="bold" font-family="'Liberation Serif', serif" fill="#111" >0.4</text>
<text x="470.6" y="505.6" font-size="6.2" text-anchor="middle" font-weight="bold" font-family="'Liberation Serif', serif" fill="#111" >p[1]</text>
<text x="382.7" y="444.3" font-size="6.2" text-anchor="middle" font-weight="bold" font-family="'Liberation Serif', serif" fill="#111" transform="rotate(-90 382.7 444.3)" >p(corr)[1]</text>
<circle cx="369.3" cy="400" r="1.9" fill="#22b34a"/>
<rect x="368.25" y="404.65" width="2.1" height="2.1" fill="#2a38a0"/>
<text x="371.6" y="401.7" font-size="4.6" text-anchor="start" font-weight="bold" font-family="'Liberation Serif', serif" fill="#111" >R2</text>
<text x="371.6" y="407.4" font-size="4.6" text-anchor="start" font-weight="bold" font-family="'Liberation Serif', serif" fill="#111" >Q2</text>
</g>
</svg></body></html>
